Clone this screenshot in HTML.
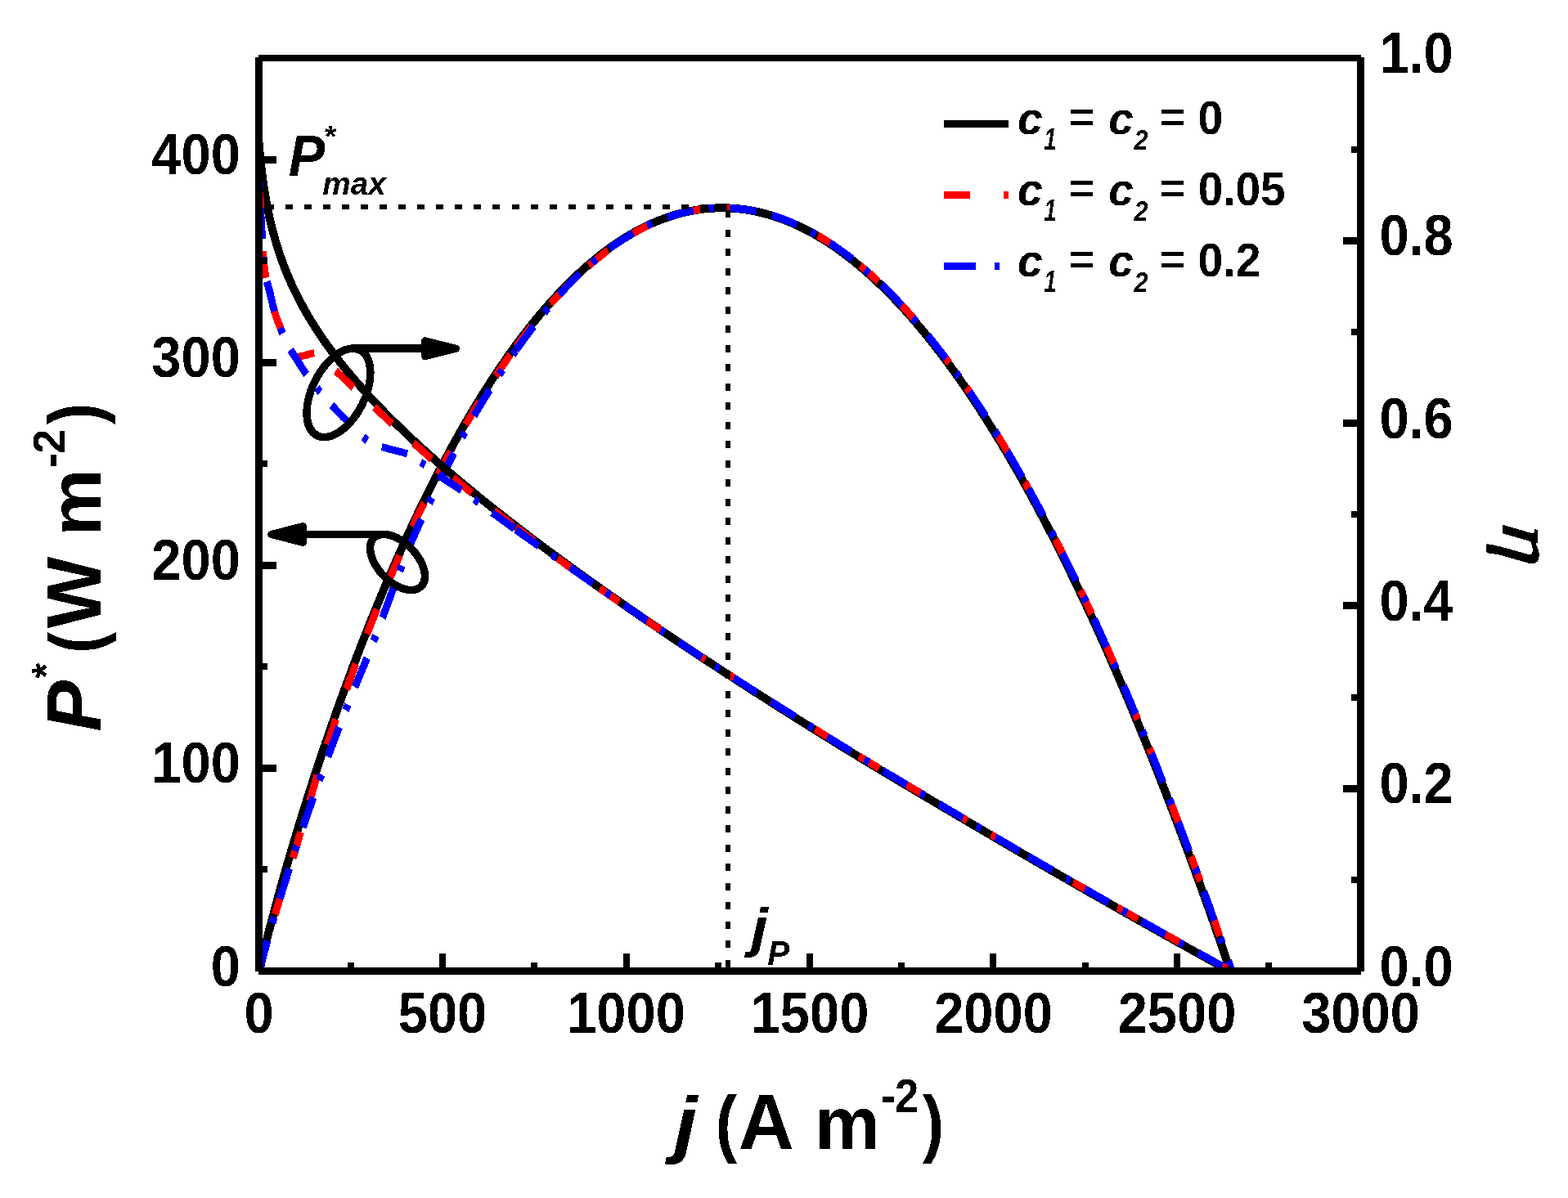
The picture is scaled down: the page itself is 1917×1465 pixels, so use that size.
<!DOCTYPE html>
<html lang="en"><head><meta charset="utf-8"><title>P* and efficiency versus current density j</title>
<style>html,body{margin:0;padding:0;background:#fff}body{width:1917px;height:1465px;overflow:hidden}svg{display:block}text{font-family:"Liberation Sans",Arial,Helvetica,sans-serif;font-weight:bold;fill:#000}.i{font-style:italic}</style></head><body>
<svg xmlns="http://www.w3.org/2000/svg" width="1917" height="1465" viewBox="0 0 1917 1465">
<defs><clipPath id="cp"><rect x="316" y="71" width="1348" height="1117"/></clipPath><filter id="bw" filterUnits="userSpaceOnUse" x="0" y="0" width="1917" height="1465" color-interpolation-filters="sRGB"><feComponentTransfer><feFuncA type="discrete" tableValues="0 1"/></feComponentTransfer></filter></defs>
<rect width="1917" height="1465" fill="#fff"/>
<g clip-path="url(#cp)" shape-rendering="crispEdges">
<path d="M316.5,1187.5 316.6,1187.5 316.7,1187.5 316.8,1187.5 316.9,1187.5 317.0,1187.5 317.1,1187.5 317.2,1187.0 317.3,1186.6 317.4,1186.1 317.5,1185.7 317.6,1185.2 317.7,1184.8 317.8,1184.3 317.9,1183.9 318.0,1183.4 318.1,1183.0 318.2,1182.5 318.3,1182.1 318.4,1181.7 318.5,1181.2 318.6,1180.8 318.7,1180.3 318.8,1179.9 318.9,1179.5 319.0,1179.0 319.1,1178.6 319.2,1178.1 319.3,1177.7 319.4,1177.3 319.5,1176.8 319.6,1176.4 319.7,1176.0 319.8,1175.5 319.9,1175.1 320.0,1174.7 320.1,1174.3 320.2,1173.8 320.3,1173.4 320.4,1173.0 320.5,1172.5 320.6,1172.1 320.7,1171.7 320.8,1171.3 320.9,1170.8 321.0,1170.4 321.1,1170.0 321.2,1169.6 321.3,1169.1 321.4,1168.7 321.5,1168.3 321.6,1167.9 321.7,1167.5 321.8,1167.0 321.9,1166.6 322.0,1166.2 322.1,1165.8 322.2,1165.4 322.3,1164.9 322.4,1164.5 322.5,1164.1 322.6,1163.7 322.7,1163.3 322.8,1162.9 322.9,1162.5 323.0,1162.0 323.1,1161.6 323.2,1161.2 323.3,1160.8 323.4,1160.4 323.5,1160.0 323.6,1159.6 323.7,1159.2 323.8,1158.8 323.9,1158.3 324.0,1157.9 324.1,1157.5 324.2,1157.1 324.3,1156.7 324.4,1156.3 324.5,1155.9 324.6,1155.5 324.7,1155.1 324.8,1154.7 324.9,1154.3 325.0,1153.9 325.1,1153.5 325.2,1153.1 325.3,1152.7 325.4,1152.2 325.5,1151.8 325.6,1151.4 325.7,1151.0 325.8,1150.6 325.9,1150.2 326.0,1149.8 326.1,1149.4 326.2,1149.0 326.3,1148.6 326.4,1148.2 326.5,1147.8 326.6,1147.4 326.7,1147.0 326.8,1146.6 326.9,1146.2 327.0,1145.8 327.1,1145.4 327.2,1145.1 327.3,1144.7 327.4,1144.3 327.5,1143.9 327.6,1143.5 327.7,1143.1 327.8,1142.7 327.9,1142.3 328.0,1141.9 328.1,1141.5 328.2,1141.1 328.3,1140.7 328.4,1140.3 328.5,1139.9 328.6,1139.5 328.7,1139.1 328.8,1138.7 328.9,1138.4 329.0,1138.0 329.1,1137.6 329.2,1137.2 329.3,1136.8 329.4,1136.4 329.5,1136.0 329.6,1135.6 329.7,1135.2 329.8,1134.8 329.9,1134.5 330.0,1134.1 330.1,1133.7 330.2,1133.3 330.3,1132.9 330.4,1132.5 330.5,1132.1 330.6,1131.7 330.7,1131.4 330.8,1131.0 330.9,1130.6 331.0,1130.2 331.1,1129.8 331.2,1129.4 331.3,1129.1 331.4,1128.7 331.6,1128.3 331.7,1127.9 331.8,1127.5 331.9,1127.1 332.0,1126.8 332.1,1126.4 332.2,1126.0 332.3,1125.6 332.4,1125.2 332.5,1124.8 332.6,1124.5 332.7,1124.1 332.8,1123.7 332.9,1123.3 333.0,1122.9 333.1,1122.6 333.2,1122.2 333.3,1121.8 333.4,1121.4 333.5,1121.0 333.6,1120.7 333.7,1120.3 333.8,1119.9 333.9,1119.5 334.0,1119.1 334.1,1118.8 334.2,1118.4 334.3,1118.0 334.4,1117.6 334.5,1117.3 334.6,1116.9 334.7,1116.5 334.8,1116.1 334.9,1115.8 335.0,1115.4 335.1,1115.0 335.2,1114.6 335.3,1114.3 335.4,1113.9 335.5,1113.5 335.6,1113.1 335.7,1112.8 335.8,1112.4 335.9,1112.0 336.0,1111.6 336.1,1111.3 336.2,1110.9 336.3,1110.5 336.4,1110.1 336.5,1109.8 336.6,1109.4 336.7,1109.0 336.8,1108.7 336.9,1108.3 337.0,1107.9 337.1,1107.5 337.2,1107.2 337.3,1106.8 337.4,1106.4 337.5,1106.1 337.6,1105.7 337.7,1105.3 337.8,1105.0 337.9,1104.6 338.0,1104.2 338.1,1103.9 338.2,1103.5 338.3,1103.1 338.4,1102.7 338.5,1102.4 338.6,1102.0 338.7,1101.6 338.8,1101.3 338.9,1100.9 339.0,1100.5 339.1,1100.2 339.2,1099.8 339.3,1099.4 339.4,1099.1 339.5,1098.7 339.6,1098.3 339.7,1098.0 339.8,1097.6 339.9,1097.2 340.0,1096.9 340.1,1096.5 340.2,1096.2 340.3,1095.8 340.4,1095.4 340.5,1095.1 340.6,1094.7 340.7,1094.3 340.8,1094.0 340.9,1093.6 341.0,1093.2 341.1,1092.9 341.2,1092.5 341.3,1092.2 341.4,1091.8 341.5,1091.4 341.6,1091.1 341.7,1090.7 341.8,1090.3 341.9,1090.0 342.0,1089.6 342.1,1089.3 342.2,1088.9 342.3,1088.5 342.4,1088.2 342.5,1087.8 342.6,1087.5 342.7,1087.1 342.8,1086.7 342.9,1086.4 343.0,1086.0 343.1,1085.7 343.2,1085.3 343.3,1084.9 343.4,1084.6 343.5,1084.2 343.6,1083.9 343.7,1083.5 343.8,1083.1 343.9,1082.8 344.0,1082.4 344.1,1082.1 344.2,1081.7 344.3,1081.4 344.4,1081.0 344.5,1080.6 344.6,1080.3 344.7,1079.9 344.8,1079.6 344.9,1079.2 345.0,1078.9 345.1,1078.5 345.2,1078.2 345.3,1077.8 345.4,1077.4 345.5,1077.1 345.6,1076.7 345.7,1076.4 345.8,1076.0 345.9,1075.7 346.0,1075.3 346.1,1075.0 346.2,1074.6 346.3,1074.3 346.4,1073.9 346.5,1073.5 346.9,1072.0 347.4,1070.4 347.8,1068.9 348.3,1067.3 348.7,1065.7 349.2,1064.2 349.6,1062.6 350.1,1061.1 350.5,1059.6 351.0,1058.0 351.4,1056.5 351.8,1054.9 352.3,1053.4 352.7,1051.9 353.2,1050.4 353.6,1048.8 354.1,1047.3 354.5,1045.8 355.0,1044.3 355.4,1042.8 355.9,1041.3 356.3,1039.8 356.7,1038.3 357.2,1036.8 357.6,1035.3 358.1,1033.8 358.5,1032.3 359.0,1030.8 359.4,1029.3 359.9,1027.8 360.3,1026.3 360.7,1024.9 361.2,1023.4 361.6,1021.9 362.1,1020.4 362.5,1019.0 363.0,1017.5 363.4,1016.0 363.9,1014.6 364.3,1013.1 364.8,1011.7 365.2,1010.2 365.6,1008.7 366.1,1007.3 366.5,1005.8 367.0,1004.4 367.4,1003.0 367.9,1001.5 368.3,1000.1 368.8,998.6 369.2,997.2 369.7,995.8 370.1,994.3 370.5,992.9 371.0,991.5 371.4,990.1 371.9,988.6 372.3,987.2 372.8,985.8 373.2,984.4 373.7,983.0 374.1,981.6 374.6,980.2 375.0,978.8 375.4,977.3 375.9,975.9 376.3,974.5 376.8,973.2 377.2,971.8 377.7,970.4 378.1,969.0 378.6,967.6 379.0,966.2 379.4,964.8 379.9,963.4 380.3,962.0 380.8,960.7 381.2,959.3 381.7,957.9 382.1,956.5 382.6,955.2 383.0,953.8 383.5,952.4 383.9,951.1 384.3,949.7 384.8,948.3 385.2,947.0 385.7,945.6 386.1,944.3 386.6,942.9 387.0,941.6 387.5,940.2 387.9,938.9 388.4,937.5 388.8,936.2 389.2,934.8 389.7,933.5 390.1,932.2 390.6,930.8 391.0,929.5 391.5,928.2 391.9,926.8 392.4,925.5 392.8,924.2 393.3,922.8 393.7,921.5 394.1,920.2 394.6,918.9 395.0,917.6 395.5,916.2 395.9,914.9 396.4,913.6 396.8,912.3 397.3,911.0 397.7,909.7 398.1,908.4 398.6,907.1 399.0,905.8 399.5,904.5 399.9,903.2 400.4,901.9 400.8,900.6 401.3,899.3 401.7,898.0 402.2,896.7 402.6,895.4 403.0,894.2 403.5,892.9 403.9,891.6 404.4,890.3 404.8,889.0 405.3,887.8 405.7,886.5 406.2,885.2 406.6,883.9 407.1,882.7 407.5,881.4 407.9,880.1 408.4,878.9 408.8,877.6 409.3,876.3 409.7,875.1 410.2,873.8 410.6,872.6 411.1,871.3 411.5,870.1 412.0,868.8 412.4,867.6 412.8,866.3 413.3,865.1 413.7,863.8 414.2,862.6 414.6,861.3 415.1,860.1 415.5,858.9 416.0,857.6 416.4,856.4 416.8,855.2 417.3,853.9 417.7,852.7 418.2,851.5 418.6,850.2 419.1,849.0 419.5,847.8 420.0,846.6 420.4,845.3 420.9,844.1 421.3,842.9 421.7,841.7 422.2,840.5 422.6,839.3 423.1,838.1 423.5,836.9 424.0,835.6 424.4,834.4 424.9,833.2 425.3,832.0 425.8,830.8 426.2,829.6 426.6,828.4 427.1,827.2 427.5,826.0 428.0,824.9 428.4,823.7 428.9,822.5 429.3,821.3 429.8,820.1 430.2,818.9 430.7,817.7 431.1,816.5 431.5,815.4 432.0,814.2 432.4,813.0 432.9,811.8 433.3,810.7 433.8,809.5 434.2,808.3 434.7,807.1 435.1,806.0 435.5,804.8 436.0,803.6 436.4,802.5 436.9,801.3 437.3,800.2 437.8,799.0 438.2,797.8 438.7,796.7 439.1,795.5 439.6,794.4 440.0,793.2 440.4,792.1 440.9,790.9 441.3,789.8 441.8,788.6 442.2,787.5 442.7,786.3 443.1,785.2 443.6,784.1 444.0,782.9 444.5,781.8 444.9,780.7 445.3,779.5 445.8,778.4 446.2,777.3 446.7,776.1 447.1,775.0 447.6,773.9 448.0,772.8 448.5,771.6 448.9,770.5 449.4,769.4 449.8,768.3 450.2,767.1 450.7,766.0 451.1,764.9 451.6,763.8 452.0,762.7 452.5,761.6 452.9,760.5 453.4,759.4 453.8,758.3 454.2,757.2 454.7,756.1 455.1,755.0 455.6,753.9 456.0,752.8 456.5,751.7 456.9,750.6 457.4,749.5 457.8,748.4 458.3,747.3 458.7,746.2 459.1,745.1 459.6,744.0 460.0,742.9 460.5,741.8 460.9,740.8 461.4,739.7 461.8,738.6 462.3,737.5 462.7,736.4 463.2,735.4 463.6,734.3 464.0,733.2 464.5,732.2 464.9,731.1 465.4,730.0 465.8,728.9 466.3,727.9 466.7,726.8 467.2,725.8 467.6,724.7 468.1,723.6 468.5,722.6 468.9,721.5 469.4,720.5 469.8,719.4 470.3,718.4 470.7,717.3 471.2,716.2 471.6,715.2 472.1,714.2 472.5,713.1 472.9,712.1 473.4,711.0 473.8,710.0 474.3,708.9 474.7,707.9 475.2,706.9 475.6,705.8 476.1,704.8 476.5,703.8 477.0,702.7 477.4,701.7 477.8,700.7 478.3,699.6 478.7,698.6 479.2,697.6 479.6,696.6 480.1,695.5 480.5,694.5 481.0,693.5 481.4,692.5 481.9,691.5 482.3,690.4 482.7,689.4 483.2,688.4 483.6,687.4 484.1,686.4 484.5,685.4 485.0,684.4 485.4,683.4 485.9,682.4 486.3,681.3 486.8,680.3 487.2,679.3 487.6,678.3 488.1,677.3 488.5,676.3 489.0,675.4 489.4,674.4 489.9,673.4 490.3,672.4 490.8,671.4 491.2,670.4 491.6,669.4 492.1,668.4 492.5,667.4 493.0,666.5 493.4,665.5 493.9,664.5 494.3,663.5 494.8,662.5 495.2,661.6 495.7,660.6 496.1,659.6 496.5,658.6 497.0,657.7 497.4,656.7 497.9,655.7 498.3,654.7 498.8,653.8 499.2,652.8 499.7,651.9 500.1,650.9 500.6,649.9 501.0,649.0 501.4,648.0 501.9,647.1 502.3,646.1 502.8,645.1 503.2,644.2 503.7,643.2 504.1,642.3 504.6,641.3 505.0,640.4 505.5,639.4 505.9,638.5 506.3,637.5 506.8,636.6 507.2,635.7 507.7,634.7 508.1,633.8 508.6,632.8 509.0,631.9 509.5,631.0 509.9,630.0 510.3,629.1 510.8,628.2 511.2,627.2 511.7,626.3 512.1,625.4 512.6,624.5 513.0,623.5 513.5,622.6 513.9,621.7 514.4,620.8 514.8,619.9 515.2,618.9 515.7,618.0 516.1,617.1 516.6,616.2 517.0,615.3 517.5,614.4 517.9,613.5 518.4,612.5 518.8,611.6 519.3,610.7 519.7,609.8 520.1,608.9 520.6,608.0 521.0,607.1 521.5,606.2 521.9,605.3 522.4,604.4 522.8,603.5 523.3,602.6 523.7,601.7 524.2,600.8 524.6,599.9 525.0,599.1 525.5,598.2 525.9,597.3 526.4,596.4 526.8,595.5 527.3,594.6 527.7,593.7 528.2,592.9 528.6,592.0 529.0,591.1 529.5,590.2 529.9,589.3 530.4,588.5 530.8,587.6 531.3,586.7 531.7,585.8 532.2,585.0 532.6,584.1 533.1,583.2 533.5,582.4 533.9,581.5 534.4,580.6 534.8,579.8 535.3,578.9 535.7,578.1 536.2,577.2 536.6,576.3 537.1,575.5 537.5,574.6 538.0,573.8 538.4,572.9 538.8,572.1 539.3,571.2 539.7,570.4 540.2,569.5 540.6,568.7 541.1,567.8 541.5,567.0 542.0,566.2 542.4,565.3 542.9,564.5 543.3,563.6 543.7,562.8 544.2,562.0 544.6,561.1 545.1,560.3 545.5,559.5 546.0,558.6 546.4,557.8 546.9,557.0 547.3,556.1 547.7,555.3 548.2,554.5 548.6,553.7 549.1,552.8 549.5,552.0 550.0,551.2 550.4,550.4 550.9,549.6 551.3,548.7 551.8,547.9 552.2,547.1 552.6,546.3 553.1,545.5 553.5,544.7 554.0,543.9 554.4,543.1 554.9,542.2 555.3,541.4 555.8,540.6 556.2,539.8 556.7,539.0 557.1,538.2 557.5,537.4 558.0,536.6 558.4,535.8 558.9,535.0 559.3,534.2 559.8,533.5 560.2,532.7 560.7,531.9 561.1,531.1 561.6,530.3 562.0,529.5 562.4,528.7 562.9,527.9 563.3,527.1 563.8,526.4 564.2,525.6 564.7,524.8 565.1,524.0 565.6,523.2 566.0,522.5 566.4,521.7 566.9,520.9 567.3,520.1 567.8,519.4 568.2,518.6 568.7,517.8 569.1,517.1 569.6,516.3 570.0,515.5 570.5,514.8 570.9,514.0 571.3,513.2 571.8,512.5 572.2,511.7 572.7,511.0 573.1,510.2 573.6,509.5 574.0,508.7 574.5,507.9 574.9,507.2 575.4,506.4 575.8,505.7 576.2,504.9 576.7,504.2 577.1,503.4 577.6,502.7 578.0,502.0 578.5,501.2 578.9,500.5 579.4,499.7 579.8,499.0 580.3,498.3 580.7,497.5 581.1,496.8 581.6,496.0 582.0,495.3 582.5,494.6 582.9,493.9 583.4,493.1 583.8,492.4 584.3,491.7 584.7,490.9 585.1,490.2 585.6,489.5 586.0,488.8 586.5,488.0 586.9,487.3 587.4,486.6 587.8,485.9 588.3,485.2 588.7,484.5 589.2,483.7 589.6,483.0 590.0,482.3 590.5,481.6 590.9,480.9 591.4,480.2 591.8,479.5 592.3,478.8 592.7,478.1 593.2,477.4 593.6,476.7 594.1,476.0 594.5,475.3 594.9,474.6 595.4,473.9 595.8,473.2 596.3,472.5 596.7,471.8 597.2,471.1 597.6,470.4 598.1,469.7 598.5,469.0 599.0,468.3 599.4,467.6 599.8,466.9 600.3,466.3 600.7,465.6 601.2,464.9 601.6,464.2 602.1,463.5 602.5,462.9 603.0,462.2 603.4,461.5 603.8,460.8 604.3,460.2 604.7,459.5 605.2,458.8 605.6,458.1 606.1,457.5 606.5,456.8 607.0,456.1 607.4,455.5 607.9,454.8 608.3,454.1 608.7,453.5 609.2,452.8 609.6,452.1 610.1,451.5 610.5,450.8 611.0,450.2 611.4,449.5 611.9,448.9 612.3,448.2 612.8,447.6 613.2,446.9 613.6,446.3 614.1,445.6 614.5,445.0 615.0,444.3 615.4,443.7 615.9,443.0 616.3,442.4 616.8,441.7 617.2,441.1 617.7,440.5 618.1,439.8 618.5,439.2 619.0,438.5 619.4,437.9 619.9,437.3 620.3,436.6 620.8,436.0 621.2,435.4 621.7,434.8 622.1,434.1 622.5,433.5 623.0,432.9 623.4,432.2 623.9,431.6 624.3,431.0 624.8,430.4 625.2,429.8 625.7,429.1 626.1,428.5 626.6,427.9 627.0,427.3 627.4,426.7 627.9,426.1 628.3,425.5 628.8,424.8 629.2,424.2 629.7,423.6 630.1,423.0 630.6,422.4 631.0,421.8 631.5,421.2 631.9,420.6 632.3,420.0 632.8,419.4 633.2,418.8 633.7,418.2 634.1,417.6 634.6,417.0 635.0,416.4 635.5,415.8 635.9,415.2 636.4,414.6 636.8,414.0 637.2,413.5 637.7,412.9 638.1,412.3 638.6,411.7 639.0,411.1 639.5,410.5 639.9,409.9 640.4,409.4 640.8,408.8 641.2,408.2 641.7,407.6 642.1,407.0 642.6,406.5 643.0,405.9 643.5,405.3 643.9,404.8 644.4,404.2 644.8,403.6 645.3,403.0 645.7,402.5 646.1,401.9 646.6,401.3 647.0,400.8 647.5,400.2 647.9,399.7 648.4,399.1 648.8,398.5 649.3,398.0 649.7,397.4 650.2,396.9 650.6,396.3 651.0,395.8 651.5,395.2 651.9,394.6 652.4,394.1 652.8,393.5 653.3,393.0 653.7,392.5 654.2,391.9 654.6,391.4 655.1,390.8 655.5,390.3 655.9,389.7 656.4,389.2 656.8,388.7 657.3,388.1 657.7,387.6 658.2,387.0 658.6,386.5 659.1,386.0 659.5,385.4 659.9,384.9 660.4,384.4 660.8,383.8 661.3,383.3 661.7,382.8 662.2,382.3 662.6,381.7 663.1,381.2 663.5,380.7 664.0,380.2 664.4,379.7 664.8,379.1 665.3,378.6 665.7,378.1 666.2,377.6 666.6,377.1 667.1,376.6 667.5,376.0 668.0,375.5 668.4,375.0 668.9,374.5 669.3,374.0 669.7,373.5 670.2,373.0 670.6,372.5 671.1,372.0 671.5,371.5 672.0,371.0 672.4,370.5 672.9,370.0 673.3,369.5 673.8,369.0 674.2,368.5 674.6,368.0 675.1,367.5 675.5,367.0 676.0,366.5 676.4,366.0 676.9,365.5 677.3,365.0 677.8,364.6 678.2,364.1 678.6,363.6 679.1,363.1 679.5,362.6 680.0,362.1 680.4,361.7 680.9,361.2 681.3,360.7 681.8,360.2 682.2,359.8 682.7,359.3 683.1,358.8 683.5,358.3 684.0,357.9 684.4,357.4 684.9,356.9 685.3,356.5 685.8,356.0 686.2,355.5 686.7,355.1 687.1,354.6 687.6,354.1 688.0,353.7 688.4,353.2 688.9,352.7 689.3,352.3 689.8,351.8 690.2,351.4 690.7,350.9 691.1,350.5 691.6,350.0 692.0,349.6 692.5,349.1 692.9,348.7 693.3,348.2 693.8,347.8 694.2,347.3 694.7,346.9 695.1,346.4 695.6,346.0 696.0,345.5 696.5,345.1 696.9,344.7 697.3,344.2 697.8,343.8 698.2,343.4 698.7,342.9 699.1,342.5 699.6,342.1 700.0,341.6 700.5,341.2 700.9,340.8 701.4,340.3 701.8,339.9 702.2,339.5 702.7,339.1 703.1,338.6 703.6,338.2 704.0,337.8 704.5,337.4 704.9,336.9 705.4,336.5 705.8,336.1 706.3,335.7 706.7,335.3 707.1,334.9 707.6,334.4 708.0,334.0 708.5,333.6 708.9,333.2 709.4,332.8 709.8,332.4 710.3,332.0 710.7,331.6 711.2,331.2 711.6,330.8 712.0,330.4 712.5,330.0 712.9,329.6 713.4,329.2 713.8,328.8 714.3,328.4 714.7,328.0 715.2,327.6 715.6,327.2 716.0,326.8 716.5,326.4 716.9,326.0 717.4,325.6 717.8,325.2 718.3,324.9 718.7,324.5 719.2,324.1 719.6,323.7 720.1,323.3 720.5,322.9 720.9,322.6 721.4,322.2 721.8,321.8 722.3,321.4 722.7,321.0 723.2,320.7 723.6,320.3 724.1,319.9 724.5,319.6 725.0,319.2 725.4,318.8 725.8,318.4 726.3,318.1 726.7,317.7 727.2,317.3 727.6,317.0 728.1,316.6 728.5,316.3 729.0,315.9 729.4,315.5 729.9,315.2 730.3,314.8 730.7,314.5 731.2,314.1 731.6,313.7 732.1,313.4 732.5,313.0 733.0,312.7 733.4,312.3 733.9,312.0 734.3,311.6 734.7,311.3 735.2,311.0 735.6,310.6 736.1,310.3 736.5,309.9 737.0,309.6 737.4,309.2 737.9,308.9 738.3,308.6 738.8,308.2 739.2,307.9 739.6,307.5 740.1,307.2 740.5,306.9 741.0,306.5 741.4,306.2 741.9,305.9 742.3,305.6 742.8,305.2 743.2,304.9 743.7,304.6 744.1,304.3 744.5,303.9 745.0,303.6 745.4,303.3 745.9,303.0 746.3,302.6 746.8,302.3 747.2,302.0 747.7,301.7 748.1,301.4 748.6,301.1 749.0,300.8 749.4,300.4 749.9,300.1 750.3,299.8 750.8,299.5 751.2,299.2 751.7,298.9 752.1,298.6 752.6,298.3 753.0,298.0 753.4,297.7 753.9,297.4 754.3,297.1 754.8,296.8 755.2,296.5 755.7,296.2 756.1,295.9 756.6,295.6 757.0,295.3 757.5,295.0 757.9,294.7 758.3,294.4 758.8,294.1 759.2,293.9 759.7,293.6 760.1,293.3 760.6,293.0 761.0,292.7 761.5,292.4 761.9,292.1 762.4,291.9 762.8,291.6 763.2,291.3 763.7,291.0 764.1,290.8 764.6,290.5 765.0,290.2 765.5,289.9 765.9,289.7 766.4,289.4 766.8,289.1 767.3,288.8 767.7,288.6 768.1,288.3 768.6,288.0 769.0,287.8 769.5,287.5 769.9,287.3 770.4,287.0 770.8,286.7 771.3,286.5 771.7,286.2 772.1,286.0 772.6,285.7 773.0,285.4 773.5,285.2 773.9,284.9 774.4,284.7 774.8,284.4 775.3,284.2 775.7,283.9 776.2,283.7 776.6,283.4 777.0,283.2 777.5,282.9 777.9,282.7 778.4,282.5 778.8,282.2 779.3,282.0 779.7,281.7 780.2,281.5 780.6,281.3 781.1,281.0 781.5,280.8 781.9,280.6 782.4,280.3 782.8,280.1 783.3,279.9 783.7,279.6 784.2,279.4 784.6,279.2 785.1,278.9 785.5,278.7 786.0,278.5 786.4,278.3 786.8,278.1 787.3,277.8 787.7,277.6 788.2,277.4 788.6,277.2 789.1,277.0 789.5,276.7 790.0,276.5 790.4,276.3 790.8,276.1 791.3,275.9 791.7,275.7 792.2,275.5 792.6,275.3 793.1,275.0 793.5,274.8 794.0,274.6 794.4,274.4 794.9,274.2 795.3,274.0 795.7,273.8 796.2,273.6 796.6,273.4 797.1,273.2 797.5,273.0 798.0,272.8 798.4,272.6 798.9,272.4 799.3,272.2 799.8,272.0 800.2,271.9 800.6,271.7 801.1,271.5 801.5,271.3 802.0,271.1 802.4,270.9 802.9,270.7 803.3,270.5 803.8,270.4 804.2,270.2 804.7,270.0 805.1,269.8 805.5,269.6 806.0,269.5 806.4,269.3 806.9,269.1 807.3,268.9 807.8,268.8 808.2,268.6 808.7,268.4 809.1,268.3 809.5,268.1 810.0,267.9 810.4,267.7 810.9,267.6 811.3,267.4 811.8,267.3 812.2,267.1 812.7,266.9 813.1,266.8 813.6,266.6 814.0,266.4 814.4,266.3 814.9,266.1 815.3,266.0 815.8,265.8 816.2,265.7 816.7,265.5 817.1,265.4 817.6,265.2 818.0,265.1 818.5,264.9 818.9,264.8 819.3,264.6 819.8,264.5 820.2,264.3 820.7,264.2 821.1,264.0 821.6,263.9 822.0,263.8 822.5,263.6 822.9,263.5 823.4,263.3 823.8,263.2 824.2,263.1 824.7,262.9 825.1,262.8 825.6,262.7 826.0,262.5 826.5,262.4 826.9,262.3 827.4,262.2 827.8,262.0 828.2,261.9 828.7,261.8 829.1,261.7 829.6,261.5 830.0,261.4 830.5,261.3 830.9,261.2 831.4,261.1 831.8,260.9 832.3,260.8 832.7,260.7 833.1,260.6 833.6,260.5 834.0,260.4 834.5,260.3 834.9,260.1 835.4,260.0 835.8,259.9 836.3,259.8 836.7,259.7 837.2,259.6 837.6,259.5 838.0,259.4 838.5,259.3 838.9,259.2 839.4,259.1 839.8,259.0 840.3,258.9 840.7,258.8 841.2,258.7 841.6,258.6 842.1,258.5 842.5,258.4 842.9,258.3 843.4,258.2 843.8,258.2 844.3,258.1 844.7,258.0 845.2,257.9 845.6,257.8 846.1,257.7 846.5,257.6 846.9,257.6 847.4,257.5 847.8,257.4 848.3,257.3 848.7,257.2 849.2,257.2 849.6,257.1 850.1,257.0 850.5,256.9 851.0,256.9 851.4,256.8 851.8,256.7 852.3,256.6 852.7,256.6 853.2,256.5 853.6,256.4 854.1,256.4 854.5,256.3 855.0,256.2 855.4,256.2 855.9,256.1 856.3,256.1 856.7,256.0 857.2,255.9 857.6,255.9 858.1,255.8 858.5,255.8 859.0,255.7 859.4,255.7 859.9,255.6 860.3,255.6 860.8,255.5 861.2,255.5 861.6,255.4 862.1,255.4 862.5,255.3 863.0,255.3 863.4,255.2 863.9,255.2 864.3,255.1 864.8,255.1 865.2,255.1 865.6,255.0 866.1,255.0 866.5,254.9 867.0,254.9 867.4,254.9 867.9,254.8 868.3,254.8 868.8,254.8 869.2,254.7 869.7,254.7 870.1,254.7 870.5,254.7 871.0,254.6 871.4,254.6 871.9,254.6 872.3,254.5 872.8,254.5 873.2,254.5 873.7,254.5 874.1,254.5 874.6,254.4 875.0,254.4 875.4,254.4 875.9,254.4 876.3,254.4 876.8,254.4 877.2,254.3 877.7,254.3 878.1,254.3 878.6,254.3 879.0,254.3 879.5,254.3 879.9,254.3 880.3,254.3 880.8,254.3 881.2,254.3 881.7,254.3 882.1,254.3 882.6,254.3 883.0,254.3 883.5,254.3 883.9,254.3 884.3,254.3 884.8,254.3 885.2,254.3 885.7,254.3 886.1,254.3 886.6,254.3 887.0,254.3 887.5,254.3 887.9,254.3 888.4,254.4 888.8,254.4 889.2,254.4 889.7,254.4 890.1,254.4 890.6,254.4 891.0,254.4 891.5,254.5 891.9,254.5 892.4,254.5 892.8,254.5 893.3,254.6 893.7,254.6 894.1,254.6 894.6,254.6 895.0,254.7 895.5,254.7 895.9,254.7 896.4,254.7 896.8,254.8 897.3,254.8 897.7,254.8 898.2,254.9 898.6,254.9 899.0,255.0 899.5,255.0 899.9,255.0 900.4,255.1 900.8,255.1 901.3,255.2 901.7,255.2 902.2,255.2 902.6,255.3 903.0,255.3 903.5,255.4 903.9,255.4 904.4,255.5 904.8,255.5 905.3,255.6 905.7,255.6 906.2,255.7 906.6,255.7 907.1,255.8 907.5,255.8 907.9,255.9 908.4,256.0 908.8,256.0 909.3,256.1 909.7,256.1 910.2,256.2 910.6,256.3 911.1,256.3 911.5,256.4 912.0,256.5 912.4,256.5 912.8,256.6 913.3,256.7 913.7,256.7 914.2,256.8 914.6,256.9 915.1,256.9 915.5,257.0 916.0,257.1 916.4,257.2 916.9,257.2 917.3,257.3 917.7,257.4 918.2,257.5 918.6,257.6 919.1,257.6 919.5,257.7 920.0,257.8 920.4,257.9 920.9,258.0 921.3,258.1 921.7,258.2 922.2,258.2 922.6,258.3 923.1,258.4 923.5,258.5 924.0,258.6 924.4,258.7 924.9,258.8 925.3,258.9 925.8,259.0 926.2,259.1 926.6,259.2 927.1,259.3 927.5,259.4 928.0,259.5 928.4,259.6 928.9,259.7 929.3,259.8 929.8,259.9 930.2,260.0 930.7,260.1 931.1,260.2 931.5,260.3 932.0,260.4 932.4,260.6 932.9,260.7 933.3,260.8 933.8,260.9 934.2,261.0 934.7,261.1 935.1,261.3 935.6,261.4 936.0,261.5 936.4,261.6 936.9,261.7 937.3,261.9 937.8,262.0 938.2,262.1 938.7,262.2 939.1,262.4 939.6,262.5 940.0,262.6 940.4,262.7 940.9,262.9 941.3,263.0 941.8,263.1 942.2,263.3 942.7,263.4 943.1,263.5 943.6,263.7 944.0,263.8 944.5,264.0 944.9,264.1 945.3,264.2 945.8,264.4 946.2,264.5 946.7,264.7 947.1,264.8 947.6,265.0 948.0,265.1 948.5,265.2 948.9,265.4 949.4,265.5 949.8,265.7 950.2,265.8 950.7,266.0 951.1,266.2 951.6,266.3 952.0,266.5 952.5,266.6 952.9,266.8 953.4,266.9 953.8,267.1 954.3,267.3 954.7,267.4 955.1,267.6 955.6,267.7 956.0,267.9 956.5,268.1 956.9,268.2 957.4,268.4 957.8,268.6 958.3,268.7 958.7,268.9 959.1,269.1 959.6,269.3 960.0,269.4 960.5,269.6 960.9,269.8 961.4,270.0 961.8,270.1 962.3,270.3 962.7,270.5 963.2,270.7 963.6,270.9 964.0,271.0 964.5,271.2 964.9,271.4 965.4,271.6 965.8,271.8 966.3,272.0 966.7,272.2 967.2,272.3 967.6,272.5 968.1,272.7 968.5,272.9 968.9,273.1 969.4,273.3 969.8,273.5 970.3,273.7 970.7,273.9 971.2,274.1 971.6,274.3 972.1,274.5 972.5,274.7 973.0,274.9 973.4,275.1 973.8,275.3 974.3,275.5 974.7,275.7 975.2,275.9 975.6,276.1 976.1,276.3 976.5,276.5 977.0,276.8 977.4,277.0 977.8,277.2 978.3,277.4 978.7,277.6 979.2,277.8 979.6,278.0 980.1,278.3 980.5,278.5 981.0,278.7 981.4,278.9 981.9,279.1 982.3,279.4 982.7,279.6 983.2,279.8 983.6,280.0 984.1,280.3 984.5,280.5 985.0,280.7 985.4,281.0 985.9,281.2 986.3,281.4 986.8,281.6 987.2,281.9 987.6,282.1 988.1,282.4 988.5,282.6 989.0,282.8 989.4,283.1 989.9,283.3 990.3,283.5 990.8,283.8 991.2,284.0 991.7,284.3 992.1,284.5 992.5,284.8 993.0,285.0 993.4,285.3 993.9,285.5 994.3,285.8 994.8,286.0 995.2,286.3 995.7,286.5 996.1,286.8 996.5,287.0 997.0,287.3 997.4,287.5 997.9,287.8 998.3,288.0 998.8,288.3 999.2,288.6 999.7,288.8 1000.1,289.1 1000.6,289.3 1001.0,289.6 1001.4,289.9 1001.9,290.1 1002.3,290.4 1002.8,290.7 1003.2,290.9 1003.7,291.2 1004.1,291.5 1004.6,291.8 1005.0,292.0 1005.5,292.3 1005.9,292.6 1006.3,292.8 1006.8,293.1 1007.2,293.4 1007.7,293.7 1008.1,294.0 1008.6,294.2 1009.0,294.5 1009.5,294.8 1009.9,295.1 1010.4,295.4 1010.8,295.7 1011.2,295.9 1011.7,296.2 1012.1,296.5 1012.6,296.8 1013.0,297.1 1013.5,297.4 1013.9,297.7 1014.4,298.0 1014.8,298.3 1015.2,298.6 1015.7,298.9 1016.1,299.2 1016.6,299.5 1017.0,299.8 1017.5,300.1 1017.9,300.4 1018.4,300.7 1018.8,301.0 1019.3,301.3 1019.7,301.6 1020.1,301.9 1020.6,302.2 1021.0,302.5 1021.5,302.8 1021.9,303.1 1022.4,303.4 1022.8,303.7 1023.3,304.0 1023.7,304.4 1024.2,304.7 1024.6,305.0 1025.0,305.3 1025.5,305.6 1025.9,305.9 1026.4,306.3 1026.8,306.6 1027.3,306.9 1027.7,307.2 1028.2,307.5 1028.6,307.9 1029.1,308.2 1029.5,308.5 1029.9,308.9 1030.4,309.2 1030.8,309.5 1031.3,309.8 1031.7,310.2 1032.2,310.5 1032.6,310.8 1033.1,311.2 1033.5,311.5 1033.9,311.8 1034.4,312.2 1034.8,312.5 1035.3,312.9 1035.7,313.2 1036.2,313.5 1036.6,313.9 1037.1,314.2 1037.5,314.6 1038.0,314.9 1038.4,315.3 1038.8,315.6 1039.3,315.9 1039.7,316.3 1040.2,316.6 1040.6,317.0 1041.1,317.3 1041.5,317.7 1042.0,318.1 1042.4,318.4 1042.9,318.8 1043.3,319.1 1043.7,319.5 1044.2,319.8 1044.6,320.2 1045.1,320.6 1045.5,320.9 1046.0,321.3 1046.4,321.6 1046.9,322.0 1047.3,322.4 1047.8,322.7 1048.2,323.1 1048.6,323.5 1049.1,323.8 1049.5,324.2 1050.0,324.6 1050.4,325.0 1050.9,325.3 1051.3,325.7 1051.8,326.1 1052.2,326.4 1052.6,326.8 1053.1,327.2 1053.5,327.6 1054.0,328.0 1054.4,328.3 1054.9,328.7 1055.3,329.1 1055.8,329.5 1056.2,329.9 1056.7,330.3 1057.1,330.6 1057.5,331.0 1058.0,331.4 1058.4,331.8 1058.9,332.2 1059.3,332.6 1059.8,333.0 1060.2,333.4 1060.7,333.8 1061.1,334.2 1061.6,334.6 1062.0,335.0 1062.4,335.4 1062.9,335.7 1063.3,336.1 1063.8,336.5 1064.2,337.0 1064.7,337.4 1065.1,337.8 1065.6,338.2 1066.0,338.6 1066.5,339.0 1066.9,339.4 1067.3,339.8 1067.8,340.2 1068.2,340.6 1068.7,341.0 1069.1,341.4 1069.6,341.8 1070.0,342.3 1070.5,342.7 1070.9,343.1 1071.3,343.5 1071.8,343.9 1072.2,344.3 1072.7,344.8 1073.1,345.2 1073.6,345.6 1074.0,346.0 1074.5,346.5 1074.9,346.9 1075.4,347.3 1075.8,347.7 1076.2,348.2 1076.7,348.6 1077.1,349.0 1077.6,349.4 1078.0,349.9 1078.5,350.3 1078.9,350.7 1079.4,351.2 1079.8,351.6 1080.3,352.0 1080.7,352.5 1081.1,352.9 1081.6,353.4 1082.0,353.8 1082.5,354.2 1082.9,354.7 1083.4,355.1 1083.8,355.6 1084.3,356.0 1084.7,356.5 1085.2,356.9 1085.6,357.4 1086.0,357.8 1086.5,358.3 1086.9,358.7 1087.4,359.2 1087.8,359.6 1088.3,360.1 1088.7,360.5 1089.2,361.0 1089.6,361.4 1090.0,361.9 1090.5,362.3 1090.9,362.8 1091.4,363.3 1091.8,363.7 1092.3,364.2 1092.7,364.6 1093.2,365.1 1093.6,365.6 1094.1,366.0 1094.5,366.5 1094.9,367.0 1095.4,367.4 1095.8,367.9 1096.3,368.4 1096.7,368.9 1097.2,369.3 1097.6,369.8 1098.1,370.3 1098.5,370.7 1099.0,371.2 1099.4,371.7 1099.8,372.2 1100.3,372.7 1100.7,373.1 1101.2,373.6 1101.6,374.1 1102.1,374.6 1102.5,375.1 1103.0,375.6 1103.4,376.0 1103.9,376.5 1104.3,377.0 1104.7,377.5 1105.2,378.0 1105.6,378.5 1106.1,379.0 1106.5,379.5 1107.0,380.0 1107.4,380.5 1107.9,380.9 1108.3,381.4 1108.7,381.9 1109.2,382.4 1109.6,382.9 1110.1,383.4 1110.5,383.9 1111.0,384.4 1111.4,384.9 1111.9,385.4 1112.3,386.0 1112.8,386.5 1113.2,387.0 1113.6,387.5 1114.1,388.0 1114.5,388.5 1115.0,389.0 1115.4,389.5 1115.9,390.0 1116.3,390.5 1116.8,391.1 1117.2,391.6 1117.7,392.1 1118.1,392.6 1118.5,393.1 1119.0,393.6 1119.4,394.2 1119.9,394.7 1120.3,395.2 1120.8,395.7 1121.2,396.2 1121.7,396.8 1122.1,397.3 1122.6,397.8 1123.0,398.4 1123.4,398.9 1123.9,399.4 1124.3,399.9 1124.8,400.5 1125.2,401.0 1125.7,401.5 1126.1,402.1 1126.6,402.6 1127.0,403.1 1127.4,403.7 1127.9,404.2 1128.3,404.8 1128.8,405.3 1129.2,405.8 1129.7,406.4 1130.1,406.9 1130.6,407.5 1131.0,408.0 1131.5,408.6 1131.9,409.1 1132.3,409.6 1132.8,410.2 1133.2,410.7 1133.7,411.3 1134.1,411.8 1134.6,412.4 1135.0,412.9 1135.5,413.5 1135.9,414.1 1136.4,414.6 1136.8,415.2 1137.2,415.7 1137.7,416.3 1138.1,416.8 1138.6,417.4 1139.0,418.0 1139.5,418.5 1139.9,419.1 1140.4,419.7 1140.8,420.2 1141.3,420.8 1141.7,421.4 1142.1,421.9 1142.6,422.5 1143.0,423.1 1143.5,423.6 1143.9,424.2 1144.4,424.8 1144.8,425.4 1145.3,425.9 1145.7,426.5 1146.1,427.1 1146.6,427.7 1147.0,428.2 1147.5,428.8 1147.9,429.4 1148.4,430.0 1148.8,430.6 1149.3,431.1 1149.7,431.7 1150.2,432.3 1150.6,432.9 1151.0,433.5 1151.5,434.1 1151.9,434.7 1152.4,435.3 1152.8,435.8 1153.3,436.4 1153.7,437.0 1154.2,437.6 1154.6,438.2 1155.1,438.8 1155.5,439.4 1155.9,440.0 1156.4,440.6 1156.8,441.2 1157.3,441.8 1157.7,442.4 1158.2,443.0 1158.6,443.6 1159.1,444.2 1159.5,444.8 1160.0,445.4 1160.4,446.0 1160.8,446.6 1161.3,447.2 1161.7,447.9 1162.2,448.5 1162.6,449.1 1163.1,449.7 1163.5,450.3 1164.0,450.9 1164.4,451.5 1164.8,452.1 1165.3,452.8 1165.7,453.4 1166.2,454.0 1166.6,454.6 1167.1,455.2 1167.5,455.9 1168.0,456.5 1168.4,457.1 1168.9,457.7 1169.3,458.4 1169.7,459.0 1170.2,459.6 1170.6,460.2 1171.1,460.9 1171.5,461.5 1172.0,462.1 1172.4,462.8 1172.9,463.4 1173.3,464.0 1173.8,464.7 1174.2,465.3 1174.6,465.9 1175.1,466.6 1175.5,467.2 1176.0,467.8 1176.4,468.5 1176.9,469.1 1177.3,469.8 1177.8,470.4 1178.2,471.1 1178.7,471.7 1179.1,472.4 1179.5,473.0 1180.0,473.6 1180.4,474.3 1180.9,474.9 1181.3,475.6 1181.8,476.2 1182.2,476.9 1182.7,477.6 1183.1,478.2 1183.5,478.9 1184.0,479.5 1184.4,480.2 1184.9,480.8 1185.3,481.5 1185.8,482.2 1186.2,482.8 1186.7,483.5 1187.1,484.1 1187.6,484.8 1188.0,485.5 1188.4,486.1 1188.9,486.8 1189.3,487.5 1189.8,488.1 1190.2,488.8 1190.7,489.5 1191.1,490.1 1191.6,490.8 1192.0,491.5 1192.5,492.2 1192.9,492.8 1193.3,493.5 1193.8,494.2 1194.2,494.9 1194.7,495.5 1195.1,496.2 1195.6,496.9 1196.0,497.6 1196.5,498.3 1196.9,499.0 1197.4,499.6 1197.8,500.3 1198.2,501.0 1198.7,501.7 1199.1,502.4 1199.6,503.1 1200.0,503.8 1200.5,504.5 1200.9,505.1 1201.4,505.8 1201.8,506.5 1202.2,507.2 1202.7,507.9 1203.1,508.6 1203.6,509.3 1204.0,510.0 1204.5,510.7 1204.9,511.4 1205.4,512.1 1205.8,512.8 1206.3,513.5 1206.7,514.2 1207.1,514.9 1207.6,515.6 1208.0,516.3 1208.5,517.0 1208.9,517.8 1209.4,518.5 1209.8,519.2 1210.3,519.9 1210.7,520.6 1211.2,521.3 1211.6,522.0 1212.0,522.7 1212.5,523.5 1212.9,524.2 1213.4,524.9 1213.8,525.6 1214.3,526.3 1214.7,527.0 1215.2,527.8 1215.6,528.5 1216.1,529.2 1216.5,529.9 1216.9,530.7 1217.4,531.4 1217.8,532.1 1218.3,532.8 1218.7,533.6 1219.2,534.3 1219.6,535.0 1220.1,535.8 1220.5,536.5 1220.9,537.2 1221.4,538.0 1221.8,538.7 1222.3,539.4 1222.7,540.2 1223.2,540.9 1223.6,541.6 1224.1,542.4 1224.5,543.1 1225.0,543.9 1225.4,544.6 1225.8,545.4 1226.3,546.1 1226.7,546.8 1227.2,547.6 1227.6,548.3 1228.1,549.1 1228.5,549.8 1229.0,550.6 1229.4,551.3 1229.9,552.1 1230.3,552.8 1230.7,553.6 1231.2,554.3 1231.6,555.1 1232.1,555.9 1232.5,556.6 1233.0,557.4 1233.4,558.1 1233.9,558.9 1234.3,559.7 1234.8,560.4 1235.2,561.2 1235.6,561.9 1236.1,562.7 1236.5,563.5 1237.0,564.2 1237.4,565.0 1237.9,565.8 1238.3,566.5 1238.8,567.3 1239.2,568.1 1239.6,568.9 1240.1,569.6 1240.5,570.4 1241.0,571.2 1241.4,572.0 1241.9,572.7 1242.3,573.5 1242.8,574.3 1243.2,575.1 1243.7,575.8 1244.1,576.6 1244.5,577.4 1245.0,578.2 1245.4,579.0 1245.9,579.8 1246.3,580.5 1246.8,581.3 1247.2,582.1 1247.7,582.9 1248.1,583.7 1248.6,584.5 1249.0,585.3 1249.4,586.1 1249.9,586.9 1250.3,587.7 1250.8,588.5 1251.2,589.3 1251.7,590.1 1252.1,590.8 1252.6,591.6 1253.0,592.4 1253.5,593.2 1253.9,594.0 1254.3,594.9 1254.8,595.7 1255.2,596.5 1255.7,597.3 1256.1,598.1 1256.6,598.9 1257.0,599.7 1257.5,600.5 1257.9,601.3 1258.3,602.1 1258.8,602.9 1259.2,603.7 1259.7,604.6 1260.1,605.4 1260.6,606.2 1261.0,607.0 1261.5,607.8 1261.9,608.6 1262.4,609.5 1262.8,610.3 1263.2,611.1 1263.7,611.9 1264.1,612.7 1264.6,613.6 1265.0,614.4 1265.5,615.2 1265.9,616.0 1266.4,616.9 1266.8,617.7 1267.3,618.5 1267.7,619.3 1268.1,620.2 1268.6,621.0 1269.0,621.8 1269.5,622.7 1269.9,623.5 1270.4,624.3 1270.8,625.2 1271.3,626.0 1271.7,626.9 1272.2,627.7 1272.6,628.5 1273.0,629.4 1273.5,630.2 1273.9,631.1 1274.4,631.9 1274.8,632.8 1275.3,633.6 1275.7,634.4 1276.2,635.3 1276.6,636.1 1277.0,637.0 1277.5,637.8 1277.9,638.7 1278.4,639.5 1278.8,640.4 1279.3,641.2 1279.7,642.1 1280.2,643.0 1280.6,643.8 1281.1,644.7 1281.5,645.5 1281.9,646.4 1282.4,647.2 1282.8,648.1 1283.3,649.0 1283.7,649.8 1284.2,650.7 1284.6,651.6 1285.1,652.4 1285.5,653.3 1286.0,654.2 1286.4,655.0 1286.8,655.9 1287.3,656.8 1287.7,657.6 1288.2,658.5 1288.6,659.4 1289.1,660.3 1289.5,661.1 1290.0,662.0 1290.4,662.9 1290.9,663.8 1291.3,664.6 1291.7,665.5 1292.2,666.4 1292.6,667.3 1293.1,668.2 1293.5,669.0 1294.0,669.9 1294.4,670.8 1294.9,671.7 1295.3,672.6 1295.7,673.5 1296.2,674.4 1296.6,675.3 1297.1,676.1 1297.5,677.0 1298.0,677.9 1298.4,678.8 1298.9,679.7 1299.3,680.6 1299.8,681.5 1300.2,682.4 1300.6,683.3 1301.1,684.2 1301.5,685.1 1302.0,686.0 1302.4,686.9 1302.9,687.8 1303.3,688.7 1303.8,689.6 1304.2,690.5 1304.7,691.4 1305.1,692.3 1305.5,693.2 1306.0,694.1 1306.4,695.0 1306.9,696.0 1307.3,696.9 1307.8,697.8 1308.2,698.7 1308.7,699.6 1309.1,700.5 1309.6,701.4 1310.0,702.3 1310.4,703.3 1310.9,704.2 1311.3,705.1 1311.8,706.0 1312.2,706.9 1312.7,707.9 1313.1,708.8 1313.6,709.7 1314.0,710.6 1314.4,711.6 1314.9,712.5 1315.3,713.4 1315.8,714.3 1316.2,715.3 1316.7,716.2 1317.1,717.1 1317.6,718.1 1318.0,719.0 1318.5,719.9 1318.9,720.9 1319.3,721.8 1319.8,722.7 1320.2,723.7 1320.7,724.6 1321.1,725.6 1321.6,726.5 1322.0,727.4 1322.5,728.4 1322.9,729.3 1323.4,730.3 1323.8,731.2 1324.2,732.2 1324.7,733.1 1325.1,734.0 1325.6,735.0 1326.0,735.9 1326.5,736.9 1326.9,737.8 1327.4,738.8 1327.8,739.7 1328.3,740.7 1328.7,741.7 1329.1,742.6 1329.6,743.6 1330.0,744.5 1330.5,745.5 1330.9,746.4 1331.4,747.4 1331.8,748.4 1332.3,749.3 1332.7,750.3 1333.1,751.2 1333.6,752.2 1334.0,753.2 1334.5,754.1 1334.9,755.1 1335.4,756.1 1335.8,757.0 1336.3,758.0 1336.7,759.0 1337.2,760.0 1337.6,760.9 1338.0,761.9 1338.5,762.9 1338.9,763.9 1339.4,764.8 1339.8,765.8 1340.3,766.8 1340.7,767.8 1341.2,768.7 1341.6,769.7 1342.1,770.7 1342.5,771.7 1342.9,772.7 1343.4,773.7 1343.8,774.6 1344.3,775.6 1344.7,776.6 1345.2,777.6 1345.6,778.6 1346.1,779.6 1346.5,780.6 1347.0,781.6 1347.4,782.6 1347.8,783.5 1348.3,784.5 1348.7,785.5 1349.2,786.5 1349.6,787.5 1350.1,788.5 1350.5,789.5 1351.0,790.5 1351.4,791.5 1351.8,792.5 1352.3,793.5 1352.7,794.5 1353.2,795.5 1353.6,796.5 1354.1,797.5 1354.5,798.5 1355.0,799.6 1355.4,800.6 1355.9,801.6 1356.3,802.6 1356.7,803.6 1357.2,804.6 1357.6,805.6 1358.1,806.6 1358.5,807.6 1359.0,808.7 1359.4,809.7 1359.9,810.7 1360.3,811.7 1360.8,812.7 1361.2,813.8 1361.6,814.8 1362.1,815.8 1362.5,816.8 1363.0,817.8 1363.4,818.9 1363.9,819.9 1364.3,820.9 1364.8,821.9 1365.2,823.0 1365.7,824.0 1366.1,825.0 1366.5,826.1 1367.0,827.1 1367.4,828.1 1367.9,829.2 1368.3,830.2 1368.8,831.2 1369.2,832.3 1369.7,833.3 1370.1,834.3 1370.5,835.4 1371.0,836.4 1371.4,837.5 1371.9,838.5 1372.3,839.5 1372.8,840.6 1373.2,841.6 1373.7,842.7 1374.1,843.7 1374.6,844.8 1375.0,845.8 1375.4,846.9 1375.9,847.9 1376.3,849.0 1376.8,850.0 1377.2,851.1 1377.7,852.1 1378.1,853.2 1378.6,854.2 1379.0,855.3 1379.5,856.3 1379.9,857.4 1380.3,858.5 1380.8,859.5 1381.2,860.6 1381.7,861.6 1382.1,862.7 1382.6,863.8 1383.0,864.8 1383.5,865.9 1383.9,867.0 1384.4,868.0 1384.8,869.1 1385.2,870.2 1385.7,871.2 1386.1,872.3 1386.6,873.4 1387.0,874.4 1387.5,875.5 1387.9,876.6 1388.4,877.7 1388.8,878.7 1389.2,879.8 1389.7,880.9 1390.1,882.0 1390.6,883.1 1391.0,884.1 1391.5,885.2 1391.9,886.3 1392.4,887.4 1392.8,888.5 1393.3,889.5 1393.7,890.6 1394.1,891.7 1394.6,892.8 1395.0,893.9 1395.5,895.0 1395.9,896.1 1396.4,897.2 1396.8,898.3 1397.3,899.3 1397.7,900.4 1398.2,901.5 1398.6,902.6 1399.0,903.7 1399.5,904.8 1399.9,905.9 1400.4,907.0 1400.8,908.1 1401.3,909.2 1401.7,910.3 1402.2,911.4 1402.6,912.5 1403.1,913.6 1403.5,914.7 1403.9,915.8 1404.4,916.9 1404.8,918.1 1405.3,919.2 1405.7,920.3 1406.2,921.4 1406.6,922.5 1407.1,923.6 1407.5,924.7 1407.9,925.8 1408.4,926.9 1408.8,928.1 1409.3,929.2 1409.7,930.3 1410.2,931.4 1410.6,932.5 1411.1,933.7 1411.5,934.8 1412.0,935.9 1412.4,937.0 1412.8,938.1 1413.3,939.3 1413.7,940.4 1414.2,941.5 1414.6,942.6 1415.1,943.8 1415.5,944.9 1416.0,946.0 1416.4,947.2 1416.9,948.3 1417.3,949.4 1417.7,950.6 1418.2,951.7 1418.6,952.8 1419.1,954.0 1419.5,955.1 1420.0,956.2 1420.4,957.4 1420.9,958.5 1421.3,959.7 1421.8,960.8 1422.2,961.9 1422.6,963.1 1423.1,964.2 1423.5,965.4 1424.0,966.5 1424.4,967.7 1424.9,968.8 1425.3,970.0 1425.8,971.1 1426.2,972.3 1426.6,973.4 1427.1,974.6 1427.5,975.7 1428.0,976.9 1428.4,978.0 1428.9,979.2 1429.3,980.3 1429.8,981.5 1430.2,982.6 1430.7,983.8 1431.1,985.0 1431.5,986.1 1432.0,987.3 1432.4,988.4 1432.9,989.6 1433.3,990.8 1433.8,991.9 1434.2,993.1 1434.7,994.3 1435.1,995.4 1435.6,996.6 1436.0,997.8 1436.4,999.0 1436.9,1000.1 1437.3,1001.3 1437.8,1002.5 1438.2,1003.6 1438.7,1004.8 1439.1,1006.0 1439.6,1007.2 1440.0,1008.3 1440.5,1009.5 1440.9,1010.7 1441.3,1011.9 1441.8,1013.1 1442.2,1014.2 1442.7,1015.4 1443.1,1016.6 1443.6,1017.8 1444.0,1019.0 1444.5,1020.2 1444.9,1021.4 1445.3,1022.5 1445.8,1023.7 1446.2,1024.9 1446.7,1026.1 1447.1,1027.3 1447.6,1028.5 1448.0,1029.7 1448.5,1030.9 1448.9,1032.1 1449.4,1033.3 1449.8,1034.5 1450.2,1035.7 1450.7,1036.9 1451.1,1038.1 1451.6,1039.3 1452.0,1040.5 1452.5,1041.7 1452.9,1042.9 1453.4,1044.1 1453.8,1045.3 1454.3,1046.5 1454.7,1047.7 1455.1,1048.9 1455.6,1050.1 1456.0,1051.3 1456.5,1052.5 1456.9,1053.7 1457.4,1054.9 1457.8,1056.2 1458.3,1057.4 1458.7,1058.6 1459.2,1059.8 1459.6,1061.0 1460.0,1062.2 1460.5,1063.5 1460.9,1064.7 1461.4,1065.9 1461.8,1067.1 1462.3,1068.3 1462.7,1069.6 1463.2,1070.8 1463.6,1072.0 1464.0,1073.2 1464.5,1074.5 1464.9,1075.7 1465.4,1076.9 1465.8,1078.1 1466.3,1079.4 1466.7,1080.6 1467.2,1081.8 1467.6,1083.1 1468.1,1084.3 1468.5,1085.5 1468.9,1086.8 1469.4,1088.0 1469.8,1089.2 1470.3,1090.5 1470.7,1091.7 1471.2,1092.9 1471.6,1094.2 1472.1,1095.4 1472.5,1096.7 1473.0,1097.9 1473.4,1099.2 1473.8,1100.4 1474.3,1101.6 1474.7,1102.9 1475.2,1104.1 1475.6,1105.4 1476.1,1106.6 1476.5,1107.9 1477.0,1109.1 1477.4,1110.4 1477.9,1111.6 1478.3,1112.9 1478.7,1114.1 1479.2,1115.4 1479.6,1116.7 1480.1,1117.9 1480.5,1119.2 1481.0,1120.4 1481.4,1121.7 1481.9,1122.9 1482.3,1124.2 1482.7,1125.5 1483.2,1126.7 1483.6,1128.0 1484.1,1129.3 1484.5,1130.5 1485.0,1131.8 1485.4,1133.1 1485.9,1134.3 1486.3,1135.6 1486.8,1136.9 1487.2,1138.1 1487.6,1139.4 1488.1,1140.7 1488.5,1141.9 1489.0,1143.2 1489.4,1144.5 1489.9,1145.8 1490.3,1147.0 1490.8,1148.3 1491.2,1149.6 1491.7,1150.9 1492.1,1152.2 1492.5,1153.4 1493.0,1154.7 1493.4,1156.0 1493.9,1157.3 1494.3,1158.6 1494.8,1159.9 1495.2,1161.1 1495.7,1162.4 1496.1,1163.7 1496.6,1165.0 1497.0,1166.3 1497.4,1167.6 1497.9,1168.9 1498.3,1170.2 1498.8,1171.5 1499.2,1172.8 1499.7,1174.1 1500.1,1175.3 1500.6,1176.6 1501.0,1177.9 1501.4,1179.2 1501.9,1180.5 1502.3,1181.8 1502.8,1183.1 1503.2,1184.4 1503.7,1185.7" fill="none" stroke="#000" stroke-width="10" stroke-linejoin="round"/>
<path d="M316.5,1192.0 322.8,1182.8 323.0,1182.3 323.1,1181.9 323.2,1181.4 323.3,1180.9 323.4,1180.4 323.6,1179.9 323.7,1179.5 323.8,1179.0 323.9,1178.5 324.0,1178.0 324.2,1177.5 324.3,1177.1 324.4,1176.6 324.5,1176.1 324.7,1175.6 324.8,1175.2 324.9,1174.7 325.0,1174.2 325.2,1173.7 325.3,1173.3 325.4,1172.8 325.6,1172.3 325.7,1171.8 325.8,1171.3 326.0,1170.8 326.1,1170.4 326.2,1169.9 326.4,1169.4 326.5,1168.9 326.6,1168.4 326.8,1168.0 326.9,1167.5 327.0,1167.0 327.2,1166.5 327.3,1166.0 327.4,1165.6 327.5,1165.1 327.7,1164.6 327.8,1164.1 327.9,1163.6 329.6,1157.6 321.2,1154.3 319.3,1161.2 319.1,1161.7 319.0,1162.2 318.9,1162.7 318.7,1163.2 318.6,1163.6 318.5,1164.1 318.3,1164.6 318.2,1165.1 318.1,1165.6 317.9,1166.1 317.8,1166.5 317.7,1167.0 317.5,1167.5 317.4,1168.0 317.3,1168.5 317.1,1169.0 317.0,1169.4 316.9,1169.9 316.8,1170.4 316.6,1170.9 316.5,1171.4 316.4,1171.9 316.2,1172.4 316.1,1172.8 316.0,1173.3 315.8,1173.8 315.7,1174.3 315.6,1174.8 315.5,1175.3 315.3,1175.8 315.2,1176.3 315.1,1176.8 315.0,1177.3 314.8,1177.7 314.7,1178.2 314.6,1178.7 314.5,1179.2 314.3,1179.7 314.2,1180.2 314.1,1180.7 316.5,1183.0ZM340.5,1120.0 342.5,1113.3 342.6,1112.8 342.8,1112.3 342.9,1111.9 343.1,1111.4 343.2,1110.9 343.3,1110.4 343.5,1109.9 343.6,1109.5 343.8,1109.0 343.9,1108.5 344.1,1108.0 344.2,1107.6 344.4,1107.1 344.5,1106.6 344.6,1106.1 344.8,1105.6 344.9,1105.2 345.1,1104.7 345.2,1104.2 345.4,1103.7 345.5,1103.3 345.7,1102.8 345.8,1102.3 346.0,1101.8 346.1,1101.4 346.3,1100.9 346.4,1100.4 346.5,1099.9 346.7,1099.4 346.8,1099.0 347.0,1098.5 347.1,1098.0 347.3,1097.5 347.4,1097.1 347.6,1096.6 347.7,1096.1 347.9,1095.6 348.0,1095.2 348.2,1094.7 348.3,1094.2 350.1,1088.4 341.9,1084.7 339.7,1091.5 339.6,1092.0 339.4,1092.5 339.3,1093.0 339.1,1093.4 339.0,1093.9 338.8,1094.4 338.7,1094.9 338.5,1095.4 338.4,1095.8 338.2,1096.3 338.1,1096.8 337.9,1097.3 337.8,1097.8 337.7,1098.2 337.5,1098.7 337.4,1099.2 337.2,1099.7 337.1,1100.1 336.9,1100.6 336.8,1101.1 336.6,1101.6 336.5,1102.1 336.3,1102.5 336.2,1103.0 336.0,1103.5 335.9,1104.0 335.7,1104.5 335.6,1104.9 335.5,1105.4 335.3,1105.9 335.2,1106.4 335.0,1106.9 334.9,1107.3 334.7,1107.8 334.6,1108.3 334.4,1108.8 334.3,1109.3 334.2,1109.7 334.0,1110.2 333.9,1110.7 332.1,1116.4ZM362.0,1051.1 364.3,1044.2 364.4,1043.8 364.6,1043.3 364.7,1042.8 364.9,1042.3 365.0,1041.9 365.2,1041.4 365.3,1040.9 365.5,1040.4 365.7,1039.9 365.8,1039.4 366.0,1038.9 366.1,1038.4 366.3,1037.9 366.4,1037.4 366.5,1037.0 366.7,1036.5 366.8,1036.0 367.0,1035.5 367.1,1035.0 367.2,1034.6 367.4,1034.1 367.5,1033.6 367.7,1033.1 367.8,1032.6 367.9,1032.2 368.1,1031.7 368.2,1031.2 368.4,1030.7 368.5,1030.2 368.6,1029.8 368.8,1029.3 368.9,1028.8 369.1,1028.3 369.2,1027.8 369.3,1027.4 369.5,1026.9 369.6,1026.4 369.8,1025.9 369.9,1025.4 370.0,1025.0 371.7,1019.3 363.4,1015.8 361.4,1022.4 361.3,1022.9 361.1,1023.4 361.0,1023.9 360.8,1024.4 360.7,1024.8 360.6,1025.3 360.4,1025.8 360.3,1026.3 360.1,1026.7 360.0,1027.2 359.9,1027.7 359.7,1028.2 359.6,1028.7 359.4,1029.1 359.3,1029.6 359.2,1030.1 359.0,1030.6 358.9,1031.1 358.7,1031.5 358.6,1032.0 358.5,1032.5 358.3,1033.0 358.2,1033.5 358.0,1033.9 357.9,1034.4 357.8,1034.9 357.6,1035.4 357.5,1035.9 357.3,1036.3 357.2,1036.8 357.1,1037.2 356.9,1037.7 356.8,1038.1 356.6,1038.6 356.5,1039.1 356.3,1039.6 356.2,1040.0 356.0,1040.5 355.9,1041.0 355.7,1041.5 353.8,1047.3ZM382.7,981.5 384.7,974.5 384.9,974.1 385.0,973.6 385.1,973.1 385.3,972.6 385.4,972.1 385.5,971.7 385.7,971.2 385.8,970.7 386.0,970.2 386.1,969.7 386.2,969.2 386.4,968.8 386.5,968.3 386.7,967.8 386.8,967.3 386.9,966.8 387.1,966.4 387.2,965.9 387.4,965.4 387.5,964.9 387.6,964.4 387.8,964.0 387.9,963.5 388.0,963.0 388.2,962.5 388.3,962.0 388.5,961.6 388.6,961.1 388.7,960.6 388.9,960.1 389.0,959.6 389.2,959.2 389.3,958.7 389.4,958.2 389.6,957.7 389.7,957.2 389.8,956.8 390.0,956.3 390.1,955.8 390.3,955.4 392.0,949.9 383.8,946.1 381.6,952.8 381.5,953.3 381.3,953.8 381.2,954.3 381.1,954.7 380.9,955.2 380.8,955.7 380.6,956.2 380.5,956.7 380.4,957.1 380.2,957.6 380.1,958.1 380.0,958.6 379.8,959.1 379.7,959.5 379.5,960.0 379.4,960.5 379.3,961.0 379.1,961.5 379.0,961.9 378.8,962.4 378.7,962.9 378.6,963.4 378.4,963.9 378.3,964.3 378.1,964.8 378.0,965.3 377.9,965.8 377.7,966.3 377.6,966.7 377.5,967.2 377.3,967.7 377.2,968.2 377.0,968.7 376.9,969.2 376.8,969.6 376.6,970.1 376.5,970.6 376.3,971.1 376.2,971.6 376.1,972.0 374.3,978.0ZM404.2,912.7 406.4,906.1 406.6,905.6 406.7,905.1 406.9,904.7 407.1,904.2 407.2,903.7 407.4,903.3 407.5,902.8 407.7,902.3 407.9,901.8 408.0,901.4 408.2,900.9 408.3,900.4 408.5,899.9 408.6,899.5 408.8,899.0 409.0,898.5 409.1,898.0 409.3,897.6 409.4,897.1 409.6,896.6 409.8,896.2 409.9,895.7 410.1,895.2 410.2,894.7 410.4,894.3 410.6,893.8 410.7,893.3 410.9,892.8 411.1,892.4 411.2,891.9 411.4,891.4 411.5,891.0 411.7,890.5 411.9,890.0 412.0,889.5 412.2,889.1 412.3,888.6 412.5,888.1 412.7,887.6 412.8,887.2 414.8,881.5 406.6,877.5 404.3,884.3 404.1,884.7 404.0,885.2 403.8,885.7 403.7,886.2 403.5,886.6 403.3,887.1 403.2,887.6 403.0,888.1 402.9,888.5 402.7,889.0 402.5,889.5 402.4,889.9 402.2,890.4 402.0,890.9 401.9,891.4 401.7,891.8 401.6,892.3 401.4,892.8 401.2,893.3 401.1,893.7 400.9,894.2 400.8,894.7 400.6,895.2 400.4,895.6 400.3,896.1 400.1,896.6 400.0,897.1 399.8,897.5 399.6,898.0 399.5,898.5 399.3,899.0 399.2,899.4 399.0,899.9 398.8,900.4 398.7,900.9 398.5,901.3 398.4,901.8 398.2,902.3 398.0,902.8 397.9,903.2 396.0,908.8ZM427.7,844.8 430.1,838.2 430.3,837.7 430.4,837.3 430.6,836.8 430.8,836.3 431.0,835.9 431.1,835.4 431.3,834.9 431.5,834.5 431.6,834.0 431.8,833.5 432.0,833.1 432.1,832.6 432.3,832.1 432.5,831.6 432.7,831.2 432.8,830.7 433.0,830.2 433.2,829.8 433.3,829.3 433.5,828.8 433.7,828.4 433.9,827.9 434.0,827.4 434.2,827.0 434.4,826.5 434.5,826.0 434.7,825.6 434.9,825.1 435.1,824.6 435.2,824.1 435.4,823.7 435.6,823.2 435.8,822.7 435.9,822.3 436.1,821.8 436.3,821.3 436.4,820.9 436.6,820.4 436.8,819.9 437.0,819.5 439.0,814.0 431.0,809.7 428.5,816.3 428.4,816.8 428.2,817.3 428.0,817.7 427.8,818.2 427.7,818.7 427.5,819.2 427.3,819.6 427.1,820.1 427.0,820.6 426.8,821.0 426.6,821.5 426.4,822.0 426.3,822.4 426.1,822.9 425.9,823.4 425.8,823.9 425.6,824.3 425.4,824.8 425.2,825.3 425.1,825.7 424.9,826.2 424.7,826.7 424.6,827.2 424.4,827.6 424.2,828.1 424.0,828.6 423.9,829.0 423.7,829.5 423.5,830.0 423.4,830.4 423.2,830.9 423.0,831.4 422.8,831.9 422.7,832.3 422.5,832.8 422.3,833.3 422.2,833.7 422.0,834.2 421.8,834.7 421.6,835.2 419.7,840.6ZM452.7,777.6 455.3,770.9 455.5,770.4 455.7,770.0 455.9,769.5 456.0,769.0 456.2,768.6 456.4,768.1 456.6,767.6 456.8,767.2 457.0,766.7 457.1,766.2 457.3,765.8 457.5,765.3 457.7,764.9 457.9,764.4 458.0,763.9 458.2,763.5 458.4,763.0 458.6,762.5 458.8,762.1 459.0,761.6 459.1,761.1 459.3,760.7 459.5,760.2 459.7,759.8 459.9,759.3 460.1,758.8 460.3,758.4 460.4,757.9 460.6,757.4 460.8,757.0 461.0,756.5 461.2,756.0 461.4,755.6 461.5,755.1 461.7,754.7 461.9,754.2 462.1,753.7 462.3,753.3 462.5,752.8 464.7,747.3 456.9,742.7 454.1,749.4 453.9,749.9 453.8,750.4 453.6,750.8 453.4,751.3 453.2,751.8 453.0,752.2 452.8,752.7 452.6,753.2 452.4,753.6 452.3,754.1 452.1,754.6 451.9,755.0 451.7,755.5 451.5,756.0 451.3,756.4 451.2,756.9 451.0,757.4 450.8,757.8 450.6,758.3 450.4,758.8 450.2,759.2 450.0,759.7 449.9,760.2 449.7,760.6 449.5,761.1 449.3,761.6 449.1,762.0 448.9,762.5 448.8,763.0 448.6,763.4 448.4,763.9 448.2,764.4 448.0,764.8 447.8,765.3 447.7,765.8 447.5,766.2 447.3,766.7 447.1,767.2 446.9,767.6 444.8,773.2ZM479.6,711.6 482.5,704.9 482.7,704.5 482.9,704.0 483.1,703.6 483.3,703.1 483.5,702.6 483.7,702.2 483.9,701.7 484.1,701.3 484.3,700.8 484.5,700.3 484.7,699.9 484.9,699.4 485.1,699.0 485.3,698.5 485.5,698.0 485.7,697.6 485.9,697.1 486.1,696.7 486.3,696.2 486.5,695.8 486.6,695.3 486.8,694.8 487.0,694.4 487.2,693.9 487.4,693.5 487.6,693.0 487.8,692.5 488.0,692.1 488.2,691.6 488.4,691.2 488.6,690.7 488.8,690.3 489.0,689.8 489.2,689.3 489.4,688.9 489.6,688.4 489.8,688.0 490.0,687.5 490.2,687.0 492.5,681.7 484.8,676.9 482.0,683.5 481.8,683.9 481.6,684.4 481.4,684.8 481.2,685.3 481.0,685.8 480.8,686.2 480.6,686.7 480.4,687.1 480.2,687.6 480.0,688.1 479.8,688.5 479.6,689.0 479.4,689.4 479.2,689.9 479.0,690.3 478.8,690.8 478.6,691.3 478.4,691.7 478.2,692.2 478.0,692.6 477.8,693.1 477.6,693.6 477.4,694.0 477.2,694.5 477.0,694.9 476.8,695.4 476.6,695.9 476.4,696.3 476.2,696.8 476.0,697.2 475.8,697.7 475.6,698.2 475.4,698.6 475.2,699.1 475.0,699.5 474.8,700.0 474.6,700.5 474.4,700.9 474.2,701.4 471.9,706.8ZM508.3,646.6 511.2,640.2 511.5,639.7 511.7,639.3 511.9,638.8 512.1,638.4 512.3,637.9 512.5,637.5 512.7,637.0 513.0,636.6 513.2,636.1 513.4,635.7 513.6,635.2 513.8,634.8 514.0,634.3 514.2,633.9 514.5,633.4 514.7,633.0 514.9,632.5 515.1,632.1 515.3,631.6 515.5,631.2 515.7,630.7 516.0,630.3 516.2,629.8 516.4,629.4 516.6,628.9 516.8,628.5 517.0,628.0 517.3,627.6 517.5,627.1 517.7,626.7 517.9,626.2 518.1,625.8 518.3,625.3 518.6,624.9 518.8,624.4 519.0,624.0 519.2,623.5 519.4,623.1 519.6,622.6 522.2,617.5 514.7,612.2 511.5,618.7 511.3,619.2 511.1,619.6 510.9,620.1 510.7,620.5 510.5,621.0 510.2,621.4 510.0,621.9 509.8,622.3 509.6,622.8 509.4,623.2 509.1,623.7 508.9,624.1 508.7,624.6 508.5,625.0 508.3,625.5 508.1,625.9 507.8,626.4 507.6,626.8 507.4,627.3 507.2,627.7 507.0,628.2 506.8,628.6 506.5,629.1 506.3,629.6 506.1,630.0 505.9,630.5 505.7,630.9 505.5,631.4 505.3,631.8 505.0,632.3 504.8,632.7 504.6,633.2 504.4,633.6 504.2,634.1 504.0,634.5 503.7,635.0 503.5,635.4 503.3,635.9 503.1,636.4 500.7,641.6ZM539.3,583.3 542.8,576.8 543.0,576.3 543.2,575.9 543.5,575.5 543.7,575.0 543.9,574.6 544.2,574.1 544.4,573.7 544.6,573.3 544.9,572.8 545.1,572.4 545.3,571.9 545.6,571.5 545.8,571.1 546.0,570.6 546.3,570.2 546.5,569.7 546.7,569.3 547.0,568.8 547.2,568.4 547.4,568.0 547.7,567.5 547.9,567.1 548.1,566.6 548.4,566.2 548.6,565.8 548.8,565.3 549.1,564.9 549.3,564.5 549.5,564.0 549.8,563.6 550.0,563.1 550.3,562.7 550.5,562.3 550.7,561.8 551.0,561.4 551.2,560.9 551.4,560.5 551.7,560.1 554.4,555.0 547.2,549.4 543.8,555.8 543.5,556.2 543.3,556.7 543.0,557.1 542.8,557.5 542.6,558.0 542.3,558.4 542.1,558.9 541.8,559.3 541.6,559.8 541.4,560.2 541.1,560.6 540.9,561.1 540.7,561.5 540.4,562.0 540.2,562.4 540.0,562.9 539.7,563.3 539.5,563.7 539.2,564.2 539.0,564.6 538.8,565.1 538.5,565.5 538.3,566.0 538.1,566.4 537.8,566.8 537.6,567.3 537.4,567.7 537.1,568.2 536.9,568.6 536.7,569.1 536.4,569.5 536.2,569.9 536.0,570.4 535.7,570.8 535.5,571.3 535.3,571.7 535.0,572.2 534.8,572.6 532.0,577.9ZM573.0,522.0 576.6,515.8 576.9,515.3 577.1,514.9 577.4,514.5 577.6,514.0 577.9,513.6 578.1,513.2 578.4,512.8 578.6,512.3 578.9,511.9 579.1,511.5 579.4,511.0 579.7,510.6 579.9,510.2 580.2,509.8 580.4,509.3 580.7,508.9 580.9,508.5 581.2,508.0 581.4,507.6 581.7,507.2 581.9,506.8 582.2,506.3 582.5,505.9 582.7,505.5 583.0,505.0 583.2,504.6 583.5,504.2 583.7,503.8 584.0,503.3 584.3,502.9 584.5,502.5 584.8,502.1 585.0,501.6 585.3,501.2 585.5,500.8 585.8,500.4 586.1,499.9 586.3,499.5 589.3,494.7 582.4,488.6 578.6,494.8 578.4,495.3 578.1,495.7 577.8,496.1 577.6,496.6 577.3,497.0 577.1,497.4 576.8,497.8 576.5,498.3 576.3,498.7 576.0,499.1 575.8,499.6 575.5,500.0 575.2,500.4 575.0,500.9 574.7,501.3 574.5,501.7 574.2,502.1 574.0,502.6 573.7,503.0 573.4,503.4 573.2,503.9 572.9,504.3 572.7,504.7 572.4,505.2 572.2,505.6 571.9,506.0 571.7,506.5 571.4,506.9 571.1,507.3 570.9,507.7 570.6,508.2 570.4,508.6 570.1,509.0 569.9,509.5 569.6,509.9 569.4,510.3 569.1,510.8 568.9,511.2 566.0,516.1ZM609.4,463.0 613.3,457.1 613.6,456.6 613.9,456.2 614.1,455.8 614.4,455.4 614.7,455.0 615.0,454.6 615.2,454.2 615.5,453.8 615.8,453.3 616.1,452.9 616.4,452.5 616.6,452.1 616.9,451.7 617.2,451.3 617.5,450.9 617.8,450.5 618.0,450.1 618.3,449.6 618.6,449.2 618.9,448.8 619.2,448.4 619.4,448.0 619.7,447.6 620.0,447.2 620.3,446.8 620.6,446.4 620.9,446.0 621.1,445.5 621.4,445.1 621.7,444.7 622.0,444.3 622.3,443.9 622.6,443.5 622.8,443.1 623.1,442.7 623.4,442.3 623.7,441.9 624.0,441.5 627.1,437.1 620.7,430.5 616.6,436.3 616.3,436.7 616.0,437.1 615.7,437.5 615.5,437.9 615.2,438.4 614.9,438.8 614.6,439.2 614.3,439.6 614.0,440.0 613.7,440.4 613.4,440.8 613.2,441.3 612.9,441.7 612.6,442.1 612.3,442.5 612.0,442.9 611.7,443.3 611.5,443.7 611.2,444.2 610.9,444.6 610.6,445.0 610.3,445.4 610.0,445.8 609.8,446.2 609.5,446.6 609.2,447.1 608.9,447.5 608.6,447.9 608.3,448.3 608.1,448.7 607.8,449.1 607.5,449.6 607.2,450.0 606.9,450.4 606.7,450.8 606.4,451.2 606.1,451.6 605.8,452.1 602.7,456.7ZM634.2,427.2 638.5,421.4 638.8,421.0 639.1,420.6 639.4,420.2 639.7,419.8 640.0,419.4 640.3,419.0 640.6,418.6 640.9,418.2 641.2,417.8 641.5,417.4 641.8,417.0 642.1,416.6 642.4,416.2 642.7,415.8 643.0,415.4 643.3,415.0 643.6,414.6 643.9,414.2 644.2,413.8 644.5,413.4 644.8,413.0 645.1,412.6 645.4,412.2 645.7,411.9 646.0,411.5 646.3,411.1 646.6,410.7 646.9,410.3 647.2,409.9 647.5,409.5 647.8,409.1 648.1,408.7 648.4,408.3 648.7,407.9 649.0,407.5 649.3,407.1 652.8,402.7 646.8,395.8 642.3,401.6 641.9,402.0 641.6,402.4 641.3,402.8 641.0,403.2 640.7,403.6 640.4,404.0 640.1,404.4 639.8,404.8 639.5,405.2 639.2,405.6 638.9,406.0 638.6,406.4 638.2,406.8 637.9,407.2 637.6,407.6 637.3,408.0 637.0,408.4 636.7,408.8 636.4,409.2 636.1,409.6 635.8,410.0 635.5,410.4 635.2,410.8 634.9,411.2 634.6,411.6 634.3,412.0 634.0,412.4 633.7,412.8 633.4,413.2 633.1,413.6 632.8,414.0 632.5,414.4 632.2,414.8 631.9,415.2 631.6,415.6 631.3,416.0 627.9,420.6ZM676.1,375.0 680.7,369.9 681.0,369.6 681.3,369.2 681.7,368.8 682.0,368.5 682.3,368.1 682.7,367.7 683.0,367.4 683.4,367.0 683.7,366.6 684.0,366.3 684.4,365.9 684.7,365.5 685.0,365.2 685.4,364.8 685.7,364.4 686.1,364.1 686.4,363.7 686.7,363.4 687.1,363.0 687.4,362.6 687.8,362.3 688.1,361.9 688.4,361.6 688.8,361.2 689.1,360.8 689.5,360.5 689.8,360.1 690.1,359.8 690.5,359.4 690.8,359.0 691.2,358.7 691.5,358.3 691.9,358.0 692.2,357.6 692.5,357.2 692.9,356.9 696.7,353.0 691.4,345.5 686.4,350.6 686.1,351.0 685.7,351.4 685.4,351.7 685.0,352.1 684.7,352.4 684.3,352.8 684.0,353.2 683.6,353.5 683.3,353.9 682.9,354.3 682.6,354.6 682.2,355.0 681.9,355.4 681.5,355.7 681.2,356.1 680.9,356.5 680.5,356.8 680.2,357.2 679.8,357.6 679.5,357.9 679.1,358.3 678.8,358.7 678.4,359.0 678.1,359.4 677.8,359.8 677.4,360.2 677.1,360.5 676.7,360.9 676.4,361.3 676.1,361.6 675.7,362.0 675.4,362.4 675.0,362.7 674.7,363.1 674.4,363.5 674.0,363.9 670.4,367.8ZM722.4,328.8 727.5,324.3 727.9,324.0 728.3,323.7 728.7,323.4 729.0,323.1 729.4,322.7 729.8,322.4 730.2,322.1 730.6,321.8 730.9,321.5 731.3,321.2 731.7,320.8 732.1,320.5 732.5,320.2 732.8,319.9 733.2,319.6 733.6,319.3 734.0,319.0 734.4,318.7 734.8,318.3 735.1,318.0 735.5,317.7 735.9,317.4 736.3,317.1 736.7,316.8 737.1,316.5 737.5,316.2 737.9,315.9 738.2,315.6 738.6,315.3 739.0,315.0 739.4,314.7 739.8,314.3 740.2,314.0 740.6,313.7 741.0,313.4 745.2,310.2 741.0,302.1 735.5,306.3 735.1,306.6 734.7,306.9 734.3,307.3 733.9,307.6 733.5,307.9 733.1,308.2 732.7,308.5 732.3,308.8 731.9,309.1 731.5,309.4 731.1,309.8 730.7,310.1 730.3,310.4 729.9,310.7 729.5,311.0 729.1,311.3 728.7,311.7 728.3,312.0 727.9,312.3 727.5,312.6 727.1,312.9 726.8,313.3 726.4,313.6 726.0,313.9 725.6,314.2 725.2,314.5 724.8,314.9 724.4,315.2 724.0,315.5 723.6,315.8 723.3,316.2 722.9,316.5 722.5,316.8 722.1,317.1 721.7,317.5 717.7,320.9ZM773.6,291.0 779.0,287.8 779.4,287.6 779.8,287.3 780.3,287.1 780.7,286.8 781.1,286.6 781.5,286.4 782.0,286.1 782.4,285.9 782.8,285.6 783.3,285.4 783.7,285.2 784.1,284.9 784.6,284.7 785.0,284.5 785.4,284.2 785.9,284.0 786.3,283.8 786.7,283.5 787.2,283.3 787.6,283.1 788.0,282.8 788.5,282.6 788.9,282.4 789.3,282.1 789.8,281.9 790.2,281.7 790.6,281.5 791.1,281.2 791.5,281.0 792.0,280.8 792.4,280.6 792.8,280.4 793.3,280.1 793.7,279.9 794.2,279.7 798.7,277.5 795.8,268.9 790.2,271.6 789.7,271.9 789.3,272.1 788.8,272.3 788.4,272.5 787.9,272.8 787.4,273.0 787.0,273.2 786.5,273.5 786.1,273.7 785.6,273.9 785.2,274.2 784.7,274.4 784.3,274.6 783.8,274.9 783.4,275.1 782.9,275.3 782.5,275.6 782.0,275.8 781.6,276.1 781.1,276.3 780.7,276.5 780.3,276.8 779.8,277.0 779.4,277.3 778.9,277.5 778.5,277.8 778.0,278.0 777.6,278.3 777.1,278.5 776.7,278.8 776.3,279.0 775.8,279.3 775.4,279.5 774.9,279.8 774.5,280.0 770.1,282.6ZM829.7,266.2 835.5,264.7 835.9,264.6 836.4,264.4 836.9,264.3 837.4,264.2 837.8,264.1 838.3,264.0 838.8,263.9 839.3,263.8 839.7,263.7 840.2,263.6 840.7,263.5 841.2,263.3 841.7,263.2 842.1,263.1 842.6,263.0 843.1,262.9 843.6,262.8 844.0,262.7 844.5,262.6 845.0,262.6 845.5,262.5 846.0,262.4 846.4,262.3 846.9,262.2 847.4,262.1 847.9,262.0 848.4,261.9 848.9,261.8 849.3,261.7 849.8,261.7 850.3,261.6 850.8,261.5 851.3,261.4 856.6,260.6 855.8,251.6 849.8,252.5 849.3,252.6 848.8,252.7 848.3,252.8 847.8,252.9 847.3,253.0 846.8,253.1 846.3,253.2 845.8,253.2 845.3,253.3 844.8,253.4 844.3,253.5 843.8,253.6 843.3,253.7 842.8,253.8 842.3,253.9 841.8,254.0 841.3,254.1 840.8,254.2 840.3,254.3 839.8,254.4 839.3,254.6 838.8,254.7 838.3,254.8 837.8,254.9 837.3,255.0 836.8,255.1 836.3,255.2 835.8,255.3 835.3,255.5 834.8,255.6 834.3,255.7 833.8,255.8 833.3,255.9 828.0,257.3ZM889.1,258.9 894.6,259.1 895.1,259.1 895.6,259.2 896.1,259.2 896.6,259.2 897.1,259.3 897.5,259.3 898.0,259.3 898.5,259.4 899.0,259.4 899.5,259.4 900.0,259.5 900.5,259.5 901.0,259.6 901.4,259.6 901.9,259.7 902.4,259.7 902.9,259.7 903.4,259.8 903.9,259.8 904.4,259.9 904.8,259.9 905.3,260.0 905.8,260.1 906.3,260.1 906.8,260.2 907.3,260.2 907.8,260.3 908.2,260.3 908.7,260.4 909.2,260.5 909.7,260.5 910.2,260.6 910.7,260.7 916.4,261.5 917.4,252.6 911.9,251.8 911.4,251.7 910.9,251.6 910.4,251.6 909.9,251.5 909.4,251.4 908.9,251.4 908.4,251.3 907.9,251.2 907.3,251.2 906.8,251.1 906.3,251.1 905.8,251.0 905.3,250.9 904.8,250.9 904.3,250.8 903.8,250.8 903.3,250.7 902.8,250.7 902.3,250.6 901.8,250.6 901.2,250.6 900.7,250.5 900.2,250.5 899.7,250.4 899.2,250.4 898.7,250.3 898.2,250.3 897.7,250.3 897.2,250.2 896.7,250.2 896.2,250.2 895.6,250.1 895.1,250.1 889.2,249.9ZM942.7,267.7 947.4,269.2 947.9,269.3 948.4,269.5 948.8,269.6 949.3,269.8 949.8,270.0 950.2,270.1 950.7,270.3 951.2,270.4 951.6,270.6 952.1,270.7 952.6,270.9 953.0,271.1 953.5,271.2 953.9,271.4 954.4,271.6 954.9,271.7 955.3,271.9 955.8,272.1 956.3,272.2 956.7,272.4 957.2,272.6 957.6,272.8 958.1,272.9 958.6,273.1 959.0,273.3 959.5,273.5 959.9,273.6 960.4,273.8 960.8,274.0 961.3,274.2 961.8,274.3 962.2,274.5 962.7,274.7 968.6,277.2 971.2,268.5 966.0,266.4 965.5,266.2 965.1,266.0 964.6,265.8 964.1,265.6 963.7,265.4 963.2,265.2 962.7,265.1 962.2,264.9 961.8,264.7 961.3,264.5 960.8,264.3 960.3,264.1 959.8,264.0 959.4,263.8 958.9,263.6 958.4,263.4 957.9,263.3 957.5,263.1 957.0,262.9 956.5,262.8 956.0,262.6 955.5,262.4 955.1,262.2 954.6,262.1 954.1,261.9 953.6,261.8 953.1,261.6 952.6,261.4 952.2,261.3 951.7,261.1 951.2,260.9 950.7,260.8 950.2,260.6 944.5,258.8ZM998.2,292.2 1002.6,294.8 1003.0,295.1 1003.5,295.3 1003.9,295.6 1004.3,295.8 1004.7,296.1 1005.1,296.3 1005.6,296.6 1006.0,296.9 1006.4,297.1 1006.8,297.4 1007.2,297.7 1007.7,297.9 1008.1,298.2 1008.5,298.4 1008.9,298.7 1009.3,299.0 1009.7,299.2 1010.2,299.5 1010.6,299.8 1011.0,300.0 1011.4,300.3 1011.8,300.6 1012.2,300.8 1012.6,301.1 1013.0,301.4 1013.5,301.7 1013.9,301.9 1014.3,302.2 1014.7,302.5 1015.1,302.7 1015.5,303.0 1015.9,303.3 1016.3,303.6 1016.7,303.8 1022.2,307.6 1026.2,299.4 1021.8,296.4 1021.4,296.1 1020.9,295.8 1020.5,295.5 1020.1,295.3 1019.7,295.0 1019.3,294.7 1018.8,294.4 1018.4,294.1 1018.0,293.9 1017.6,293.6 1017.1,293.3 1016.7,293.0 1016.3,292.8 1015.9,292.5 1015.4,292.2 1015.0,291.9 1014.6,291.7 1014.2,291.4 1013.7,291.1 1013.3,290.8 1012.9,290.6 1012.5,290.3 1012.0,290.0 1011.6,289.8 1011.2,289.5 1010.7,289.2 1010.3,289.0 1009.9,288.7 1009.4,288.4 1009.0,288.2 1008.6,287.9 1008.1,287.6 1007.7,287.4 1007.3,287.1 1001.6,283.8ZM1049.4,328.5 1053.2,331.8 1053.6,332.1 1054.0,332.4 1054.4,332.8 1054.7,333.1 1055.1,333.4 1055.5,333.7 1055.9,334.1 1056.2,334.4 1056.6,334.7 1057.0,335.0 1057.4,335.4 1057.7,335.7 1058.1,336.0 1058.5,336.3 1058.8,336.7 1059.2,337.0 1059.6,337.3 1060.0,337.7 1060.3,338.0 1060.7,338.3 1061.1,338.6 1061.4,339.0 1061.8,339.3 1062.2,339.6 1062.5,340.0 1062.9,340.3 1063.3,340.6 1063.6,341.0 1064.0,341.3 1064.4,341.6 1064.7,342.0 1065.1,342.3 1065.5,342.6 1065.8,343.0 1066.2,343.3 1071.3,348.0 1076.3,340.4 1072.3,336.7 1071.9,336.3 1071.6,336.0 1071.2,335.7 1070.8,335.3 1070.4,335.0 1070.1,334.6 1069.7,334.3 1069.3,334.0 1068.9,333.6 1068.6,333.3 1068.2,332.9 1067.8,332.6 1067.4,332.3 1067.1,331.9 1066.7,331.6 1066.3,331.3 1065.9,330.9 1065.6,330.6 1065.2,330.3 1064.8,329.9 1064.4,329.6 1064.0,329.3 1063.7,328.9 1063.3,328.6 1062.9,328.3 1062.5,327.9 1062.1,327.6 1061.8,327.3 1061.4,326.9 1061.0,326.6 1060.6,326.3 1060.2,325.9 1059.9,325.6 1059.5,325.3 1059.1,325.0 1053.9,320.6ZM1096.1,372.9 1099.5,376.6 1099.9,377.0 1100.2,377.4 1100.5,377.7 1100.9,378.1 1101.2,378.4 1101.5,378.8 1101.9,379.2 1102.2,379.5 1102.6,379.9 1102.9,380.3 1103.2,380.6 1103.6,381.0 1103.9,381.4 1104.2,381.8 1104.6,382.1 1104.9,382.5 1105.2,382.9 1105.6,383.2 1105.9,383.6 1106.2,384.0 1106.6,384.3 1106.9,384.7 1107.2,385.1 1107.5,385.4 1107.9,385.8 1108.2,386.2 1108.5,386.6 1108.9,386.9 1109.2,387.3 1109.5,387.7 1109.9,388.0 1110.2,388.4 1110.5,388.8 1110.8,389.2 1111.2,389.5 1111.5,389.9 1116.1,395.2 1121.8,388.1 1118.3,384.0 1117.9,383.6 1117.6,383.2 1117.3,382.8 1116.9,382.5 1116.6,382.1 1116.3,381.7 1115.9,381.3 1115.6,381.0 1115.3,380.6 1114.9,380.2 1114.6,379.8 1114.3,379.5 1113.9,379.1 1113.6,378.7 1113.3,378.3 1112.9,378.0 1112.6,377.6 1112.2,377.2 1111.9,376.8 1111.6,376.5 1111.2,376.1 1110.9,375.7 1110.6,375.3 1110.2,375.0 1109.9,374.6 1109.5,374.2 1109.2,373.8 1108.9,373.5 1108.5,373.1 1108.2,372.7 1107.8,372.4 1107.5,372.0 1107.2,371.6 1106.8,371.3 1106.5,370.9 1106.1,370.5 1101.5,365.6ZM1138.9,422.9 1142.2,427.1 1142.5,427.5 1142.8,427.9 1143.1,428.3 1143.4,428.7 1143.7,429.1 1144.0,429.5 1144.3,429.9 1144.6,430.3 1144.9,430.7 1145.2,431.0 1145.5,431.4 1145.8,431.8 1146.1,432.2 1146.4,432.6 1146.7,433.0 1147.0,433.4 1147.3,433.8 1147.6,434.2 1147.9,434.6 1148.2,435.0 1148.5,435.4 1148.8,435.8 1149.2,436.2 1149.5,436.6 1149.8,437.0 1150.1,437.4 1150.4,437.8 1150.7,438.2 1151.0,438.6 1151.2,439.0 1151.5,439.4 1151.8,439.8 1152.1,440.2 1152.4,440.6 1152.7,441.0 1153.0,441.4 1157.3,447.1 1163.6,440.5 1160.2,436.0 1159.9,435.6 1159.6,435.2 1159.3,434.8 1159.0,434.4 1158.7,434.0 1158.4,433.6 1158.1,433.2 1157.8,432.8 1157.5,432.4 1157.2,432.0 1156.9,431.6 1156.6,431.2 1156.3,430.8 1156.0,430.4 1155.7,430.0 1155.4,429.6 1155.1,429.2 1154.8,428.8 1154.5,428.4 1154.2,428.0 1153.9,427.6 1153.6,427.2 1153.3,426.8 1153.0,426.4 1152.7,426.0 1152.4,425.6 1152.1,425.2 1151.7,424.8 1151.4,424.4 1151.1,424.0 1150.8,423.6 1150.5,423.2 1150.2,422.8 1149.9,422.4 1149.6,422.0 1149.3,421.6 1144.9,416.0ZM1178.4,476.8 1181.3,481.1 1181.6,481.5 1181.9,481.9 1182.2,482.3 1182.5,482.8 1182.7,483.2 1183.0,483.6 1183.3,484.0 1183.6,484.4 1183.8,484.8 1184.1,485.2 1184.4,485.6 1184.7,486.1 1185.0,486.5 1185.2,486.9 1185.5,487.3 1185.8,487.7 1186.1,488.1 1186.3,488.5 1186.6,489.0 1186.9,489.4 1187.2,489.8 1187.5,490.2 1187.7,490.6 1188.0,491.0 1188.3,491.4 1188.6,491.9 1188.8,492.3 1189.1,492.7 1189.4,493.1 1189.7,493.5 1189.9,493.9 1190.2,494.4 1190.5,494.8 1190.8,495.2 1191.0,495.6 1191.3,496.0 1191.6,496.4 1195.5,502.4 1202.2,496.2 1199.1,491.5 1198.8,491.1 1198.5,490.7 1198.3,490.2 1198.0,489.8 1197.7,489.4 1197.4,489.0 1197.2,488.6 1196.9,488.1 1196.6,487.7 1196.3,487.3 1196.1,486.9 1195.8,486.5 1195.5,486.0 1195.2,485.6 1194.9,485.2 1194.7,484.8 1194.4,484.4 1194.1,484.0 1193.8,483.5 1193.5,483.1 1193.3,482.7 1193.0,482.3 1192.7,481.9 1192.4,481.5 1192.2,481.0 1191.9,480.6 1191.6,480.2 1191.3,479.8 1191.0,479.4 1190.8,479.0 1190.5,478.5 1190.2,478.1 1189.9,477.7 1189.6,477.3 1189.3,476.9 1189.1,476.5 1188.8,476.1 1184.9,470.3ZM1215.1,533.5 1217.9,538.1 1218.2,538.6 1218.5,539.0 1218.7,539.4 1219.0,539.8 1219.2,540.3 1219.5,540.7 1219.7,541.1 1220.0,541.6 1220.3,542.0 1220.5,542.4 1220.8,542.8 1221.0,543.3 1221.3,543.7 1221.6,544.1 1221.8,544.5 1222.1,545.0 1222.3,545.4 1222.6,545.8 1222.8,546.2 1223.1,546.7 1223.3,547.1 1223.6,547.5 1223.9,548.0 1224.1,548.4 1224.4,548.8 1224.6,549.2 1224.9,549.7 1225.1,550.1 1225.4,550.5 1225.7,551.0 1225.9,551.4 1226.2,551.8 1226.4,552.2 1226.7,552.7 1226.9,553.1 1227.2,553.5 1227.4,554.0 1231.1,560.2 1238.1,554.3 1235.2,549.4 1234.9,548.9 1234.7,548.5 1234.4,548.1 1234.2,547.6 1233.9,547.2 1233.6,546.8 1233.4,546.4 1233.1,545.9 1232.9,545.5 1232.6,545.1 1232.4,544.6 1232.1,544.2 1231.8,543.8 1231.6,543.3 1231.3,542.9 1231.1,542.5 1230.8,542.0 1230.6,541.6 1230.3,541.2 1230.0,540.8 1229.8,540.3 1229.5,539.9 1229.3,539.5 1229.0,539.0 1228.7,538.6 1228.5,538.2 1228.2,537.8 1228.0,537.3 1227.7,536.9 1227.4,536.5 1227.2,536.0 1226.9,535.6 1226.7,535.2 1226.4,534.7 1226.1,534.3 1225.9,533.9 1225.6,533.5 1222.0,527.4ZM1249.5,592.4 1253.8,600.1 1260.9,594.4 1256.6,586.6ZM1254.2,600.9 1257.0,605.9 1257.2,606.4 1257.5,606.8 1257.7,607.2 1258.0,607.7 1258.2,608.1 1258.4,608.6 1258.7,609.0 1258.9,609.4 1259.2,609.9 1259.4,610.3 1259.6,610.7 1259.9,611.2 1260.1,611.6 1260.4,612.1 1260.6,612.5 1260.8,612.9 1261.1,613.4 1261.3,613.8 1261.5,614.3 1261.8,614.7 1262.0,615.1 1262.3,615.6 1262.5,616.0 1262.7,616.4 1263.0,616.9 1263.2,617.3 1263.4,617.8 1263.7,618.2 1263.9,618.6 1264.1,619.1 1264.4,619.5 1264.6,620.0 1264.9,620.4 1265.1,620.8 1265.3,621.3 1265.6,621.7 1265.8,622.2 1266.0,622.6 1269.3,628.7 1276.6,623.2 1274.0,618.4 1273.7,617.9 1273.5,617.5 1273.3,617.0 1273.0,616.6 1272.8,616.1 1272.5,615.7 1272.3,615.3 1272.1,614.8 1271.8,614.4 1271.6,613.9 1271.4,613.5 1271.1,613.1 1270.9,612.6 1270.6,612.2 1270.4,611.7 1270.2,611.3 1269.9,610.8 1269.7,610.4 1269.5,610.0 1269.2,609.5 1269.0,609.1 1268.7,608.6 1268.5,608.2 1268.3,607.8 1268.0,607.3 1267.8,606.9 1267.5,606.4 1267.3,606.0 1267.1,605.6 1266.8,605.1 1266.6,604.7 1266.3,604.2 1266.1,603.8 1265.9,603.4 1265.6,602.9 1265.4,602.5 1265.1,602.0 1264.9,601.6 1261.4,595.2ZM1286.7,662.1 1289.3,667.3 1289.5,667.7 1289.8,668.2 1290.0,668.6 1290.2,669.1 1290.4,669.5 1290.7,670.0 1290.9,670.4 1291.1,670.9 1291.3,671.3 1291.5,671.8 1291.8,672.2 1292.0,672.6 1292.2,673.1 1292.4,673.5 1292.7,674.0 1292.9,674.4 1293.1,674.9 1293.3,675.3 1293.6,675.8 1293.8,676.2 1294.0,676.7 1294.2,677.1 1294.5,677.6 1294.7,678.0 1294.9,678.4 1295.1,678.9 1295.4,679.3 1295.6,679.8 1295.8,680.2 1296.0,680.7 1296.2,681.1 1296.5,681.6 1296.7,682.0 1296.9,682.5 1297.1,682.9 1297.4,683.4 1297.6,683.8 1297.8,684.3 1300.9,690.5 1308.3,685.3 1305.9,680.3 1305.6,679.8 1305.4,679.4 1305.2,678.9 1305.0,678.5 1304.7,678.0 1304.5,677.6 1304.3,677.1 1304.1,676.7 1303.9,676.2 1303.6,675.8 1303.4,675.3 1303.2,674.9 1303.0,674.4 1302.7,674.0 1302.5,673.5 1302.3,673.1 1302.1,672.6 1301.8,672.2 1301.6,671.7 1301.4,671.3 1301.2,670.8 1300.9,670.4 1300.7,669.9 1300.5,669.5 1300.3,669.1 1300.0,668.6 1299.8,668.2 1299.6,667.7 1299.4,667.3 1299.1,666.8 1298.9,666.4 1298.7,665.9 1298.5,665.5 1298.2,665.0 1298.0,664.6 1297.8,664.1 1297.6,663.7 1297.3,663.2 1294.0,656.7ZM1317.4,724.6 1319.8,729.6 1320.0,730.1 1320.2,730.5 1320.4,731.0 1320.6,731.4 1320.8,731.9 1321.1,732.3 1321.3,732.8 1321.5,733.2 1321.7,733.7 1321.9,734.1 1322.1,734.6 1322.3,735.0 1322.5,735.5 1322.8,735.9 1323.0,736.4 1323.2,736.9 1323.4,737.3 1323.6,737.8 1323.8,738.2 1324.0,738.7 1324.2,739.1 1324.5,739.6 1324.7,740.0 1324.9,740.5 1325.1,740.9 1325.3,741.4 1325.5,741.8 1325.7,742.3 1325.9,742.7 1326.1,743.2 1326.4,743.6 1326.6,744.1 1326.8,744.5 1327.0,745.0 1327.2,745.4 1327.4,745.9 1327.6,746.3 1327.8,746.8 1330.9,753.5 1338.5,748.5 1336.0,743.0 1335.8,742.6 1335.6,742.1 1335.4,741.6 1335.1,741.2 1334.9,740.7 1334.7,740.3 1334.5,739.8 1334.3,739.4 1334.1,738.9 1333.9,738.5 1333.7,738.0 1333.5,737.6 1333.2,737.1 1333.0,736.7 1332.8,736.2 1332.6,735.7 1332.4,735.3 1332.2,734.8 1332.0,734.4 1331.8,733.9 1331.5,733.5 1331.3,733.0 1331.1,732.6 1330.9,732.1 1330.7,731.7 1330.5,731.2 1330.3,730.8 1330.1,730.3 1329.8,729.9 1329.6,729.4 1329.4,728.9 1329.2,728.5 1329.0,728.0 1328.8,727.6 1328.6,727.1 1328.3,726.7 1328.1,726.2 1327.9,725.8 1324.9,719.4ZM1346.6,788.1 1348.9,793.2 1349.1,793.6 1349.3,794.1 1349.5,794.5 1349.7,795.0 1349.9,795.4 1350.1,795.9 1350.3,796.4 1350.5,796.8 1350.7,797.3 1350.9,797.7 1351.1,798.2 1351.3,798.6 1351.5,799.1 1351.7,799.6 1351.9,800.0 1352.1,800.5 1352.3,800.9 1352.6,801.4 1352.8,801.8 1353.0,802.3 1353.2,802.7 1353.4,803.2 1353.6,803.7 1353.8,804.1 1354.0,804.6 1354.2,805.0 1354.4,805.5 1354.6,805.9 1354.8,806.4 1355.0,806.9 1355.2,807.3 1355.4,807.8 1355.6,808.2 1355.8,808.7 1356.0,809.1 1356.2,809.6 1356.4,810.1 1356.6,810.5 1356.8,811.0 1359.6,817.4 1367.3,812.6 1365.0,807.4 1364.8,806.9 1364.6,806.4 1364.4,806.0 1364.2,805.5 1364.0,805.1 1363.8,804.6 1363.6,804.2 1363.4,803.7 1363.2,803.2 1363.0,802.8 1362.8,802.3 1362.6,801.9 1362.4,801.4 1362.2,800.9 1362.0,800.5 1361.8,800.0 1361.6,799.6 1361.4,799.1 1361.2,798.7 1361.0,798.2 1360.8,797.7 1360.6,797.3 1360.4,796.8 1360.2,796.4 1360.0,795.9 1359.8,795.5 1359.6,795.0 1359.4,794.5 1359.2,794.1 1359.0,793.6 1358.8,793.2 1358.6,792.7 1358.4,792.2 1358.1,791.8 1357.9,791.3 1357.7,790.9 1357.5,790.4 1357.3,790.0 1357.1,789.5 1354.3,783.1ZM1374.6,852.4 1376.9,857.8 1377.1,858.2 1377.3,858.7 1377.5,859.2 1377.6,859.6 1377.8,860.1 1378.0,860.5 1378.2,861.0 1378.4,861.5 1378.6,861.9 1378.8,862.4 1379.0,862.8 1379.2,863.3 1379.4,863.8 1379.6,864.2 1379.8,864.7 1380.0,865.1 1380.2,865.6 1380.4,866.1 1380.5,866.5 1380.7,867.0 1380.9,867.4 1381.1,867.9 1381.3,868.4 1381.5,868.8 1381.7,869.3 1381.9,869.8 1382.1,870.2 1382.3,870.7 1382.5,871.1 1382.7,871.6 1382.9,872.1 1383.0,872.5 1383.2,873.0 1383.4,873.4 1383.6,873.9 1383.8,874.4 1384.0,874.8 1384.2,875.3 1387.0,882.1 1394.8,877.5 1392.5,871.8 1392.3,871.4 1392.1,870.9 1391.9,870.4 1391.7,870.0 1391.5,869.5 1391.4,869.1 1391.2,868.6 1391.0,868.1 1390.8,867.7 1390.6,867.2 1390.4,866.7 1390.2,866.3 1390.0,865.8 1389.8,865.4 1389.6,864.9 1389.4,864.4 1389.2,864.0 1389.0,863.5 1388.8,863.1 1388.7,862.6 1388.5,862.1 1388.3,861.7 1388.1,861.2 1387.9,860.7 1387.7,860.3 1387.5,859.8 1387.3,859.4 1387.1,858.9 1386.9,858.4 1386.7,858.0 1386.5,857.5 1386.3,857.1 1386.1,856.6 1385.9,856.1 1385.7,855.7 1385.6,855.2 1385.4,854.7 1385.2,854.3 1382.4,847.7ZM1401.5,917.5 1403.6,922.9 1403.8,923.4 1404.0,923.8 1404.2,924.3 1404.4,924.8 1404.6,925.2 1404.7,925.7 1404.9,926.2 1405.1,926.6 1405.3,927.1 1405.5,927.6 1405.7,928.0 1405.9,928.5 1406.0,928.9 1406.2,929.4 1406.4,929.9 1406.6,930.3 1406.8,930.8 1407.0,931.3 1407.2,931.7 1407.3,932.2 1407.5,932.7 1407.7,933.1 1407.9,933.6 1408.1,934.0 1408.3,934.5 1408.4,935.0 1408.6,935.4 1408.8,935.9 1409.0,936.4 1409.2,936.8 1409.4,937.3 1409.6,937.8 1409.7,938.2 1409.9,938.7 1410.1,939.2 1410.3,939.6 1410.5,940.1 1410.7,940.5 1413.4,947.5 1421.3,943.0 1419.0,937.2 1418.8,936.8 1418.7,936.3 1418.5,935.8 1418.3,935.4 1418.1,934.9 1417.9,934.4 1417.7,934.0 1417.6,933.5 1417.4,933.0 1417.2,932.6 1417.0,932.1 1416.8,931.7 1416.6,931.2 1416.4,930.7 1416.3,930.3 1416.1,929.8 1415.9,929.3 1415.7,928.9 1415.5,928.4 1415.3,927.9 1415.1,927.5 1415.0,927.0 1414.8,926.5 1414.6,926.1 1414.4,925.6 1414.2,925.1 1414.0,924.7 1413.8,924.2 1413.7,923.7 1413.5,923.3 1413.3,922.8 1413.1,922.4 1412.9,921.9 1412.7,921.4 1412.5,921.0 1412.4,920.5 1412.2,920.0 1412.0,919.6 1409.3,912.9ZM1427.3,983.1 1429.3,988.5 1429.5,989.0 1429.7,989.4 1429.9,989.9 1430.0,990.4 1430.2,990.8 1430.4,991.3 1430.6,991.8 1430.8,992.2 1430.9,992.7 1431.1,993.2 1431.3,993.6 1431.5,994.1 1431.7,994.6 1431.8,995.0 1432.0,995.5 1432.2,996.0 1432.4,996.4 1432.5,996.9 1432.7,997.4 1432.9,997.8 1433.1,998.3 1433.3,998.8 1433.4,999.2 1433.6,999.7 1433.8,1000.2 1434.0,1000.6 1434.1,1001.1 1434.3,1001.6 1434.5,1002.0 1434.7,1002.5 1434.9,1003.0 1435.0,1003.4 1435.2,1003.9 1435.4,1004.4 1435.6,1004.8 1435.7,1005.3 1435.9,1005.8 1436.1,1006.2 1436.3,1006.7 1438.8,1013.4 1446.8,1009.0 1444.7,1003.5 1444.5,1003.0 1444.3,1002.6 1444.2,1002.1 1444.0,1001.6 1443.8,1001.2 1443.6,1000.7 1443.4,1000.2 1443.3,999.8 1443.1,999.3 1442.9,998.8 1442.7,998.4 1442.6,997.9 1442.4,997.4 1442.2,997.0 1442.0,996.5 1441.8,996.0 1441.7,995.6 1441.5,995.1 1441.3,994.6 1441.1,994.2 1441.0,993.7 1440.8,993.2 1440.6,992.7 1440.4,992.3 1440.2,991.8 1440.1,991.3 1439.9,990.9 1439.7,990.4 1439.5,989.9 1439.3,989.5 1439.2,989.0 1439.0,988.5 1438.8,988.1 1438.6,987.6 1438.5,987.1 1438.3,986.7 1438.1,986.2 1437.9,985.7 1437.7,985.3 1435.2,978.7ZM1452.2,1049.3 1454.3,1054.9 1454.4,1055.4 1454.6,1055.8 1454.8,1056.3 1454.9,1056.8 1455.1,1057.2 1455.3,1057.7 1455.5,1058.2 1455.6,1058.7 1455.8,1059.1 1456.0,1059.6 1456.2,1060.1 1456.3,1060.5 1456.5,1061.0 1456.7,1061.5 1456.8,1061.9 1457.0,1062.4 1457.2,1062.9 1457.4,1063.3 1457.5,1063.8 1457.7,1064.3 1457.9,1064.8 1458.0,1065.2 1458.2,1065.7 1458.4,1066.2 1458.6,1066.6 1458.7,1067.1 1458.9,1067.6 1459.1,1068.0 1459.2,1068.5 1459.4,1069.0 1459.6,1069.4 1459.8,1069.9 1459.9,1070.4 1460.1,1070.9 1460.3,1071.3 1460.4,1071.8 1460.6,1072.3 1460.8,1072.7 1461.0,1073.2 1463.3,1079.7 1471.4,1075.5 1469.4,1070.1 1469.2,1069.7 1469.1,1069.2 1468.9,1068.7 1468.7,1068.2 1468.6,1067.8 1468.4,1067.3 1468.2,1066.8 1468.0,1066.4 1467.9,1065.9 1467.7,1065.4 1467.5,1065.0 1467.4,1064.5 1467.2,1064.0 1467.0,1063.5 1466.8,1063.1 1466.7,1062.6 1466.5,1062.1 1466.3,1061.7 1466.2,1061.2 1466.0,1060.7 1465.8,1060.3 1465.6,1059.8 1465.5,1059.3 1465.3,1058.8 1465.1,1058.4 1464.9,1057.9 1464.8,1057.4 1464.6,1057.0 1464.4,1056.5 1464.3,1056.0 1464.1,1055.6 1463.9,1055.1 1463.7,1054.6 1463.6,1054.1 1463.4,1053.7 1463.2,1053.2 1463.1,1052.7 1462.9,1052.3 1462.7,1051.8 1460.2,1045.0ZM1476.3,1115.9 1478.3,1121.6 1478.5,1122.1 1478.7,1122.6 1478.8,1123.1 1479.0,1123.5 1479.2,1124.0 1479.3,1124.5 1479.5,1124.9 1479.7,1125.4 1479.8,1125.9 1480.0,1126.4 1480.2,1126.8 1480.3,1127.3 1480.5,1127.8 1480.7,1128.2 1480.8,1128.7 1481.0,1129.2 1481.2,1129.7 1481.3,1130.1 1481.5,1130.6 1481.7,1131.1 1481.8,1131.5 1482.0,1132.0 1482.1,1132.5 1482.3,1133.0 1482.5,1133.4 1482.6,1133.9 1482.8,1134.4 1483.0,1134.8 1483.1,1135.3 1483.3,1135.8 1483.5,1136.2 1483.6,1136.7 1483.8,1137.2 1484.0,1137.7 1484.1,1138.1 1484.3,1138.6 1484.5,1139.1 1484.6,1139.6 1487.1,1146.5 1495.2,1142.5 1493.1,1136.6 1493.0,1136.1 1492.8,1135.6 1492.6,1135.2 1492.5,1134.7 1492.3,1134.2 1492.1,1133.7 1492.0,1133.3 1491.8,1132.8 1491.6,1132.3 1491.5,1131.9 1491.3,1131.4 1491.1,1130.9 1491.0,1130.4 1490.8,1130.0 1490.6,1129.5 1490.5,1129.0 1490.3,1128.5 1490.1,1128.1 1490.0,1127.6 1489.8,1127.1 1489.6,1126.7 1489.5,1126.2 1489.3,1125.7 1489.1,1125.2 1489.0,1124.8 1488.8,1124.3 1488.6,1123.8 1488.5,1123.4 1488.3,1122.9 1488.1,1122.4 1488.0,1121.9 1487.8,1121.5 1487.6,1121.0 1487.5,1120.5 1487.3,1120.1 1487.1,1119.6 1487.0,1119.1 1486.8,1118.6 1484.4,1111.8ZM1499.7,1182.9 1501.3,1187.7 1509.4,1183.7 1507.8,1178.9Z" fill="#f00"/>
<path d="M316.5,1192.0 322.8,1182.8 323.0,1182.3 323.1,1181.9 323.2,1181.4 323.3,1180.9 323.4,1180.4 323.6,1179.9 323.7,1179.5 323.8,1179.0 323.9,1178.5 324.0,1178.0 324.2,1177.5 324.3,1177.1 324.4,1176.6 324.5,1176.1 324.7,1175.6 324.8,1175.2 324.9,1174.7 325.0,1174.2 325.2,1173.7 325.3,1173.3 325.4,1172.8 325.6,1172.3 325.7,1171.8 325.8,1171.3 326.0,1170.8 326.1,1170.4 326.2,1169.9 326.4,1169.4 326.5,1168.9 326.6,1168.4 326.8,1168.0 326.9,1167.5 327.0,1167.0 327.2,1166.5 327.3,1166.0 327.4,1165.6 327.5,1165.1 327.7,1164.6 327.8,1164.1 327.9,1163.6 328.1,1163.1 328.2,1162.7 328.3,1162.2 328.5,1161.7 328.6,1161.2 328.7,1160.7 328.9,1160.3 329.0,1159.8 329.1,1159.3 329.3,1158.8 329.4,1158.3 329.5,1157.8 331.1,1152.0 322.7,1148.7 320.9,1155.4 320.7,1155.9 320.6,1156.4 320.5,1156.9 320.3,1157.4 320.2,1157.9 320.1,1158.3 319.9,1158.8 319.8,1159.3 319.7,1159.8 319.5,1160.3 319.4,1160.7 319.3,1161.2 319.1,1161.7 319.0,1162.2 318.9,1162.7 318.7,1163.2 318.6,1163.6 318.5,1164.1 318.3,1164.6 318.2,1165.1 318.1,1165.6 317.9,1166.1 317.8,1166.5 317.7,1167.0 317.5,1167.5 317.4,1168.0 317.3,1168.5 317.1,1169.0 317.0,1169.4 316.9,1169.9 316.8,1170.4 316.6,1170.9 316.5,1171.4 316.4,1171.9 316.2,1172.4 316.1,1172.8 316.0,1173.3 315.8,1173.8 315.7,1174.3 315.6,1174.8 315.5,1175.3 315.3,1175.8 315.2,1176.3 315.1,1176.8 315.0,1177.3 314.8,1177.7 314.7,1178.2 314.6,1178.7 314.5,1179.2 314.3,1179.7 314.2,1180.2 314.1,1180.7 316.5,1183.0ZM337.3,1130.6 339.4,1123.4 331.1,1119.8 329.0,1127.0ZM346.2,1101.1 348.3,1094.2 348.5,1093.7 348.6,1093.3 348.8,1092.8 348.9,1092.3 349.1,1091.8 349.2,1091.3 349.4,1090.9 349.5,1090.4 349.7,1089.9 349.8,1089.4 350.0,1089.0 350.1,1088.5 350.3,1088.0 350.4,1087.5 350.6,1087.1 350.7,1086.6 350.9,1086.1 351.0,1085.6 351.2,1085.2 351.3,1084.7 351.5,1084.2 351.6,1083.7 351.8,1083.2 351.9,1082.8 352.1,1082.3 352.2,1081.8 352.4,1081.3 352.5,1080.9 352.7,1080.4 352.8,1079.9 353.0,1079.4 353.1,1079.0 353.3,1078.5 353.4,1078.0 353.6,1077.5 353.7,1077.1 353.9,1076.6 354.0,1076.1 354.2,1075.6 354.3,1075.2 354.5,1074.7 354.6,1074.2 354.8,1073.7 354.9,1073.2 355.1,1072.8 355.2,1072.3 355.4,1071.8 355.5,1071.3 355.7,1070.9 355.8,1070.4 356.0,1069.9 357.9,1064.1 349.6,1060.3 347.4,1067.2 347.3,1067.7 347.1,1068.1 347.0,1068.6 346.8,1069.1 346.7,1069.6 346.5,1070.0 346.4,1070.5 346.2,1071.0 346.0,1071.5 345.9,1071.9 345.7,1072.4 345.6,1072.9 345.4,1073.4 345.3,1073.9 345.1,1074.3 345.0,1074.8 344.8,1075.3 344.7,1075.8 344.5,1076.2 344.4,1076.7 344.2,1077.2 344.1,1077.7 343.9,1078.2 343.8,1078.6 343.6,1079.1 343.5,1079.6 343.3,1080.1 343.2,1080.5 343.0,1081.0 342.9,1081.5 342.7,1082.0 342.6,1082.5 342.4,1082.9 342.3,1083.4 342.1,1083.9 342.0,1084.4 341.8,1084.8 341.7,1085.3 341.5,1085.8 341.4,1086.3 341.2,1086.7 341.1,1087.2 340.9,1087.7 340.8,1088.2 340.6,1088.7 340.5,1089.1 340.3,1089.6 340.2,1090.1 340.0,1090.6 339.9,1091.0 339.7,1091.5 337.9,1097.4ZM364.7,1042.8 367.0,1035.8 358.8,1031.9 356.5,1039.0ZM374.4,1013.7 376.8,1006.9 376.9,1006.4 377.1,1005.9 377.3,1005.4 377.4,1005.0 377.6,1004.5 377.8,1004.0 377.9,1003.5 378.1,1003.1 378.2,1002.6 378.4,1002.1 378.6,1001.7 378.7,1001.2 378.9,1000.7 379.1,1000.2 379.2,999.8 379.4,999.3 379.5,998.8 379.7,998.4 379.9,997.9 380.0,997.4 380.2,996.9 380.4,996.5 380.5,996.0 380.7,995.5 380.9,995.0 381.0,994.6 381.2,994.1 381.3,993.6 381.5,993.2 381.7,992.7 381.8,992.2 382.0,991.7 382.2,991.3 382.3,990.8 382.5,990.3 382.7,989.9 382.8,989.4 383.0,988.9 383.1,988.4 383.3,988.0 383.5,987.5 383.6,987.0 383.8,986.6 384.0,986.1 384.1,985.6 384.3,985.1 384.5,984.7 384.6,984.2 384.8,983.7 384.9,983.2 385.1,982.8 387.1,977.2 379.0,973.1 376.6,979.8 376.4,980.3 376.3,980.8 376.1,981.2 376.0,981.7 375.8,982.2 375.6,982.6 375.5,983.1 375.3,983.6 375.1,984.1 375.0,984.5 374.8,985.0 374.6,985.5 374.5,986.0 374.3,986.4 374.1,986.9 374.0,987.4 373.8,987.9 373.7,988.3 373.5,988.8 373.3,989.3 373.2,989.7 373.0,990.2 372.8,990.7 372.7,991.2 372.5,991.6 372.3,992.1 372.2,992.6 372.0,993.1 371.9,993.5 371.7,994.0 371.5,994.5 371.4,994.9 371.2,995.4 371.0,995.9 370.9,996.4 370.7,996.8 370.6,997.3 370.4,997.8 370.2,998.3 370.1,998.7 369.9,999.2 369.7,999.7 369.6,1000.2 369.4,1000.6 369.2,1001.1 369.1,1001.6 368.9,1002.0 368.8,1002.5 368.6,1003.0 368.4,1003.5 368.3,1003.9 366.3,1009.7ZM394.5,956.2 397.0,949.3 389.0,945.1 386.4,952.1ZM405.0,927.5 407.5,920.8 407.7,920.3 407.8,919.9 408.0,919.4 408.2,918.9 408.4,918.5 408.5,918.0 408.7,917.5 408.9,917.1 409.1,916.6 409.2,916.1 409.4,915.6 409.6,915.2 409.8,914.7 409.9,914.2 410.1,913.8 410.3,913.3 410.5,912.8 410.6,912.4 410.8,911.9 411.0,911.4 411.2,911.0 411.4,910.5 411.5,910.0 411.7,909.6 411.9,909.1 412.1,908.6 412.2,908.2 412.4,907.7 412.6,907.2 412.8,906.8 412.9,906.3 413.1,905.8 413.3,905.4 413.5,904.9 413.6,904.4 413.8,904.0 414.0,903.5 414.2,903.0 414.3,902.6 414.5,902.1 414.7,901.6 414.9,901.2 415.1,900.7 415.2,900.2 415.4,899.8 415.6,899.3 415.8,898.8 415.9,898.4 416.1,897.9 416.3,897.4 416.5,897.0 418.6,891.4 410.6,887.0 408.1,893.8 407.9,894.2 407.7,894.7 407.5,895.2 407.3,895.6 407.2,896.1 407.0,896.6 406.8,897.0 406.6,897.5 406.5,898.0 406.3,898.4 406.1,898.9 405.9,899.4 405.7,899.8 405.6,900.3 405.4,900.8 405.2,901.2 405.0,901.7 404.9,902.2 404.7,902.7 404.5,903.1 404.3,903.6 404.2,904.1 404.0,904.5 403.8,905.0 403.6,905.5 403.5,905.9 403.3,906.4 403.1,906.9 402.9,907.3 402.7,907.8 402.6,908.3 402.4,908.7 402.2,909.2 402.0,909.7 401.9,910.1 401.7,910.6 401.5,911.1 401.3,911.6 401.2,912.0 401.0,912.5 400.8,913.0 400.6,913.4 400.5,913.9 400.3,914.4 400.1,914.8 399.9,915.3 399.8,915.8 399.6,916.2 399.4,916.7 399.2,917.2 399.1,917.7 397.0,923.2ZM426.6,870.8 429.3,863.9 421.4,859.4 418.6,866.3ZM437.9,842.5 440.7,835.7 440.8,835.2 441.0,834.7 441.2,834.3 441.4,833.8 441.6,833.4 441.8,832.9 442.0,832.4 442.2,832.0 442.4,831.5 442.6,831.1 442.7,830.6 442.9,830.1 443.1,829.7 443.3,829.2 443.5,828.8 443.7,828.3 443.9,827.8 444.1,827.4 444.3,826.9 444.5,826.4 444.7,826.0 444.8,825.5 445.0,825.1 445.2,824.6 445.4,824.1 445.6,823.7 445.8,823.2 446.0,822.8 446.2,822.3 446.4,821.8 446.6,821.4 446.8,820.9 447.0,820.5 447.1,820.0 447.3,819.5 447.5,819.1 447.7,818.6 447.9,818.1 448.1,817.7 448.3,817.2 448.5,816.8 448.7,816.3 448.9,815.8 449.1,815.4 449.3,814.9 449.5,814.5 449.7,814.0 449.8,813.5 450.0,813.1 450.2,812.6 452.6,807.1 444.8,802.4 441.9,809.1 441.7,809.6 441.5,810.1 441.4,810.5 441.2,811.0 441.0,811.4 440.8,811.9 440.6,812.4 440.4,812.8 440.2,813.3 440.0,813.8 439.8,814.2 439.6,814.7 439.4,815.1 439.2,815.6 439.0,816.1 438.8,816.5 438.6,817.0 438.5,817.4 438.3,817.9 438.1,818.4 437.9,818.8 437.7,819.3 437.5,819.8 437.3,820.2 437.1,820.7 436.9,821.1 436.7,821.6 436.5,822.1 436.3,822.5 436.1,823.0 436.0,823.5 435.8,823.9 435.6,824.4 435.4,824.8 435.2,825.3 435.0,825.8 434.8,826.2 434.6,826.7 434.4,827.2 434.2,827.6 434.0,828.1 433.9,828.6 433.7,829.0 433.5,829.5 433.3,829.9 433.1,830.4 432.9,830.9 432.7,831.3 432.5,831.8 432.3,832.3 430.0,837.9ZM460.8,786.3 463.4,779.3 455.4,775.1 452.8,782.0ZM471.5,757.6 474.0,750.9 474.2,750.4 474.4,749.9 474.5,749.5 474.7,749.0 474.9,748.5 475.1,748.1 475.2,747.6 475.4,747.1 475.6,746.7 475.8,746.2 475.9,745.7 476.1,745.2 476.3,744.8 476.4,744.3 476.6,743.8 476.8,743.4 477.0,742.9 477.1,742.4 477.3,742.0 477.5,741.5 477.7,741.0 477.8,740.6 478.0,740.1 478.2,739.6 478.4,739.2 478.5,738.7 478.7,738.2 478.9,737.8 479.1,737.3 479.2,736.8 479.4,736.4 479.6,735.9 479.8,735.4 479.9,734.9 480.1,734.5 480.3,734.0 480.5,733.5 480.6,733.1 480.8,732.6 481.0,732.1 481.2,731.7 481.3,731.2 481.5,730.7 481.7,730.3 481.9,729.8 482.1,729.3 482.2,728.9 482.4,728.4 482.6,727.9 482.8,727.5 482.9,727.0 485.0,721.4 477.0,717.1 474.5,723.8 474.3,724.3 474.1,724.8 474.0,725.2 473.8,725.7 473.6,726.2 473.4,726.6 473.3,727.1 473.1,727.6 472.9,728.0 472.7,728.5 472.6,729.0 472.4,729.5 472.2,729.9 472.0,730.4 471.9,730.9 471.7,731.3 471.5,731.8 471.3,732.3 471.2,732.7 471.0,733.2 470.8,733.7 470.6,734.1 470.5,734.6 470.3,735.1 470.1,735.5 469.9,736.0 469.8,736.5 469.6,736.9 469.4,737.4 469.2,737.9 469.1,738.4 468.9,738.8 468.7,739.3 468.5,739.8 468.4,740.2 468.2,740.7 468.0,741.2 467.8,741.6 467.7,742.1 467.5,742.6 467.3,743.0 467.1,743.5 467.0,744.0 466.8,744.4 466.6,744.9 466.4,745.4 466.3,745.9 466.1,746.3 465.9,746.8 465.7,747.3 465.6,747.7 463.5,753.3ZM492.8,700.6 495.4,693.7 487.4,689.4 484.8,696.3ZM503.8,672.3 506.6,665.6 506.8,665.1 507.0,664.7 507.1,664.2 507.3,663.7 507.5,663.3 507.7,662.8 507.9,662.4 508.1,661.9 508.3,661.5 508.5,661.0 508.7,660.6 508.9,660.1 509.1,659.6 509.3,659.2 509.5,658.7 509.7,658.3 509.9,657.8 510.1,657.4 510.3,656.9 510.5,656.5 510.7,656.0 510.9,655.6 511.1,655.1 511.3,654.6 511.5,654.2 511.7,653.7 511.9,653.3 512.1,652.8 512.3,652.4 512.5,651.9 512.7,651.5 512.9,651.0 513.1,650.6 513.3,650.1 513.6,649.7 513.8,649.2 514.0,648.7 514.2,648.3 514.4,647.8 514.6,647.4 514.8,646.9 515.0,646.5 515.2,646.0 515.4,645.6 515.6,645.1 515.8,644.7 516.0,644.2 516.2,643.8 516.5,643.3 516.7,642.9 519.1,637.5 511.6,632.4 508.5,639.1 508.3,639.5 508.1,640.0 507.9,640.5 507.6,640.9 507.4,641.4 507.2,641.8 507.0,642.3 506.8,642.7 506.6,643.2 506.4,643.7 506.2,644.1 506.0,644.6 505.8,645.0 505.6,645.5 505.4,645.9 505.1,646.4 504.9,646.9 504.7,647.3 504.5,647.8 504.3,648.2 504.1,648.7 503.9,649.1 503.7,649.6 503.5,650.1 503.3,650.5 503.1,651.0 502.9,651.4 502.7,651.9 502.5,652.4 502.3,652.8 502.1,653.3 501.9,653.7 501.7,654.2 501.5,654.7 501.3,655.1 501.1,655.6 500.9,656.0 500.7,656.5 500.5,657.0 500.3,657.4 500.1,657.9 499.9,658.4 499.7,658.8 499.5,659.3 499.3,659.7 499.1,660.2 498.9,660.7 498.7,661.1 498.5,661.6 498.3,662.1 496.0,667.6ZM528.5,617.8 531.7,611.2 524.3,605.9 521.0,612.5ZM541.9,590.7 544.9,584.4 545.1,584.0 545.4,583.6 545.6,583.1 545.8,582.7 546.0,582.2 546.2,581.8 546.5,581.3 546.7,580.9 546.9,580.4 547.1,580.0 547.3,579.5 547.6,579.1 547.8,578.6 548.0,578.2 548.2,577.7 548.4,577.3 548.7,576.8 548.9,576.4 549.1,575.9 549.3,575.5 549.5,575.0 549.8,574.6 550.0,574.1 550.2,573.7 550.4,573.2 550.6,572.8 550.9,572.3 551.1,571.9 551.3,571.4 551.5,571.0 551.8,570.5 552.0,570.1 552.2,569.6 552.4,569.2 552.6,568.8 552.9,568.3 553.1,567.9 553.3,567.4 553.5,567.0 553.7,566.5 554.0,566.1 554.2,565.6 554.4,565.2 554.6,564.7 554.8,564.3 555.1,563.8 555.3,563.4 555.5,562.9 555.7,562.5 556.0,562.0 556.2,561.6 558.6,556.7 551.3,551.3 548.1,557.6 547.9,558.0 547.7,558.5 547.5,558.9 547.2,559.4 547.0,559.8 546.8,560.3 546.6,560.7 546.3,561.2 546.1,561.6 545.9,562.1 545.7,562.5 545.4,563.0 545.2,563.4 545.0,563.9 544.8,564.3 544.6,564.8 544.3,565.2 544.1,565.7 543.9,566.1 543.7,566.6 543.5,567.0 543.2,567.5 543.0,567.9 542.8,568.4 542.6,568.8 542.4,569.3 542.1,569.7 541.9,570.2 541.7,570.6 541.5,571.1 541.2,571.5 541.0,572.0 540.8,572.4 540.6,572.9 540.4,573.3 540.1,573.8 539.9,574.2 539.7,574.7 539.5,575.1 539.3,575.6 539.0,576.0 538.8,576.4 538.6,576.9 538.4,577.3 538.2,577.8 537.9,578.2 537.7,578.7 537.5,579.1 537.3,579.6 537.1,580.0 536.8,580.5 534.4,585.5ZM568.6,537.4 572.0,531.0 564.8,525.4 561.3,531.8ZM583.0,511.4 586.7,505.1 586.9,504.7 587.2,504.3 587.4,503.8 587.7,503.4 587.9,503.0 588.2,502.5 588.4,502.1 588.7,501.7 588.9,501.3 589.2,500.8 589.4,500.4 589.7,500.0 589.9,499.5 590.2,499.1 590.4,498.7 590.7,498.3 591.0,497.8 591.2,497.4 591.5,497.0 591.7,496.6 592.0,496.1 592.2,495.7 592.5,495.3 592.8,494.8 593.0,494.4 593.3,494.0 593.5,493.6 593.8,493.1 594.0,492.7 594.3,492.3 594.6,491.9 594.8,491.4 595.1,491.0 595.3,490.6 595.6,490.2 595.9,489.7 596.1,489.3 596.4,488.9 596.6,488.5 596.9,488.1 597.2,487.6 597.4,487.2 597.7,486.8 597.9,486.4 598.2,485.9 598.5,485.5 598.7,485.1 599.0,484.7 599.3,484.2 602.3,479.4 595.5,473.3 591.6,479.5 591.3,479.9 591.1,480.3 590.8,480.8 590.5,481.2 590.3,481.6 590.0,482.0 589.8,482.5 589.5,482.9 589.2,483.3 589.0,483.8 588.7,484.2 588.4,484.6 588.2,485.0 587.9,485.5 587.7,485.9 587.4,486.3 587.1,486.8 586.9,487.2 586.6,487.6 586.3,488.0 586.1,488.5 585.8,488.9 585.6,489.3 585.3,489.8 585.0,490.2 584.8,490.6 584.5,491.1 584.3,491.5 584.0,491.9 583.7,492.4 583.5,492.8 583.2,493.2 583.0,493.6 582.7,494.1 582.5,494.5 582.2,494.9 581.9,495.4 581.7,495.8 581.4,496.2 581.2,496.7 580.9,497.1 580.7,497.5 580.4,498.0 580.2,498.4 579.9,498.8 579.7,499.3 579.4,499.7 579.1,500.1 578.9,500.6 576.0,505.5ZM613.8,461.4 617.7,455.5 611.1,449.2 607.1,455.1ZM630.2,437.0 633.8,431.9 627.4,425.4 623.7,430.6ZM634.2,431.3 638.4,425.3 638.7,424.9 639.0,424.5 639.3,424.1 639.6,423.7 639.9,423.3 640.2,422.9 640.5,422.5 640.8,422.1 641.1,421.7 641.3,421.3 641.6,420.9 641.9,420.5 642.2,420.1 642.5,419.7 642.8,419.3 643.1,418.9 643.4,418.5 643.7,418.1 644.0,417.7 644.3,417.3 644.6,416.9 644.9,416.5 645.2,416.1 645.5,415.7 645.8,415.3 646.0,414.9 646.3,414.5 646.6,414.1 646.9,413.7 647.2,413.3 647.5,412.9 647.8,412.5 648.1,412.1 648.4,411.7 648.7,411.3 649.0,410.9 649.3,410.5 649.6,410.1 649.9,409.7 650.2,409.3 650.5,408.9 650.8,408.5 651.1,408.1 651.4,407.7 651.7,407.3 652.0,406.9 652.3,406.5 655.7,402.0 649.6,395.2 645.1,401.1 644.8,401.5 644.5,401.9 644.2,402.3 643.9,402.7 643.6,403.1 643.3,403.5 643.0,403.9 642.7,404.3 642.4,404.7 642.1,405.1 641.8,405.5 641.5,405.9 641.2,406.3 640.9,406.7 640.6,407.1 640.3,407.5 640.0,407.9 639.7,408.3 639.4,408.7 639.1,409.1 638.8,409.5 638.5,409.9 638.2,410.3 637.9,410.7 637.6,411.1 637.3,411.5 637.0,411.9 636.7,412.4 636.4,412.8 636.1,413.2 635.8,413.6 635.5,414.0 635.2,414.4 634.9,414.8 634.6,415.2 634.4,415.6 634.1,416.0 633.8,416.4 633.5,416.8 633.2,417.2 632.9,417.6 632.6,418.0 632.3,418.4 632.0,418.9 631.7,419.3 631.4,419.7 631.1,420.1 627.8,424.7ZM668.6,385.7 672.9,380.3 667.0,373.3 662.6,378.8ZM686.9,363.9 691.4,358.9 691.7,358.5 692.0,358.2 692.4,357.8 692.7,357.5 693.0,357.1 693.4,356.7 693.7,356.4 694.0,356.0 694.4,355.6 694.7,355.3 695.1,354.9 695.4,354.6 695.7,354.2 696.1,353.8 696.4,353.5 696.8,353.1 697.1,352.8 697.4,352.4 697.8,352.1 698.1,351.7 698.5,351.3 698.8,351.0 699.1,350.6 699.5,350.3 699.8,349.9 700.2,349.6 700.5,349.2 700.9,348.9 701.2,348.5 701.6,348.2 701.9,347.8 702.3,347.5 702.6,347.1 703.0,346.8 703.3,346.4 703.7,346.1 704.0,345.7 704.4,345.4 704.7,345.0 705.1,344.7 705.4,344.3 705.8,344.0 706.1,343.6 706.5,343.3 706.8,342.9 707.2,342.6 707.5,342.3 711.4,338.6 706.3,331.0 701.3,335.8 700.9,336.1 700.6,336.5 700.2,336.9 699.8,337.2 699.5,337.6 699.1,337.9 698.8,338.3 698.4,338.6 698.0,339.0 697.7,339.3 697.3,339.7 697.0,340.0 696.6,340.4 696.2,340.8 695.9,341.1 695.5,341.5 695.2,341.8 694.8,342.2 694.5,342.6 694.1,342.9 693.7,343.3 693.4,343.6 693.0,344.0 692.7,344.4 692.3,344.7 692.0,345.1 691.6,345.5 691.3,345.8 690.9,346.2 690.6,346.6 690.2,346.9 689.9,347.3 689.5,347.7 689.2,348.0 688.8,348.4 688.5,348.8 688.1,349.1 687.8,349.5 687.5,349.9 687.1,350.2 686.8,350.6 686.4,351.0 686.1,351.4 685.7,351.7 685.4,352.1 685.1,352.5 684.7,352.8 681.2,356.7ZM726.2,325.1 731.3,320.8 726.7,312.9 721.5,317.3ZM747.5,307.9 752.9,304.1 753.3,303.8 753.7,303.5 754.1,303.2 754.5,302.9 754.9,302.6 755.3,302.4 755.7,302.1 756.1,301.8 756.5,301.5 756.9,301.2 757.3,301.0 757.7,300.7 758.1,300.4 758.5,300.1 758.9,299.8 759.3,299.6 759.8,299.3 760.2,299.0 760.6,298.7 761.0,298.5 761.4,298.2 761.8,297.9 762.2,297.6 762.6,297.4 763.0,297.1 763.4,296.8 763.9,296.6 764.3,296.3 764.7,296.0 765.1,295.8 765.5,295.5 765.9,295.2 766.3,295.0 766.8,294.7 767.2,294.4 767.6,294.2 768.0,293.9 768.4,293.7 768.8,293.4 769.3,293.1 769.7,292.9 770.1,292.6 770.5,292.4 770.9,292.1 771.4,291.9 775.8,289.2 772.4,280.8 766.7,284.2 766.3,284.4 765.8,284.7 765.4,285.0 765.0,285.2 764.5,285.5 764.1,285.8 763.7,286.0 763.2,286.3 762.8,286.6 762.4,286.8 761.9,287.1 761.5,287.4 761.1,287.6 760.7,287.9 760.2,288.2 759.8,288.5 759.4,288.7 759.0,289.0 758.5,289.3 758.1,289.6 757.7,289.9 757.3,290.1 756.8,290.4 756.4,290.7 756.0,291.0 755.6,291.3 755.1,291.5 754.7,291.8 754.3,292.1 753.9,292.4 753.5,292.7 753.0,293.0 752.6,293.3 752.2,293.5 751.8,293.8 751.4,294.1 751.0,294.4 750.5,294.7 750.1,295.0 749.7,295.3 749.3,295.6 748.9,295.9 748.5,296.2 748.1,296.4 747.6,296.7 743.4,299.8ZM792.7,280.2 798.5,277.5 795.8,268.9 789.9,271.6ZM816.9,270.2 822.5,268.3 823.0,268.2 823.4,268.0 823.9,267.9 824.4,267.8 824.8,267.6 825.3,267.5 825.8,267.3 826.3,267.2 826.7,267.1 827.2,266.9 827.7,266.8 828.1,266.6 828.6,266.5 829.1,266.4 829.5,266.2 830.0,266.1 830.5,266.0 831.0,265.9 831.4,265.7 831.9,265.6 832.4,265.5 832.9,265.3 833.3,265.2 833.8,265.1 834.3,265.0 834.7,264.9 835.2,264.7 835.7,264.6 836.2,264.5 836.6,264.4 837.1,264.3 837.6,264.2 838.1,264.1 838.6,263.9 839.0,263.8 839.5,263.7 840.0,263.6 840.5,263.5 840.9,263.4 841.4,263.3 841.9,263.2 842.4,263.1 842.9,263.0 843.3,262.9 848.3,261.9 847.2,253.0 841.5,254.1 841.0,254.2 840.5,254.3 840.0,254.4 839.5,254.5 839.0,254.6 838.5,254.7 838.0,254.8 837.5,254.9 837.0,255.1 836.5,255.2 836.0,255.3 835.5,255.4 835.0,255.5 834.5,255.6 834.0,255.8 833.5,255.9 833.0,256.0 832.5,256.1 832.1,256.3 831.6,256.4 831.1,256.5 830.6,256.6 830.1,256.8 829.6,256.9 829.1,257.0 828.6,257.2 828.1,257.3 827.6,257.4 827.1,257.6 826.6,257.7 826.1,257.9 825.6,258.0 825.2,258.1 824.7,258.3 824.2,258.4 823.7,258.6 823.2,258.7 822.7,258.9 822.2,259.0 821.7,259.2 821.2,259.3 820.8,259.5 820.3,259.6 819.8,259.8 814.8,261.4ZM866.7,259.5 872.9,259.1 872.6,250.1 866.2,250.5ZM892.3,259.0 897.8,259.3 898.3,259.3 898.8,259.4 899.3,259.4 899.7,259.5 900.2,259.5 900.7,259.5 901.2,259.6 901.7,259.6 902.2,259.7 902.7,259.7 903.1,259.8 903.6,259.8 904.1,259.9 904.6,259.9 905.1,260.0 905.6,260.0 906.1,260.1 906.6,260.1 907.0,260.2 907.5,260.3 908.0,260.3 908.5,260.4 909.0,260.4 909.5,260.5 909.9,260.6 910.4,260.6 910.9,260.7 911.4,260.8 911.9,260.8 912.4,260.9 912.9,261.0 913.3,261.1 913.8,261.1 914.3,261.2 914.8,261.3 915.3,261.4 915.8,261.4 916.2,261.5 916.7,261.6 917.2,261.7 917.7,261.8 918.2,261.9 918.6,261.9 924.3,263.0 925.5,254.1 920.2,253.1 919.7,253.0 919.2,252.9 918.7,252.8 918.2,252.7 917.7,252.6 917.2,252.6 916.7,252.5 916.2,252.4 915.7,252.3 915.2,252.2 914.7,252.2 914.2,252.1 913.7,252.0 913.2,251.9 912.7,251.9 912.2,251.8 911.7,251.7 911.2,251.7 910.6,251.6 910.1,251.5 909.6,251.5 909.1,251.4 908.6,251.3 908.1,251.3 907.6,251.2 907.1,251.1 906.6,251.1 906.1,251.0 905.6,251.0 905.1,250.9 904.6,250.9 904.0,250.8 903.5,250.8 903.0,250.7 902.5,250.7 902.0,250.6 901.5,250.6 901.0,250.5 900.5,250.5 900.0,250.4 899.5,250.4 899.0,250.4 898.4,250.3 892.6,250.0ZM942.7,267.7 947.4,269.2 947.9,269.3 948.4,269.5 948.8,269.6 949.3,269.8 949.8,270.0 950.2,270.1 950.7,270.3 951.2,270.4 951.6,270.6 952.1,270.7 952.6,270.9 953.0,271.1 953.5,271.2 953.9,271.4 954.4,271.6 954.9,271.7 955.3,271.9 955.8,272.1 956.3,272.2 956.7,272.4 957.2,272.6 957.6,272.8 958.1,272.9 958.6,273.1 959.0,273.3 959.5,273.5 959.9,273.6 960.4,273.8 960.8,274.0 961.3,274.2 961.8,274.3 962.2,274.5 962.7,274.7 963.1,274.9 963.6,275.1 964.0,275.3 964.5,275.4 964.9,275.6 965.4,275.8 965.9,276.0 966.3,276.2 966.8,276.4 967.2,276.6 973.0,279.1 975.8,270.5 970.7,268.3 970.3,268.1 969.8,267.9 969.3,267.7 968.8,267.5 968.4,267.3 967.9,267.1 967.4,266.9 967.0,266.7 966.5,266.5 966.0,266.4 965.5,266.2 965.1,266.0 964.6,265.8 964.1,265.6 963.7,265.4 963.2,265.2 962.7,265.1 962.2,264.9 961.8,264.7 961.3,264.5 960.8,264.3 960.3,264.1 959.8,264.0 959.4,263.8 958.9,263.6 958.4,263.4 957.9,263.3 957.5,263.1 957.0,262.9 956.5,262.8 956.0,262.6 955.5,262.4 955.1,262.2 954.6,262.1 954.1,261.9 953.6,261.8 953.1,261.6 952.6,261.4 952.2,261.3 951.7,261.1 951.2,260.9 950.7,260.8 950.2,260.6 944.5,258.8ZM990.0,287.6 995.6,290.7 998.9,282.2 993.2,279.1ZM1012.7,301.1 1017.2,304.1 1017.6,304.4 1018.0,304.7 1018.4,305.0 1018.8,305.2 1019.2,305.5 1019.6,305.8 1020.0,306.1 1020.4,306.4 1020.8,306.6 1021.2,306.9 1021.6,307.2 1022.0,307.5 1022.4,307.8 1022.8,308.1 1023.2,308.3 1023.6,308.6 1024.1,308.9 1024.5,309.2 1024.9,309.5 1025.3,309.8 1025.7,310.1 1026.1,310.4 1026.5,310.6 1026.9,310.9 1027.3,311.2 1027.7,311.5 1028.1,311.8 1028.5,312.1 1028.9,312.4 1029.3,312.7 1029.7,313.0 1030.0,313.3 1030.4,313.6 1030.8,313.9 1031.2,314.2 1031.6,314.5 1032.0,314.7 1032.4,315.0 1032.8,315.3 1033.2,315.6 1033.6,315.9 1034.0,316.2 1034.4,316.5 1034.8,316.8 1040.1,320.9 1044.4,312.9 1040.3,309.7 1039.9,309.4 1039.5,309.1 1039.0,308.8 1038.6,308.5 1038.2,308.2 1037.8,307.9 1037.4,307.6 1037.0,307.2 1036.6,306.9 1036.2,306.6 1035.8,306.3 1035.4,306.0 1035.0,305.7 1034.6,305.4 1034.2,305.1 1033.8,304.8 1033.4,304.5 1033.0,304.2 1032.6,303.9 1032.1,303.6 1031.7,303.4 1031.3,303.1 1030.9,302.8 1030.5,302.5 1030.1,302.2 1029.7,301.9 1029.3,301.6 1028.9,301.3 1028.4,301.0 1028.0,300.7 1027.6,300.4 1027.2,300.1 1026.8,299.8 1026.4,299.5 1026.0,299.3 1025.5,299.0 1025.1,298.7 1024.7,298.4 1024.3,298.1 1023.9,297.8 1023.5,297.5 1023.0,297.2 1022.6,297.0 1022.2,296.7 1016.4,292.9ZM1055.2,333.5 1060.2,337.9 1065.0,330.1 1059.9,325.7ZM1075.5,352.0 1079.1,355.6 1079.5,355.9 1079.9,356.3 1080.2,356.6 1080.6,357.0 1080.9,357.3 1081.3,357.7 1081.6,358.0 1082.0,358.4 1082.3,358.7 1082.7,359.1 1083.0,359.4 1083.4,359.8 1083.7,360.1 1084.1,360.5 1084.4,360.8 1084.8,361.2 1085.1,361.6 1085.5,361.9 1085.8,362.3 1086.2,362.6 1086.5,363.0 1086.9,363.3 1087.2,363.7 1087.6,364.0 1087.9,364.4 1088.2,364.7 1088.6,365.1 1088.9,365.5 1089.3,365.8 1089.6,366.2 1090.0,366.5 1090.3,366.9 1090.7,367.2 1091.0,367.6 1091.4,368.0 1091.7,368.3 1092.0,368.7 1092.4,369.0 1092.7,369.4 1093.1,369.7 1093.4,370.1 1093.8,370.5 1094.1,370.8 1094.4,371.2 1094.8,371.5 1095.1,371.9 1099.9,377.0 1105.3,369.7 1101.7,365.7 1101.3,365.4 1101.0,365.0 1100.6,364.6 1100.3,364.3 1099.9,363.9 1099.6,363.5 1099.2,363.2 1098.9,362.8 1098.5,362.4 1098.2,362.1 1097.8,361.7 1097.5,361.4 1097.1,361.0 1096.8,360.6 1096.4,360.3 1096.1,359.9 1095.7,359.5 1095.4,359.2 1095.0,358.8 1094.7,358.5 1094.3,358.1 1094.0,357.7 1093.6,357.4 1093.3,357.0 1092.9,356.7 1092.6,356.3 1092.2,355.9 1091.9,355.6 1091.5,355.2 1091.2,354.9 1090.8,354.5 1090.5,354.2 1090.1,353.8 1089.7,353.4 1089.4,353.1 1089.0,352.7 1088.7,352.4 1088.3,352.0 1088.0,351.7 1087.6,351.3 1087.2,350.9 1086.9,350.6 1086.5,350.2 1086.2,349.9 1085.8,349.5 1085.5,349.2 1080.5,344.4ZM1113.4,392.1 1117.8,397.2 1123.6,390.1 1119.1,384.9ZM1131.5,413.6 1134.8,417.7 1135.1,418.1 1135.4,418.5 1135.7,418.9 1136.0,419.3 1136.3,419.7 1136.6,420.1 1137.0,420.5 1137.3,420.9 1137.6,421.2 1137.9,421.6 1138.2,422.0 1138.5,422.4 1138.8,422.8 1139.1,423.2 1139.4,423.6 1139.7,424.0 1140.0,424.4 1140.3,424.8 1140.7,425.2 1141.0,425.5 1141.3,425.9 1141.6,426.3 1141.9,426.7 1142.2,427.1 1142.5,427.5 1142.8,427.9 1143.1,428.3 1143.4,428.7 1143.7,429.1 1144.0,429.5 1144.3,429.9 1144.6,430.3 1144.9,430.7 1145.2,431.0 1145.5,431.4 1145.8,431.8 1146.1,432.2 1146.4,432.6 1146.7,433.0 1147.0,433.4 1147.3,433.8 1147.6,434.2 1147.9,434.6 1148.2,435.0 1148.5,435.4 1148.8,435.8 1149.2,436.2 1153.4,441.8 1159.6,435.1 1156.3,430.8 1156.0,430.4 1155.7,430.0 1155.4,429.6 1155.1,429.2 1154.8,428.8 1154.5,428.4 1154.2,428.0 1153.9,427.6 1153.6,427.2 1153.3,426.8 1153.0,426.4 1152.7,426.0 1152.4,425.6 1152.1,425.2 1151.7,424.8 1151.4,424.4 1151.1,424.0 1150.8,423.6 1150.5,423.2 1150.2,422.8 1149.9,422.4 1149.6,422.0 1149.3,421.6 1149.0,421.2 1148.7,420.8 1148.4,420.4 1148.0,420.0 1147.7,419.6 1147.4,419.2 1147.1,418.8 1146.8,418.4 1146.5,418.0 1146.2,417.6 1145.9,417.2 1145.6,416.8 1145.3,416.4 1144.9,416.1 1144.6,415.7 1144.3,415.3 1144.0,414.9 1143.7,414.5 1143.4,414.1 1143.1,413.7 1142.8,413.3 1142.4,412.9 1142.1,412.5 1141.8,412.1 1137.4,406.7ZM1165.6,458.5 1169.6,464.2 1176.0,457.6 1172.0,452.0ZM1182.0,482.0 1185.0,486.5 1185.2,486.9 1185.5,487.3 1185.8,487.7 1186.1,488.1 1186.3,488.5 1186.6,489.0 1186.9,489.4 1187.2,489.8 1187.5,490.2 1187.7,490.6 1188.0,491.0 1188.3,491.4 1188.6,491.9 1188.8,492.3 1189.1,492.7 1189.4,493.1 1189.7,493.5 1189.9,493.9 1190.2,494.4 1190.5,494.8 1190.8,495.2 1191.0,495.6 1191.3,496.0 1191.6,496.4 1191.9,496.9 1192.1,497.3 1192.4,497.7 1192.7,498.1 1192.9,498.5 1193.2,498.9 1193.5,499.4 1193.8,499.8 1194.0,500.2 1194.3,500.6 1194.6,501.0 1194.9,501.4 1195.1,501.9 1195.4,502.3 1195.7,502.7 1195.9,503.1 1196.2,503.5 1196.5,503.9 1196.8,504.4 1197.0,504.8 1197.3,505.2 1197.6,505.6 1197.8,506.0 1198.1,506.5 1201.9,512.4 1208.6,506.2 1205.7,501.6 1205.4,501.2 1205.1,500.7 1204.9,500.3 1204.6,499.9 1204.3,499.5 1204.0,499.1 1203.8,498.6 1203.5,498.2 1203.2,497.8 1202.9,497.4 1202.7,496.9 1202.4,496.5 1202.1,496.1 1201.8,495.7 1201.6,495.3 1201.3,494.8 1201.0,494.4 1200.7,494.0 1200.5,493.6 1200.2,493.2 1199.9,492.7 1199.6,492.3 1199.4,491.9 1199.1,491.5 1198.8,491.1 1198.5,490.7 1198.3,490.2 1198.0,489.8 1197.7,489.4 1197.4,489.0 1197.2,488.6 1196.9,488.1 1196.6,487.7 1196.3,487.3 1196.1,486.9 1195.8,486.5 1195.5,486.0 1195.2,485.6 1194.9,485.2 1194.7,484.8 1194.4,484.4 1194.1,484.0 1193.8,483.5 1193.5,483.1 1193.3,482.7 1193.0,482.3 1192.7,481.9 1192.4,481.5 1188.5,475.7ZM1213.0,530.1 1216.7,536.1 1223.6,530.1 1219.9,524.1ZM1228.0,555.0 1231.0,560.0 1231.2,560.4 1231.5,560.8 1231.7,561.3 1232.0,561.7 1232.2,562.1 1232.5,562.6 1232.7,563.0 1233.0,563.4 1233.2,563.8 1233.5,564.3 1233.7,564.7 1234.0,565.1 1234.2,565.6 1234.5,566.0 1234.7,566.4 1235.0,566.9 1235.2,567.3 1235.5,567.7 1235.7,568.2 1236.0,568.6 1236.2,569.0 1236.5,569.5 1236.7,569.9 1237.0,570.3 1237.2,570.7 1237.5,571.2 1237.7,571.6 1238.0,572.0 1238.2,572.5 1238.5,572.9 1238.7,573.3 1239.0,573.8 1239.2,574.2 1239.5,574.6 1239.7,575.1 1240.0,575.5 1240.2,575.9 1240.5,576.4 1240.7,576.8 1241.0,577.2 1241.2,577.7 1241.5,578.1 1241.7,578.5 1242.0,579.0 1242.2,579.4 1242.4,579.8 1242.7,580.3 1242.9,580.7 1246.4,586.7 1253.4,581.0 1250.8,576.3 1250.5,575.8 1250.3,575.4 1250.0,575.0 1249.8,574.5 1249.5,574.1 1249.3,573.6 1249.0,573.2 1248.8,572.8 1248.5,572.3 1248.3,571.9 1248.0,571.5 1247.8,571.0 1247.5,570.6 1247.3,570.2 1247.0,569.7 1246.8,569.3 1246.5,568.9 1246.3,568.4 1246.0,568.0 1245.8,567.6 1245.5,567.1 1245.3,566.7 1245.0,566.3 1244.8,565.8 1244.5,565.4 1244.3,564.9 1244.0,564.5 1243.8,564.1 1243.5,563.6 1243.3,563.2 1243.0,562.8 1242.8,562.3 1242.5,561.9 1242.3,561.5 1242.0,561.0 1241.8,560.6 1241.5,560.2 1241.3,559.7 1241.0,559.3 1240.8,558.9 1240.5,558.4 1240.3,558.0 1240.0,557.6 1239.8,557.1 1239.5,556.7 1239.2,556.3 1239.0,555.9 1238.7,555.4 1235.0,549.0ZM1254.2,600.9 1257.0,605.9 1257.2,606.4 1257.5,606.8 1257.7,607.2 1258.0,607.7 1258.2,608.1 1258.4,608.6 1258.7,609.0 1258.9,609.4 1259.2,609.9 1259.4,610.3 1259.6,610.7 1259.9,611.2 1260.1,611.6 1260.4,612.1 1260.6,612.5 1260.8,612.9 1261.1,613.4 1261.3,613.8 1261.5,614.3 1261.8,614.7 1262.0,615.1 1262.3,615.6 1262.5,616.0 1262.7,616.4 1263.0,616.9 1263.2,617.3 1263.4,617.8 1263.7,618.2 1263.9,618.6 1264.1,619.1 1264.4,619.5 1264.6,620.0 1264.9,620.4 1265.1,620.8 1265.3,621.3 1265.6,621.7 1265.8,622.2 1266.0,622.6 1266.3,623.0 1266.5,623.5 1266.7,623.9 1267.0,624.4 1267.2,624.8 1267.4,625.2 1267.7,625.7 1267.9,626.1 1268.1,626.6 1268.4,627.0 1268.6,627.4 1271.9,633.6 1279.2,628.1 1276.6,623.2 1276.3,622.8 1276.1,622.3 1275.9,621.9 1275.6,621.4 1275.4,621.0 1275.1,620.6 1274.9,620.1 1274.7,619.7 1274.4,619.2 1274.2,618.8 1274.0,618.3 1273.7,617.9 1273.5,617.5 1273.3,617.0 1273.0,616.6 1272.8,616.1 1272.5,615.7 1272.3,615.3 1272.1,614.8 1271.8,614.4 1271.6,613.9 1271.4,613.5 1271.1,613.1 1270.9,612.6 1270.6,612.2 1270.4,611.7 1270.2,611.3 1269.9,610.8 1269.7,610.4 1269.5,610.0 1269.2,609.5 1269.0,609.1 1268.7,608.6 1268.5,608.2 1268.3,607.8 1268.0,607.3 1267.8,606.9 1267.5,606.4 1267.3,606.0 1267.1,605.6 1266.8,605.1 1266.6,604.7 1266.3,604.2 1266.1,603.8 1265.9,603.4 1265.6,602.9 1265.4,602.5 1265.1,602.0 1264.9,601.6 1261.4,595.2ZM1281.8,652.6 1285.1,659.0 1292.4,653.6 1289.1,647.2ZM1295.2,679.1 1297.8,684.3 1298.0,684.7 1298.2,685.1 1298.5,685.6 1298.7,686.0 1298.9,686.5 1299.1,686.9 1299.4,687.4 1299.6,687.8 1299.8,688.3 1300.0,688.7 1300.2,689.2 1300.5,689.6 1300.7,690.1 1300.9,690.5 1301.1,691.0 1301.3,691.4 1301.6,691.9 1301.8,692.3 1302.0,692.8 1302.2,693.2 1302.4,693.7 1302.7,694.1 1302.9,694.5 1303.1,695.0 1303.3,695.4 1303.5,695.9 1303.8,696.3 1304.0,696.8 1304.2,697.2 1304.4,697.7 1304.6,698.1 1304.9,698.6 1305.1,699.0 1305.3,699.5 1305.5,699.9 1305.7,700.4 1306.0,700.8 1306.2,701.3 1306.4,701.7 1306.6,702.2 1306.8,702.6 1307.0,703.1 1307.3,703.5 1307.5,704.0 1307.7,704.4 1307.9,704.9 1308.1,705.3 1308.4,705.8 1308.6,706.2 1311.7,712.7 1319.2,707.5 1316.7,702.3 1316.5,701.8 1316.2,701.4 1316.0,700.9 1315.8,700.5 1315.6,700.0 1315.4,699.6 1315.1,699.1 1314.9,698.7 1314.7,698.2 1314.5,697.8 1314.3,697.3 1314.0,696.9 1313.8,696.4 1313.6,696.0 1313.4,695.5 1313.2,695.1 1312.9,694.6 1312.7,694.2 1312.5,693.7 1312.3,693.3 1312.1,692.8 1311.8,692.4 1311.6,691.9 1311.4,691.5 1311.2,691.0 1311.0,690.6 1310.7,690.1 1310.5,689.7 1310.3,689.2 1310.1,688.8 1309.9,688.3 1309.6,687.9 1309.4,687.4 1309.2,687.0 1309.0,686.5 1308.7,686.1 1308.5,685.6 1308.3,685.2 1308.1,684.7 1307.9,684.3 1307.6,683.8 1307.4,683.4 1307.2,682.9 1307.0,682.5 1306.8,682.0 1306.5,681.6 1306.3,681.2 1306.1,680.7 1305.9,680.3 1302.6,673.8ZM1321.0,732.2 1324.1,738.7 1331.6,733.6 1328.5,727.1ZM1333.6,759.2 1336.0,764.5 1336.2,764.9 1336.4,765.4 1336.6,765.8 1336.8,766.3 1337.0,766.8 1337.2,767.2 1337.4,767.7 1337.6,768.1 1337.8,768.6 1338.1,769.0 1338.3,769.5 1338.5,769.9 1338.7,770.4 1338.9,770.8 1339.1,771.3 1339.3,771.8 1339.5,772.2 1339.7,772.7 1339.9,773.1 1340.1,773.6 1340.3,774.0 1340.5,774.5 1340.7,774.9 1340.9,775.4 1341.1,775.8 1341.3,776.3 1341.6,776.8 1341.8,777.2 1342.0,777.7 1342.2,778.1 1342.4,778.6 1342.6,779.0 1342.8,779.5 1343.0,779.9 1343.2,780.4 1343.4,780.9 1343.6,781.3 1343.8,781.8 1344.0,782.2 1344.2,782.7 1344.4,783.1 1344.6,783.6 1344.8,784.0 1345.0,784.5 1345.2,785.0 1345.4,785.4 1345.7,785.9 1345.9,786.3 1346.1,786.8 1349.1,793.5 1356.7,788.6 1354.3,783.1 1354.1,782.6 1353.9,782.2 1353.7,781.7 1353.5,781.3 1353.3,780.8 1353.0,780.4 1352.8,779.9 1352.6,779.4 1352.4,779.0 1352.2,778.5 1352.0,778.1 1351.8,777.6 1351.6,777.2 1351.4,776.7 1351.2,776.2 1351.0,775.8 1350.8,775.3 1350.6,774.9 1350.4,774.4 1350.2,774.0 1350.0,773.5 1349.8,773.1 1349.6,772.6 1349.3,772.1 1349.1,771.7 1348.9,771.2 1348.7,770.8 1348.5,770.3 1348.3,769.9 1348.1,769.4 1347.9,768.9 1347.7,768.5 1347.5,768.0 1347.3,767.6 1347.1,767.1 1346.9,766.7 1346.7,766.2 1346.4,765.8 1346.2,765.3 1346.0,764.8 1345.8,764.4 1345.6,763.9 1345.4,763.5 1345.2,763.0 1345.0,762.6 1344.8,762.1 1344.6,761.7 1344.4,761.2 1344.2,760.7 1341.2,754.2ZM1357.8,813.4 1360.7,820.0 1368.4,815.2 1365.5,808.5ZM1369.7,840.9 1372.0,846.3 1372.2,846.7 1372.4,847.2 1372.6,847.7 1372.8,848.1 1373.0,848.6 1373.2,849.0 1373.4,849.5 1373.6,850.0 1373.8,850.4 1374.0,850.9 1374.2,851.3 1374.3,851.8 1374.5,852.3 1374.7,852.7 1374.9,853.2 1375.1,853.6 1375.3,854.1 1375.5,854.6 1375.7,855.0 1375.9,855.5 1376.1,855.9 1376.3,856.4 1376.5,856.9 1376.7,857.3 1376.9,857.8 1377.1,858.2 1377.3,858.7 1377.5,859.2 1377.6,859.6 1377.8,860.1 1378.0,860.5 1378.2,861.0 1378.4,861.5 1378.6,861.9 1378.8,862.4 1379.0,862.8 1379.2,863.3 1379.4,863.8 1379.6,864.2 1379.8,864.7 1380.0,865.1 1380.2,865.6 1380.4,866.1 1380.5,866.5 1380.7,867.0 1380.9,867.4 1381.1,867.9 1381.3,868.4 1381.5,868.8 1384.4,875.7 1392.2,871.0 1389.8,865.4 1389.6,864.9 1389.4,864.4 1389.2,864.0 1389.0,863.5 1388.8,863.1 1388.7,862.6 1388.5,862.1 1388.3,861.7 1388.1,861.2 1387.9,860.7 1387.7,860.3 1387.5,859.8 1387.3,859.4 1387.1,858.9 1386.9,858.4 1386.7,858.0 1386.5,857.5 1386.3,857.1 1386.1,856.6 1385.9,856.1 1385.7,855.7 1385.6,855.2 1385.4,854.7 1385.2,854.3 1385.0,853.8 1384.8,853.4 1384.6,852.9 1384.4,852.4 1384.2,852.0 1384.0,851.5 1383.8,851.1 1383.6,850.6 1383.4,850.1 1383.2,849.7 1383.0,849.2 1382.8,848.7 1382.6,848.3 1382.4,847.8 1382.2,847.4 1382.0,846.9 1381.9,846.4 1381.7,846.0 1381.5,845.5 1381.3,845.1 1381.1,844.6 1380.9,844.1 1380.7,843.7 1380.5,843.2 1380.3,842.8 1377.4,836.1ZM1392.7,895.8 1395.4,902.5 1403.2,897.9 1400.5,891.2ZM1403.9,923.7 1406.0,928.9 1406.2,929.4 1406.4,929.9 1406.6,930.3 1406.8,930.8 1407.0,931.3 1407.2,931.7 1407.3,932.2 1407.5,932.7 1407.7,933.1 1407.9,933.6 1408.1,934.0 1408.3,934.5 1408.4,935.0 1408.6,935.4 1408.8,935.9 1409.0,936.4 1409.2,936.8 1409.4,937.3 1409.6,937.8 1409.7,938.2 1409.9,938.7 1410.1,939.2 1410.3,939.6 1410.5,940.1 1410.7,940.5 1410.8,941.0 1411.0,941.5 1411.2,941.9 1411.4,942.4 1411.6,942.9 1411.8,943.3 1411.9,943.8 1412.1,944.3 1412.3,944.7 1412.5,945.2 1412.7,945.7 1412.9,946.1 1413.0,946.6 1413.2,947.1 1413.4,947.5 1413.6,948.0 1413.8,948.4 1414.0,948.9 1414.1,949.4 1414.3,949.8 1414.5,950.3 1414.7,950.8 1414.9,951.2 1415.1,951.7 1415.2,952.2 1417.9,958.9 1425.8,954.5 1423.6,948.9 1423.4,948.4 1423.3,947.9 1423.1,947.5 1422.9,947.0 1422.7,946.5 1422.5,946.1 1422.3,945.6 1422.2,945.1 1422.0,944.7 1421.8,944.2 1421.6,943.8 1421.4,943.3 1421.2,942.8 1421.1,942.4 1420.9,941.9 1420.7,941.4 1420.5,941.0 1420.3,940.5 1420.1,940.0 1419.9,939.6 1419.8,939.1 1419.6,938.6 1419.4,938.2 1419.2,937.7 1419.0,937.2 1418.8,936.8 1418.7,936.3 1418.5,935.8 1418.3,935.4 1418.1,934.9 1417.9,934.4 1417.7,934.0 1417.6,933.5 1417.4,933.0 1417.2,932.6 1417.0,932.1 1416.8,931.7 1416.6,931.2 1416.4,930.7 1416.3,930.3 1416.1,929.8 1415.9,929.3 1415.7,928.9 1415.5,928.4 1415.3,927.9 1415.1,927.5 1415.0,927.0 1414.8,926.5 1414.6,926.1 1414.4,925.6 1411.8,919.1ZM1425.8,979.3 1428.4,986.1 1436.4,981.7 1433.7,974.9ZM1436.6,1007.5 1438.7,1013.2 1438.9,1013.7 1439.1,1014.2 1439.3,1014.6 1439.4,1015.1 1439.6,1015.6 1439.8,1016.0 1440.0,1016.5 1440.2,1017.0 1440.3,1017.4 1440.5,1017.9 1440.7,1018.4 1440.9,1018.8 1441.0,1019.3 1441.2,1019.8 1441.4,1020.3 1441.6,1020.7 1441.7,1021.2 1441.9,1021.7 1442.1,1022.1 1442.3,1022.6 1442.4,1023.1 1442.6,1023.5 1442.8,1024.0 1443.0,1024.5 1443.1,1024.9 1443.3,1025.4 1443.5,1025.9 1443.7,1026.3 1443.8,1026.8 1444.0,1027.3 1444.2,1027.7 1444.4,1028.2 1444.5,1028.7 1444.7,1029.1 1444.9,1029.6 1445.1,1030.1 1445.2,1030.5 1445.4,1031.0 1445.6,1031.5 1445.8,1031.9 1445.9,1032.4 1446.1,1032.9 1446.3,1033.4 1446.5,1033.8 1446.6,1034.3 1446.8,1034.8 1447.0,1035.2 1447.2,1035.7 1447.3,1036.2 1449.9,1043.1 1457.9,1038.8 1455.8,1033.0 1455.6,1032.6 1455.4,1032.1 1455.2,1031.6 1455.1,1031.1 1454.9,1030.7 1454.7,1030.2 1454.5,1029.7 1454.4,1029.3 1454.2,1028.8 1454.0,1028.3 1453.8,1027.9 1453.7,1027.4 1453.5,1026.9 1453.3,1026.5 1453.1,1026.0 1453.0,1025.5 1452.8,1025.1 1452.6,1024.6 1452.4,1024.1 1452.3,1023.6 1452.1,1023.2 1451.9,1022.7 1451.7,1022.2 1451.6,1021.8 1451.4,1021.3 1451.2,1020.8 1451.0,1020.4 1450.9,1019.9 1450.7,1019.4 1450.5,1019.0 1450.3,1018.5 1450.2,1018.0 1450.0,1017.6 1449.8,1017.1 1449.6,1016.6 1449.5,1016.1 1449.3,1015.7 1449.1,1015.2 1448.9,1014.7 1448.8,1014.3 1448.6,1013.8 1448.4,1013.3 1448.2,1012.9 1448.0,1012.4 1447.9,1011.9 1447.7,1011.5 1447.5,1011.0 1447.3,1010.5 1447.2,1010.1 1444.5,1003.1ZM1457.5,1063.6 1460.0,1070.5 1468.0,1066.3 1465.5,1059.4ZM1467.8,1092.0 1469.8,1097.6 1469.9,1098.1 1470.1,1098.6 1470.3,1099.0 1470.5,1099.5 1470.6,1100.0 1470.8,1100.5 1471.0,1100.9 1471.1,1101.4 1471.3,1101.9 1471.5,1102.3 1471.6,1102.8 1471.8,1103.3 1472.0,1103.8 1472.1,1104.2 1472.3,1104.7 1472.5,1105.2 1472.6,1105.6 1472.8,1106.1 1473.0,1106.6 1473.1,1107.0 1473.3,1107.5 1473.5,1108.0 1473.6,1108.5 1473.8,1108.9 1474.0,1109.4 1474.1,1109.9 1474.3,1110.3 1474.5,1110.8 1474.7,1111.3 1474.8,1111.8 1475.0,1112.2 1475.2,1112.7 1475.3,1113.2 1475.5,1113.6 1475.7,1114.1 1475.8,1114.6 1476.0,1115.0 1476.2,1115.5 1476.3,1116.0 1476.5,1116.5 1476.7,1116.9 1476.8,1117.4 1477.0,1117.9 1477.2,1118.3 1477.3,1118.8 1477.5,1119.3 1477.7,1119.8 1477.8,1120.2 1478.0,1120.7 1478.2,1121.2 1480.5,1127.9 1488.6,1123.8 1486.6,1118.2 1486.5,1117.7 1486.3,1117.2 1486.1,1116.8 1486.0,1116.3 1485.8,1115.8 1485.6,1115.3 1485.5,1114.9 1485.3,1114.4 1485.1,1113.9 1485.0,1113.5 1484.8,1113.0 1484.6,1112.5 1484.5,1112.0 1484.3,1111.6 1484.1,1111.1 1484.0,1110.6 1483.8,1110.2 1483.6,1109.7 1483.5,1109.2 1483.3,1108.7 1483.1,1108.3 1483.0,1107.8 1482.8,1107.3 1482.6,1106.9 1482.5,1106.4 1482.3,1105.9 1482.1,1105.4 1482.0,1105.0 1481.8,1104.5 1481.6,1104.0 1481.5,1103.6 1481.3,1103.1 1481.1,1102.6 1480.9,1102.1 1480.8,1101.7 1480.6,1101.2 1480.4,1100.7 1480.3,1100.3 1480.1,1099.8 1479.9,1099.3 1479.8,1098.8 1479.6,1098.4 1479.4,1097.9 1479.3,1097.4 1479.1,1097.0 1478.9,1096.5 1478.8,1096.0 1478.6,1095.5 1478.4,1095.1 1478.2,1094.6 1475.8,1087.9ZM1487.8,1148.7 1490.2,1155.6 1498.3,1151.5 1495.9,1144.6ZM1497.7,1177.3 1501.3,1187.7 1509.4,1183.7 1505.9,1173.3Z" fill="#00f"/>
<path d="M316.5,174.1 316.6,175.3 316.7,176.5 316.8,177.7 316.9,178.9 317.0,180.1 317.1,181.3 317.2,182.4 317.3,183.5 317.4,184.6 317.5,185.7 317.6,186.8 317.7,187.9 317.8,188.9 317.9,190.0 318.0,191.0 318.1,192.0 318.2,193.0 318.3,194.0 318.4,195.0 318.5,196.0 318.6,196.9 318.7,197.9 318.8,198.8 318.9,199.7 319.0,200.7 319.1,201.6 319.2,202.5 319.3,203.4 319.4,204.2 319.5,205.1 319.6,206.0 319.7,206.8 319.8,207.7 319.9,208.5 320.0,209.4 320.1,210.2 320.2,211.0 320.3,211.8 320.4,212.6 320.5,213.4 320.6,214.2 320.7,215.0 320.8,215.7 320.9,216.5 321.0,217.3 321.1,218.0 321.2,218.8 321.3,219.5 321.4,220.3 321.5,221.0 321.6,221.7 321.7,222.4 321.8,223.1 321.9,223.8 322.0,224.5 322.1,225.2 322.2,225.9 322.3,226.6 322.4,227.3 322.5,228.0 322.6,228.6 322.7,229.3 322.8,230.0 322.9,230.6 323.0,231.3 323.1,231.9 323.2,232.6 323.3,233.2 323.4,233.8 323.5,234.5 323.6,235.1 323.7,235.7 323.8,236.3 323.9,236.9 324.0,237.5 324.1,238.2 324.2,238.8 324.3,239.3 324.4,239.9 324.5,240.5 324.6,241.1 324.7,241.7 324.8,242.3 324.9,242.9 325.0,243.4 325.1,244.0 325.2,244.6 325.3,245.1 325.4,245.7 325.5,246.2 325.6,246.8 325.7,247.3 325.8,247.9 325.9,248.4 326.0,249.0 326.1,249.5 326.2,250.0 326.3,250.5 326.4,251.1 326.5,251.6 326.6,252.1 326.7,252.6 326.8,253.2 326.9,253.7 327.0,254.2 327.1,254.7 327.2,255.2 327.3,255.7 327.4,256.2 327.5,256.7 327.6,257.2 327.7,257.7 327.8,258.2 327.9,258.7 328.0,259.1 328.1,259.6 328.2,260.1 328.3,260.6 328.4,261.1 328.5,261.5 328.6,262.0 328.7,262.5 328.8,262.9 328.9,263.4 329.0,263.9 329.1,264.3 329.2,264.8 329.3,265.2 329.4,265.7 329.5,266.1 329.6,266.6 329.7,267.0 329.8,267.5 329.9,267.9 330.0,268.4 330.1,268.8 330.2,269.2 330.3,269.7 330.4,270.1 330.5,270.5 330.6,271.0 330.7,271.4 330.8,271.8 330.9,272.2 331.0,272.7 331.1,273.1 331.2,273.5 331.3,273.9 331.4,274.3 331.6,274.8 331.7,275.2 331.8,275.6 331.9,276.0 332.0,276.4 332.1,276.8 332.2,277.2 332.3,277.6 332.4,278.0 332.5,278.4 332.6,278.8 332.7,279.2 332.8,279.6 332.9,280.0 333.0,280.4 333.1,280.8 333.2,281.2 333.3,281.6 333.4,281.9 333.5,282.3 333.6,282.7 333.7,283.1 333.8,283.5 333.9,283.9 334.0,284.2 334.1,284.6 334.2,285.0 334.3,285.4 334.4,285.7 334.5,286.1 334.6,286.5 334.7,286.8 334.8,287.2 334.9,287.6 335.0,287.9 335.1,288.3 335.2,288.7 335.3,289.0 335.4,289.4 335.5,289.7 335.6,290.1 335.7,290.5 335.8,290.8 335.9,291.2 336.0,291.5 336.1,291.9 336.2,292.2 336.3,292.6 336.4,292.9 336.5,293.3 336.6,293.6 336.7,294.0 336.8,294.3 336.9,294.6 337.0,295.0 337.1,295.3 337.2,295.7 337.3,296.0 337.4,296.3 337.5,296.7 337.6,297.0 337.7,297.3 337.8,297.7 337.9,298.0 338.0,298.3 338.1,298.7 338.2,299.0 338.3,299.3 338.4,299.7 338.5,300.0 338.6,300.3 338.7,300.6 338.8,301.0 338.9,301.3 339.0,301.6 339.1,301.9 339.2,302.2 339.3,302.6 339.4,302.9 339.5,303.2 339.6,303.5 339.7,303.8 339.8,304.1 339.9,304.5 340.0,304.8 340.1,305.1 340.2,305.4 340.3,305.7 340.4,306.0 340.5,306.3 340.6,306.6 340.7,306.9 340.8,307.2 340.9,307.6 341.0,307.9 341.1,308.2 341.2,308.5 341.3,308.8 341.4,309.1 341.5,309.4 341.6,309.7 341.7,310.0 341.8,310.3 341.9,310.6 342.0,310.9 342.1,311.2 342.2,311.4 342.3,311.7 342.4,312.0 342.5,312.3 342.6,312.6 342.7,312.9 342.8,313.2 342.9,313.5 343.0,313.8 343.1,314.1 343.2,314.4 343.3,314.6 343.4,314.9 343.5,315.2 343.6,315.5 343.7,315.8 343.8,316.1 343.9,316.4 344.0,316.6 344.1,316.9 344.2,317.2 344.3,317.5 344.4,317.8 344.5,318.0 344.6,318.3 344.7,318.6 344.8,318.9 344.9,319.1 345.0,319.4 345.1,319.7 345.2,320.0 345.3,320.2 345.4,320.5 345.5,320.8 345.6,321.1 345.7,321.3 345.8,321.6 345.9,321.9 346.0,322.1 346.1,322.4 346.2,322.7 346.3,323.0 346.4,323.2 346.5,323.5 346.9,324.7 347.4,325.8 347.8,327.0 348.3,328.1 348.7,329.3 349.2,330.4 349.6,331.5 350.1,332.6 350.5,333.7 351.0,334.8 351.4,335.8 351.8,336.9 352.3,338.0 352.7,339.0 353.2,340.1 353.6,341.1 354.1,342.1 354.5,343.1 355.0,344.1 355.4,345.1 355.9,346.1 356.3,347.1 356.7,348.1 357.2,349.1 357.6,350.0 358.1,351.0 358.5,351.9 359.0,352.9 359.4,353.8 359.9,354.8 360.3,355.7 360.7,356.6 361.2,357.5 361.6,358.4 362.1,359.3 362.5,360.2 363.0,361.1 363.4,362.0 363.9,362.9 364.3,363.8 364.8,364.6 365.2,365.5 365.6,366.4 366.1,367.2 366.5,368.1 367.0,368.9 367.4,369.8 367.9,370.6 368.3,371.4 368.8,372.2 369.2,373.1 369.7,373.9 370.1,374.7 370.5,375.5 371.0,376.3 371.4,377.1 371.9,377.9 372.3,378.7 372.8,379.5 373.2,380.3 373.7,381.1 374.1,381.8 374.6,382.6 375.0,383.4 375.4,384.2 375.9,384.9 376.3,385.7 376.8,386.4 377.2,387.2 377.7,387.9 378.1,388.7 378.6,389.4 379.0,390.2 379.4,390.9 379.9,391.6 380.3,392.4 380.8,393.1 381.2,393.8 381.7,394.5 382.1,395.3 382.6,396.0 383.0,396.7 383.5,397.4 383.9,398.1 384.3,398.8 384.8,399.5 385.2,400.2 385.7,400.9 386.1,401.6 386.6,402.3 387.0,403.0 387.5,403.7 387.9,404.3 388.4,405.0 388.8,405.7 389.2,406.4 389.7,407.1 390.1,407.7 390.6,408.4 391.0,409.1 391.5,409.7 391.9,410.4 392.4,411.0 392.8,411.7 393.3,412.3 393.7,413.0 394.1,413.6 394.6,414.3 395.0,414.9 395.5,415.6 395.9,416.2 396.4,416.9 396.8,417.5 397.3,418.1 397.7,418.8 398.1,419.4 398.6,420.0 399.0,420.7 399.5,421.3 399.9,421.9 400.4,422.5 400.8,423.1 401.3,423.8 401.7,424.4 402.2,425.0 402.6,425.6 403.0,426.2 403.5,426.8 403.9,427.4 404.4,428.0 404.8,428.6 405.3,429.2 405.7,429.8 406.2,430.4 406.6,431.0 407.1,431.6 407.5,432.2 407.9,432.8 408.4,433.4 408.8,434.0 409.3,434.6 409.7,435.2 410.2,435.7 410.6,436.3 411.1,436.9 411.5,437.5 412.0,438.1 412.4,438.6 412.8,439.2 413.3,439.8 413.7,440.4 414.2,440.9 414.6,441.5 415.1,442.1 415.5,442.6 416.0,443.2 416.4,443.8 416.8,444.3 417.3,444.9 417.7,445.4 418.2,446.0 418.6,446.6 419.1,447.1 419.5,447.7 420.0,448.2 420.4,448.8 420.9,449.3 421.3,449.9 421.7,450.4 422.2,451.0 422.6,451.5 423.1,452.1 423.5,452.6 424.0,453.1 424.4,453.7 424.9,454.2 425.3,454.8 425.8,455.3 426.2,455.8 426.6,456.4 427.1,456.9 427.5,457.4 428.0,458.0 428.4,458.5 428.9,459.0 429.3,459.6 429.8,460.1 430.2,460.6 430.7,461.1 431.1,461.7 431.5,462.2 432.0,462.7 432.4,463.2 432.9,463.7 433.3,464.3 433.8,464.8 434.2,465.3 434.7,465.8 435.1,466.3 435.5,466.8 436.0,467.4 436.4,467.9 436.9,468.4 437.3,468.9 437.8,469.4 438.2,469.9 438.7,470.4 439.1,470.9 439.6,471.4 440.0,471.9 440.4,472.4 440.9,472.9 441.3,473.4 441.8,473.9 442.2,474.4 442.7,474.9 443.1,475.4 443.6,475.9 444.0,476.4 444.5,476.9 444.9,477.4 445.3,477.9 445.8,478.4 446.2,478.9 446.7,479.4 447.1,479.9 447.6,480.4 448.0,480.9 448.5,481.3 448.9,481.8 449.4,482.3 449.8,482.8 450.2,483.3 450.7,483.8 451.1,484.3 451.6,484.7 452.0,485.2 452.5,485.7 452.9,486.2 453.4,486.7 453.8,487.1 454.2,487.6 454.7,488.1 455.1,488.6 455.6,489.0 456.0,489.5 456.5,490.0 456.9,490.5 457.4,490.9 457.8,491.4 458.3,491.9 458.7,492.4 459.1,492.8 459.6,493.3 460.0,493.8 460.5,494.2 460.9,494.7 461.4,495.2 461.8,495.6 462.3,496.1 462.7,496.6 463.2,497.0 463.6,497.5 464.0,497.9 464.5,498.4 464.9,498.9 465.4,499.3 465.8,499.8 466.3,500.2 466.7,500.7 467.2,501.2 467.6,501.6 468.1,502.1 468.5,502.5 468.9,503.0 469.4,503.4 469.8,503.9 470.3,504.4 470.7,504.8 471.2,505.3 471.6,505.7 472.1,506.2 472.5,506.6 472.9,507.1 473.4,507.5 473.8,508.0 474.3,508.4 474.7,508.9 475.2,509.3 475.6,509.8 476.1,510.2 476.5,510.6 477.0,511.1 477.4,511.5 477.8,512.0 478.3,512.4 478.7,512.9 479.2,513.3 479.6,513.7 480.1,514.2 480.5,514.6 481.0,515.1 481.4,515.5 481.9,515.9 482.3,516.4 482.7,516.8 483.2,517.3 483.6,517.7 484.1,518.1 484.5,518.6 485.0,519.0 485.4,519.4 485.9,519.9 486.3,520.3 486.8,520.7 487.2,521.2 487.6,521.6 488.1,522.0 488.5,522.5 489.0,522.9 489.4,523.3 489.9,523.8 490.3,524.2 490.8,524.6 491.2,525.0 491.6,525.5 492.1,525.9 492.5,526.3 493.0,526.8 493.4,527.2 493.9,527.6 494.3,528.0 494.8,528.5 495.2,528.9 495.7,529.3 496.1,529.7 496.5,530.2 497.0,530.6 497.4,531.0 497.9,531.4 498.3,531.8 498.8,532.3 499.2,532.7 499.7,533.1 500.1,533.5 500.6,533.9 501.0,534.4 501.4,534.8 501.9,535.2 502.3,535.6 502.8,536.0 503.2,536.4 503.7,536.9 504.1,537.3 504.6,537.7 505.0,538.1 505.5,538.5 505.9,538.9 506.3,539.3 506.8,539.8 507.2,540.2 507.7,540.6 508.1,541.0 508.6,541.4 509.0,541.8 509.5,542.2 509.9,542.6 510.3,543.1 510.8,543.5 511.2,543.9 511.7,544.3 512.1,544.7 512.6,545.1 513.0,545.5 513.5,545.9 513.9,546.3 514.4,546.7 514.8,547.1 515.2,547.5 515.7,547.9 516.1,548.3 516.6,548.7 517.0,549.2 517.5,549.6 517.9,550.0 518.4,550.4 518.8,550.8 519.3,551.2 519.7,551.6 520.1,552.0 520.6,552.4 521.0,552.8 521.5,553.2 521.9,553.6 522.4,554.0 522.8,554.4 523.3,554.8 523.7,555.2 524.2,555.6 524.6,556.0 525.0,556.4 525.5,556.8 525.9,557.2 526.4,557.6 526.8,558.0 527.3,558.4 527.7,558.7 528.2,559.1 528.6,559.5 529.0,559.9 529.5,560.3 529.9,560.7 530.4,561.1 530.8,561.5 531.3,561.9 531.7,562.3 532.2,562.7 532.6,563.1 533.1,563.5 533.5,563.9 533.9,564.3 534.4,564.6 534.8,565.0 535.3,565.4 535.7,565.8 536.2,566.2 536.6,566.6 537.1,567.0 537.5,567.4 538.0,567.8 538.4,568.2 538.8,568.5 539.3,568.9 539.7,569.3 540.2,569.7 540.6,570.1 541.1,570.5 541.5,570.9 542.0,571.2 542.4,571.6 542.9,572.0 543.3,572.4 543.7,572.8 544.2,573.2 544.6,573.6 545.1,573.9 545.5,574.3 546.0,574.7 546.4,575.1 546.9,575.5 547.3,575.9 547.7,576.2 548.2,576.6 548.6,577.0 549.1,577.4 549.5,577.8 550.0,578.1 550.4,578.5 550.9,578.9 551.3,579.3 551.8,579.7 552.2,580.0 552.6,580.4 553.1,580.8 553.5,581.2 554.0,581.6 554.4,581.9 554.9,582.3 555.3,582.7 555.8,583.1 556.2,583.4 556.7,583.8 557.1,584.2 557.5,584.6 558.0,585.0 558.4,585.3 558.9,585.7 559.3,586.1 559.8,586.5 560.2,586.8 560.7,587.2 561.1,587.6 561.6,588.0 562.0,588.3 562.4,588.7 562.9,589.1 563.3,589.4 563.8,589.8 564.2,590.2 564.7,590.6 565.1,590.9 565.6,591.3 566.0,591.7 566.4,592.0 566.9,592.4 567.3,592.8 567.8,593.2 568.2,593.5 568.7,593.9 569.1,594.3 569.6,594.6 570.0,595.0 570.5,595.4 570.9,595.7 571.3,596.1 571.8,596.5 572.2,596.9 572.7,597.2 573.1,597.6 573.6,598.0 574.0,598.3 574.5,598.7 574.9,599.1 575.4,599.4 575.8,599.8 576.2,600.2 576.7,600.5 577.1,600.9 577.6,601.3 578.0,601.6 578.5,602.0 578.9,602.3 579.4,602.7 579.8,603.1 580.3,603.4 580.7,603.8 581.1,604.2 581.6,604.5 582.0,604.9 582.5,605.3 582.9,605.6 583.4,606.0 583.8,606.3 584.3,606.7 584.7,607.1 585.1,607.4 585.6,607.8 586.0,608.2 586.5,608.5 586.9,608.9 587.4,609.2 587.8,609.6 588.3,610.0 588.7,610.3 589.2,610.7 589.6,611.0 590.0,611.4 590.5,611.8 590.9,612.1 591.4,612.5 591.8,612.8 592.3,613.2 592.7,613.5 593.2,613.9 593.6,614.3 594.1,614.6 594.5,615.0 594.9,615.3 595.4,615.7 595.8,616.0 596.3,616.4 596.7,616.8 597.2,617.1 597.6,617.5 598.1,617.8 598.5,618.2 599.0,618.5 599.4,618.9 599.8,619.2 600.3,619.6 600.7,620.0 601.2,620.3 601.6,620.7 602.1,621.0 602.5,621.4 603.0,621.7 603.4,622.1 603.8,622.4 604.3,622.8 604.7,623.1 605.2,623.5 605.6,623.8 606.1,624.2 606.5,624.6 607.0,624.9 607.4,625.3 607.9,625.6 608.3,626.0 608.7,626.3 609.2,626.7 609.6,627.0 610.1,627.4 610.5,627.7 611.0,628.1 611.4,628.4 611.9,628.8 612.3,629.1 612.8,629.5 613.2,629.8 613.6,630.2 614.1,630.5 614.5,630.9 615.0,631.2 615.4,631.6 615.9,631.9 616.3,632.3 616.8,632.6 617.2,633.0 617.7,633.3 618.1,633.6 618.5,634.0 619.0,634.3 619.4,634.7 619.9,635.0 620.3,635.4 620.8,635.7 621.2,636.1 621.7,636.4 622.1,636.8 622.5,637.1 623.0,637.5 623.4,637.8 623.9,638.2 624.3,638.5 624.8,638.8 625.2,639.2 625.7,639.5 626.1,639.9 626.6,640.2 627.0,640.6 627.4,640.9 627.9,641.3 628.3,641.6 628.8,641.9 629.2,642.3 629.7,642.6 630.1,643.0 630.6,643.3 631.0,643.7 631.5,644.0 631.9,644.3 632.3,644.7 632.8,645.0 633.2,645.4 633.7,645.7 634.1,646.1 634.6,646.4 635.0,646.7 635.5,647.1 635.9,647.4 636.4,647.8 636.8,648.1 637.2,648.4 637.7,648.8 638.1,649.1 638.6,649.5 639.0,649.8 639.5,650.1 639.9,650.5 640.4,650.8 640.8,651.2 641.2,651.5 641.7,651.8 642.1,652.2 642.6,652.5 643.0,652.9 643.5,653.2 643.9,653.5 644.4,653.9 644.8,654.2 645.3,654.5 645.7,654.9 646.1,655.2 646.6,655.6 647.0,655.9 647.5,656.2 647.9,656.6 648.4,656.9 648.8,657.2 649.3,657.6 649.7,657.9 650.2,658.3 650.6,658.6 651.0,658.9 651.5,659.3 651.9,659.6 652.4,659.9 652.8,660.3 653.3,660.6 653.7,660.9 654.2,661.3 654.6,661.6 655.1,661.9 655.5,662.3 655.9,662.6 656.4,663.0 656.8,663.3 657.3,663.6 657.7,664.0 658.2,664.3 658.6,664.6 659.1,665.0 659.5,665.3 659.9,665.6 660.4,666.0 660.8,666.3 661.3,666.6 661.7,667.0 662.2,667.3 662.6,667.6 663.1,668.0 663.5,668.3 664.0,668.6 664.4,669.0 664.8,669.3 665.3,669.6 665.7,669.9 666.2,670.3 666.6,670.6 667.1,670.9 667.5,671.3 668.0,671.6 668.4,671.9 668.9,672.3 669.3,672.6 669.7,672.9 670.2,673.3 670.6,673.6 671.1,673.9 671.5,674.2 672.0,674.6 672.4,674.9 672.9,675.2 673.3,675.6 673.8,675.9 674.2,676.2 674.6,676.6 675.1,676.9 675.5,677.2 676.0,677.5 676.4,677.9 676.9,678.2 677.3,678.5 677.8,678.9 678.2,679.2 678.6,679.5 679.1,679.8 679.5,680.2 680.0,680.5 680.4,680.8 680.9,681.1 681.3,681.5 681.8,681.8 682.2,682.1 682.7,682.5 683.1,682.8 683.5,683.1 684.0,683.4 684.4,683.8 684.9,684.1 685.3,684.4 685.8,684.7 686.2,685.1 686.7,685.4 687.1,685.7 687.6,686.0 688.0,686.4 688.4,686.7 688.9,687.0 689.3,687.3 689.8,687.7 690.2,688.0 690.7,688.3 691.1,688.6 691.6,689.0 692.0,689.3 692.5,689.6 692.9,689.9 693.3,690.3 693.8,690.6 694.2,690.9 694.7,691.2 695.1,691.6 695.6,691.9 696.0,692.2 696.5,692.5 696.9,692.9 697.3,693.2 697.8,693.5 698.2,693.8 698.7,694.1 699.1,694.5 699.6,694.8 700.0,695.1 700.5,695.4 700.9,695.8 701.4,696.1 701.8,696.4 702.2,696.7 702.7,697.0 703.1,697.4 703.6,697.7 704.0,698.0 704.5,698.3 704.9,698.7 705.4,699.0 705.8,699.3 706.3,699.6 706.7,699.9 707.1,700.3 707.6,700.6 708.0,700.9 708.5,701.2 708.9,701.5 709.4,701.9 709.8,702.2 710.3,702.5 710.7,702.8 711.2,703.1 711.6,703.5 712.0,703.8 712.5,704.1 712.9,704.4 713.4,704.7 713.8,705.1 714.3,705.4 714.7,705.7 715.2,706.0 715.6,706.3 716.0,706.7 716.5,707.0 716.9,707.3 717.4,707.6 717.8,707.9 718.3,708.2 718.7,708.6 719.2,708.9 719.6,709.2 720.1,709.5 720.5,709.8 720.9,710.2 721.4,710.5 721.8,710.8 722.3,711.1 722.7,711.4 723.2,711.7 723.6,712.1 724.1,712.4 724.5,712.7 725.0,713.0 725.4,713.3 725.8,713.6 726.3,714.0 726.7,714.3 727.2,714.6 727.6,714.9 728.1,715.2 728.5,715.5 729.0,715.8 729.4,716.2 729.9,716.5 730.3,716.8 730.7,717.1 731.2,717.4 731.6,717.7 732.1,718.1 732.5,718.4 733.0,718.7 733.4,719.0 733.9,719.3 734.3,719.6 734.7,719.9 735.2,720.3 735.6,720.6 736.1,720.9 736.5,721.2 737.0,721.5 737.4,721.8 737.9,722.1 738.3,722.5 738.8,722.8 739.2,723.1 739.6,723.4 740.1,723.7 740.5,724.0 741.0,724.3 741.4,724.7 741.9,725.0 742.3,725.3 742.8,725.6 743.2,725.9 743.7,726.2 744.1,726.5 744.5,726.8 745.0,727.2 745.4,727.5 745.9,727.8 746.3,728.1 746.8,728.4 747.2,728.7 747.7,729.0 748.1,729.3 748.6,729.6 749.0,730.0 749.4,730.3 749.9,730.6 750.3,730.9 750.8,731.2 751.2,731.5 751.7,731.8 752.1,732.1 752.6,732.4 753.0,732.8 753.4,733.1 753.9,733.4 754.3,733.7 754.8,734.0 755.2,734.3 755.7,734.6 756.1,734.9 756.6,735.2 757.0,735.6 757.5,735.9 757.9,736.2 758.3,736.5 758.8,736.8 759.2,737.1 759.7,737.4 760.1,737.7 760.6,738.0 761.0,738.3 761.5,738.6 761.9,739.0 762.4,739.3 762.8,739.6 763.2,739.9 763.7,740.2 764.1,740.5 764.6,740.8 765.0,741.1 765.5,741.4 765.9,741.7 766.4,742.0 766.8,742.4 767.3,742.7 767.7,743.0 768.1,743.3 768.6,743.6 769.0,743.9 769.5,744.2 769.9,744.5 770.4,744.8 770.8,745.1 771.3,745.4 771.7,745.7 772.1,746.0 772.6,746.3 773.0,746.7 773.5,747.0 773.9,747.3 774.4,747.6 774.8,747.9 775.3,748.2 775.7,748.5 776.2,748.8 776.6,749.1 777.0,749.4 777.5,749.7 777.9,750.0 778.4,750.3 778.8,750.6 779.3,750.9 779.7,751.3 780.2,751.6 780.6,751.9 781.1,752.2 781.5,752.5 781.9,752.8 782.4,753.1 782.8,753.4 783.3,753.7 783.7,754.0 784.2,754.3 784.6,754.6 785.1,754.9 785.5,755.2 786.0,755.5 786.4,755.8 786.8,756.1 787.3,756.4 787.7,756.7 788.2,757.0 788.6,757.4 789.1,757.7 789.5,758.0 790.0,758.3 790.4,758.6 790.8,758.9 791.3,759.2 791.7,759.5 792.2,759.8 792.6,760.1 793.1,760.4 793.5,760.7 794.0,761.0 794.4,761.3 794.9,761.6 795.3,761.9 795.7,762.2 796.2,762.5 796.6,762.8 797.1,763.1 797.5,763.4 798.0,763.7 798.4,764.0 798.9,764.3 799.3,764.6 799.8,764.9 800.2,765.2 800.6,765.5 801.1,765.8 801.5,766.1 802.0,766.4 802.4,766.7 802.9,767.0 803.3,767.3 803.8,767.7 804.2,768.0 804.7,768.3 805.1,768.6 805.5,768.9 806.0,769.2 806.4,769.5 806.9,769.8 807.3,770.1 807.8,770.4 808.2,770.7 808.7,771.0 809.1,771.3 809.5,771.6 810.0,771.9 810.4,772.2 810.9,772.5 811.3,772.8 811.8,773.1 812.2,773.4 812.7,773.7 813.1,774.0 813.6,774.3 814.0,774.6 814.4,774.9 814.9,775.2 815.3,775.5 815.8,775.8 816.2,776.1 816.7,776.4 817.1,776.7 817.6,777.0 818.0,777.3 818.5,777.6 818.9,777.9 819.3,778.2 819.8,778.5 820.2,778.8 820.7,779.1 821.1,779.4 821.6,779.7 822.0,780.0 822.5,780.3 822.9,780.6 823.4,780.9 823.8,781.2 824.2,781.5 824.7,781.8 825.1,782.1 825.6,782.3 826.0,782.6 826.5,782.9 826.9,783.2 827.4,783.5 827.8,783.8 828.2,784.1 828.7,784.4 829.1,784.7 829.6,785.0 830.0,785.3 830.5,785.6 830.9,785.9 831.4,786.2 831.8,786.5 832.3,786.8 832.7,787.1 833.1,787.4 833.6,787.7 834.0,788.0 834.5,788.3 834.9,788.6 835.4,788.9 835.8,789.2 836.3,789.5 836.7,789.8 837.2,790.1 837.6,790.4 838.0,790.7 838.5,791.0 838.9,791.3 839.4,791.6 839.8,791.9 840.3,792.2 840.7,792.5 841.2,792.7 841.6,793.0 842.1,793.3 842.5,793.6 842.9,793.9 843.4,794.2 843.8,794.5 844.3,794.8 844.7,795.1 845.2,795.4 845.6,795.7 846.1,796.0 846.5,796.3 846.9,796.6 847.4,796.9 847.8,797.2 848.3,797.5 848.7,797.8 849.2,798.1 849.6,798.4 850.1,798.7 850.5,798.9 851.0,799.2 851.4,799.5 851.8,799.8 852.3,800.1 852.7,800.4 853.2,800.7 853.6,801.0 854.1,801.3 854.5,801.6 855.0,801.9 855.4,802.2 855.9,802.5 856.3,802.8 856.7,803.1 857.2,803.4 857.6,803.7 858.1,803.9 858.5,804.2 859.0,804.5 859.4,804.8 859.9,805.1 860.3,805.4 860.8,805.7 861.2,806.0 861.6,806.3 862.1,806.6 862.5,806.9 863.0,807.2 863.4,807.5 863.9,807.8 864.3,808.1 864.8,808.3 865.2,808.6 865.6,808.9 866.1,809.2 866.5,809.5 867.0,809.8 867.4,810.1 867.9,810.4 868.3,810.7 868.8,811.0 869.2,811.3 869.7,811.6 870.1,811.9 870.5,812.1 871.0,812.4 871.4,812.7 871.9,813.0 872.3,813.3 872.8,813.6 873.2,813.9 873.7,814.2 874.1,814.5 874.6,814.8 875.0,815.1 875.4,815.4 875.9,815.6 876.3,815.9 876.8,816.2 877.2,816.5 877.7,816.8 878.1,817.1 878.6,817.4 879.0,817.7 879.5,818.0 879.9,818.3 880.3,818.6 880.8,818.8 881.2,819.1 881.7,819.4 882.1,819.7 882.6,820.0 883.0,820.3 883.5,820.6 883.9,820.9 884.3,821.2 884.8,821.5 885.2,821.7 885.7,822.0 886.1,822.3 886.6,822.6 887.0,822.9 887.5,823.2 887.9,823.5 888.4,823.8 888.8,824.1 889.2,824.4 889.7,824.6 890.1,824.9 890.6,825.2 891.0,825.5 891.5,825.8 891.9,826.1 892.4,826.4 892.8,826.7 893.3,827.0 893.7,827.3 894.1,827.5 894.6,827.8 895.0,828.1 895.5,828.4 895.9,828.7 896.4,829.0 896.8,829.3 897.3,829.6 897.7,829.8 898.2,830.1 898.6,830.4 899.0,830.7 899.5,831.0 899.9,831.3 900.4,831.6 900.8,831.9 901.3,832.2 901.7,832.4 902.2,832.7 902.6,833.0 903.0,833.3 903.5,833.6 903.9,833.9 904.4,834.2 904.8,834.5 905.3,834.7 905.7,835.0 906.2,835.3 906.6,835.6 907.1,835.9 907.5,836.2 907.9,836.5 908.4,836.8 908.8,837.0 909.3,837.3 909.7,837.6 910.2,837.9 910.6,838.2 911.1,838.5 911.5,838.8 912.0,839.1 912.4,839.3 912.8,839.6 913.3,839.9 913.7,840.2 914.2,840.5 914.6,840.8 915.1,841.1 915.5,841.3 916.0,841.6 916.4,841.9 916.9,842.2 917.3,842.5 917.7,842.8 918.2,843.1 918.6,843.4 919.1,843.6 919.5,843.9 920.0,844.2 920.4,844.5 920.9,844.8 921.3,845.1 921.7,845.4 922.2,845.6 922.6,845.9 923.1,846.2 923.5,846.5 924.0,846.8 924.4,847.1 924.9,847.4 925.3,847.6 925.8,847.9 926.2,848.2 926.6,848.5 927.1,848.8 927.5,849.1 928.0,849.3 928.4,849.6 928.9,849.9 929.3,850.2 929.8,850.5 930.2,850.8 930.7,851.1 931.1,851.3 931.5,851.6 932.0,851.9 932.4,852.2 932.9,852.5 933.3,852.8 933.8,853.0 934.2,853.3 934.7,853.6 935.1,853.9 935.6,854.2 936.0,854.5 936.4,854.8 936.9,855.0 937.3,855.3 937.8,855.6 938.2,855.9 938.7,856.2 939.1,856.5 939.6,856.7 940.0,857.0 940.4,857.3 940.9,857.6 941.3,857.9 941.8,858.2 942.2,858.4 942.7,858.7 943.1,859.0 943.6,859.3 944.0,859.6 944.5,859.9 944.9,860.1 945.3,860.4 945.8,860.7 946.2,861.0 946.7,861.3 947.1,861.6 947.6,861.8 948.0,862.1 948.5,862.4 948.9,862.7 949.4,863.0 949.8,863.3 950.2,863.5 950.7,863.8 951.1,864.1 951.6,864.4 952.0,864.7 952.5,865.0 952.9,865.2 953.4,865.5 953.8,865.8 954.3,866.1 954.7,866.4 955.1,866.6 955.6,866.9 956.0,867.2 956.5,867.5 956.9,867.8 957.4,868.1 957.8,868.3 958.3,868.6 958.7,868.9 959.1,869.2 959.6,869.5 960.0,869.7 960.5,870.0 960.9,870.3 961.4,870.6 961.8,870.9 962.3,871.2 962.7,871.4 963.2,871.7 963.6,872.0 964.0,872.3 964.5,872.6 964.9,872.8 965.4,873.1 965.8,873.4 966.3,873.7 966.7,874.0 967.2,874.2 967.6,874.5 968.1,874.8 968.5,875.1 968.9,875.4 969.4,875.6 969.8,875.9 970.3,876.2 970.7,876.5 971.2,876.8 971.6,877.0 972.1,877.3 972.5,877.6 973.0,877.9 973.4,878.2 973.8,878.5 974.3,878.7 974.7,879.0 975.2,879.3 975.6,879.6 976.1,879.9 976.5,880.1 977.0,880.4 977.4,880.7 977.8,881.0 978.3,881.3 978.7,881.5 979.2,881.8 979.6,882.1 980.1,882.4 980.5,882.6 981.0,882.9 981.4,883.2 981.9,883.5 982.3,883.8 982.7,884.0 983.2,884.3 983.6,884.6 984.1,884.9 984.5,885.2 985.0,885.4 985.4,885.7 985.9,886.0 986.3,886.3 986.8,886.6 987.2,886.8 987.6,887.1 988.1,887.4 988.5,887.7 989.0,888.0 989.4,888.2 989.9,888.5 990.3,888.8 990.8,889.1 991.2,889.3 991.7,889.6 992.1,889.9 992.5,890.2 993.0,890.5 993.4,890.7 993.9,891.0 994.3,891.3 994.8,891.6 995.2,891.8 995.7,892.1 996.1,892.4 996.5,892.7 997.0,893.0 997.4,893.2 997.9,893.5 998.3,893.8 998.8,894.1 999.2,894.3 999.7,894.6 1000.1,894.9 1000.6,895.2 1001.0,895.5 1001.4,895.7 1001.9,896.0 1002.3,896.3 1002.8,896.6 1003.2,896.8 1003.7,897.1 1004.1,897.4 1004.6,897.7 1005.0,898.0 1005.5,898.2 1005.9,898.5 1006.3,898.8 1006.8,899.1 1007.2,899.3 1007.7,899.6 1008.1,899.9 1008.6,900.2 1009.0,900.4 1009.5,900.7 1009.9,901.0 1010.4,901.3 1010.8,901.5 1011.2,901.8 1011.7,902.1 1012.1,902.4 1012.6,902.6 1013.0,902.9 1013.5,903.2 1013.9,903.5 1014.4,903.8 1014.8,904.0 1015.2,904.3 1015.7,904.6 1016.1,904.9 1016.6,905.1 1017.0,905.4 1017.5,905.7 1017.9,906.0 1018.4,906.2 1018.8,906.5 1019.3,906.8 1019.7,907.0 1020.1,907.3 1020.6,907.6 1021.0,907.9 1021.5,908.1 1021.9,908.4 1022.4,908.7 1022.8,909.0 1023.3,909.2 1023.7,909.5 1024.2,909.8 1024.6,910.1 1025.0,910.3 1025.5,910.6 1025.9,910.9 1026.4,911.2 1026.8,911.4 1027.3,911.7 1027.7,912.0 1028.2,912.3 1028.6,912.5 1029.1,912.8 1029.5,913.1 1029.9,913.3 1030.4,913.6 1030.8,913.9 1031.3,914.2 1031.7,914.4 1032.2,914.7 1032.6,915.0 1033.1,915.3 1033.5,915.5 1033.9,915.8 1034.4,916.1 1034.8,916.3 1035.3,916.6 1035.7,916.9 1036.2,917.2 1036.6,917.4 1037.1,917.7 1037.5,918.0 1038.0,918.2 1038.4,918.5 1038.8,918.8 1039.3,919.1 1039.7,919.3 1040.2,919.6 1040.6,919.9 1041.1,920.1 1041.5,920.4 1042.0,920.7 1042.4,921.0 1042.9,921.2 1043.3,921.5 1043.7,921.8 1044.2,922.0 1044.6,922.3 1045.1,922.6 1045.5,922.9 1046.0,923.1 1046.4,923.4 1046.9,923.7 1047.3,923.9 1047.8,924.2 1048.2,924.5 1048.6,924.7 1049.1,925.0 1049.5,925.3 1050.0,925.6 1050.4,925.8 1050.9,926.1 1051.3,926.4 1051.8,926.6 1052.2,926.9 1052.6,927.2 1053.1,927.5 1053.5,927.7 1054.0,928.0 1054.4,928.3 1054.9,928.5 1055.3,928.8 1055.8,929.1 1056.2,929.3 1056.7,929.6 1057.1,929.9 1057.5,930.1 1058.0,930.4 1058.4,930.7 1058.9,931.0 1059.3,931.2 1059.8,931.5 1060.2,931.8 1060.7,932.0 1061.1,932.3 1061.6,932.6 1062.0,932.8 1062.4,933.1 1062.9,933.4 1063.3,933.6 1063.8,933.9 1064.2,934.2 1064.7,934.4 1065.1,934.7 1065.6,935.0 1066.0,935.3 1066.5,935.5 1066.9,935.8 1067.3,936.1 1067.8,936.3 1068.2,936.6 1068.7,936.9 1069.1,937.1 1069.6,937.4 1070.0,937.7 1070.5,937.9 1070.9,938.2 1071.3,938.5 1071.8,938.7 1072.2,939.0 1072.7,939.3 1073.1,939.5 1073.6,939.8 1074.0,940.1 1074.5,940.3 1074.9,940.6 1075.4,940.9 1075.8,941.1 1076.2,941.4 1076.7,941.7 1077.1,941.9 1077.6,942.2 1078.0,942.5 1078.5,942.7 1078.9,943.0 1079.4,943.3 1079.8,943.5 1080.3,943.8 1080.7,944.1 1081.1,944.3 1081.6,944.6 1082.0,944.9 1082.5,945.1 1082.9,945.4 1083.4,945.7 1083.8,945.9 1084.3,946.2 1084.7,946.5 1085.2,946.7 1085.6,947.0 1086.0,947.3 1086.5,947.5 1086.9,947.8 1087.4,948.1 1087.8,948.3 1088.3,948.6 1088.7,948.9 1089.2,949.1 1089.6,949.4 1090.0,949.7 1090.5,949.9 1090.9,950.2 1091.4,950.5 1091.8,950.7 1092.3,951.0 1092.7,951.3 1093.2,951.5 1093.6,951.8 1094.1,952.1 1094.5,952.3 1094.9,952.6 1095.4,952.9 1095.8,953.1 1096.3,953.4 1096.7,953.7 1097.2,953.9 1097.6,954.2 1098.1,954.5 1098.5,954.7 1099.0,955.0 1099.4,955.3 1099.8,955.5 1100.3,955.8 1100.7,956.0 1101.2,956.3 1101.6,956.6 1102.1,956.8 1102.5,957.1 1103.0,957.4 1103.4,957.6 1103.9,957.9 1104.3,958.2 1104.7,958.4 1105.2,958.7 1105.6,959.0 1106.1,959.2 1106.5,959.5 1107.0,959.8 1107.4,960.0 1107.9,960.3 1108.3,960.6 1108.7,960.8 1109.2,961.1 1109.6,961.3 1110.1,961.6 1110.5,961.9 1111.0,962.1 1111.4,962.4 1111.9,962.7 1112.3,962.9 1112.8,963.2 1113.2,963.5 1113.6,963.7 1114.1,964.0 1114.5,964.3 1115.0,964.5 1115.4,964.8 1115.9,965.0 1116.3,965.3 1116.8,965.6 1117.2,965.8 1117.7,966.1 1118.1,966.4 1118.5,966.6 1119.0,966.9 1119.4,967.2 1119.9,967.4 1120.3,967.7 1120.8,967.9 1121.2,968.2 1121.7,968.5 1122.1,968.7 1122.6,969.0 1123.0,969.3 1123.4,969.5 1123.9,969.8 1124.3,970.1 1124.8,970.3 1125.2,970.6 1125.7,970.8 1126.1,971.1 1126.6,971.4 1127.0,971.6 1127.4,971.9 1127.9,972.2 1128.3,972.4 1128.8,972.7 1129.2,973.0 1129.7,973.2 1130.1,973.5 1130.6,973.7 1131.0,974.0 1131.5,974.3 1131.9,974.5 1132.3,974.8 1132.8,975.1 1133.2,975.3 1133.7,975.6 1134.1,975.9 1134.6,976.1 1135.0,976.4 1135.5,976.6 1135.9,976.9 1136.4,977.2 1136.8,977.4 1137.2,977.7 1137.7,978.0 1138.1,978.2 1138.6,978.5 1139.0,978.7 1139.5,979.0 1139.9,979.3 1140.4,979.5 1140.8,979.8 1141.3,980.1 1141.7,980.3 1142.1,980.6 1142.6,980.8 1143.0,981.1 1143.5,981.4 1143.9,981.6 1144.4,981.9 1144.8,982.2 1145.3,982.4 1145.7,982.7 1146.1,982.9 1146.6,983.2 1147.0,983.5 1147.5,983.7 1147.9,984.0 1148.4,984.3 1148.8,984.5 1149.3,984.8 1149.7,985.0 1150.2,985.3 1150.6,985.6 1151.0,985.8 1151.5,986.1 1151.9,986.4 1152.4,986.6 1152.8,986.9 1153.3,987.1 1153.7,987.4 1154.2,987.7 1154.6,987.9 1155.1,988.2 1155.5,988.5 1155.9,988.7 1156.4,989.0 1156.8,989.2 1157.3,989.5 1157.7,989.8 1158.2,990.0 1158.6,990.3 1159.1,990.6 1159.5,990.8 1160.0,991.1 1160.4,991.3 1160.8,991.6 1161.3,991.9 1161.7,992.1 1162.2,992.4 1162.6,992.7 1163.1,992.9 1163.5,993.2 1164.0,993.4 1164.4,993.7 1164.8,994.0 1165.3,994.2 1165.7,994.5 1166.2,994.8 1166.6,995.0 1167.1,995.3 1167.5,995.5 1168.0,995.8 1168.4,996.1 1168.9,996.3 1169.3,996.6 1169.7,996.9 1170.2,997.1 1170.6,997.4 1171.1,997.6 1171.5,997.9 1172.0,998.2 1172.4,998.4 1172.9,998.7 1173.3,998.9 1173.8,999.2 1174.2,999.5 1174.6,999.7 1175.1,1000.0 1175.5,1000.3 1176.0,1000.5 1176.4,1000.8 1176.9,1001.0 1177.3,1001.3 1177.8,1001.6 1178.2,1001.8 1178.7,1002.1 1179.1,1002.4 1179.5,1002.6 1180.0,1002.9 1180.4,1003.1 1180.9,1003.4 1181.3,1003.7 1181.8,1003.9 1182.2,1004.2 1182.7,1004.4 1183.1,1004.7 1183.5,1005.0 1184.0,1005.2 1184.4,1005.5 1184.9,1005.8 1185.3,1006.0 1185.8,1006.3 1186.2,1006.5 1186.7,1006.8 1187.1,1007.1 1187.6,1007.3 1188.0,1007.6 1188.4,1007.9 1188.9,1008.1 1189.3,1008.4 1189.8,1008.6 1190.2,1008.9 1190.7,1009.2 1191.1,1009.4 1191.6,1009.7 1192.0,1010.0 1192.5,1010.2 1192.9,1010.5 1193.3,1010.7 1193.8,1011.0 1194.2,1011.3 1194.7,1011.5 1195.1,1011.8 1195.6,1012.0 1196.0,1012.3 1196.5,1012.6 1196.9,1012.8 1197.4,1013.1 1197.8,1013.4 1198.2,1013.6 1198.7,1013.9 1199.1,1014.1 1199.6,1014.4 1200.0,1014.7 1200.5,1014.9 1200.9,1015.2 1201.4,1015.5 1201.8,1015.7 1202.2,1016.0 1202.7,1016.2 1203.1,1016.5 1203.6,1016.8 1204.0,1017.0 1204.5,1017.3 1204.9,1017.5 1205.4,1017.8 1205.8,1018.1 1206.3,1018.3 1206.7,1018.6 1207.1,1018.9 1207.6,1019.1 1208.0,1019.4 1208.5,1019.6 1208.9,1019.9 1209.4,1020.2 1209.8,1020.4 1210.3,1020.7 1210.7,1021.0 1211.2,1021.2 1211.6,1021.5 1212.0,1021.7 1212.5,1022.0 1212.9,1022.3 1213.4,1022.5 1213.8,1022.8 1214.3,1023.0 1214.7,1023.3 1215.2,1023.6 1215.6,1023.8 1216.1,1024.1 1216.5,1024.3 1216.9,1024.6 1217.4,1024.9 1217.8,1025.1 1218.3,1025.4 1218.7,1025.7 1219.2,1025.9 1219.6,1026.2 1220.1,1026.4 1220.5,1026.7 1220.9,1027.0 1221.4,1027.2 1221.8,1027.5 1222.3,1027.7 1222.7,1028.0 1223.2,1028.3 1223.6,1028.5 1224.1,1028.8 1224.5,1029.0 1225.0,1029.3 1225.4,1029.6 1225.8,1029.8 1226.3,1030.1 1226.7,1030.3 1227.2,1030.6 1227.6,1030.9 1228.1,1031.1 1228.5,1031.4 1229.0,1031.6 1229.4,1031.9 1229.9,1032.2 1230.3,1032.4 1230.7,1032.7 1231.2,1032.9 1231.6,1033.2 1232.1,1033.5 1232.5,1033.7 1233.0,1034.0 1233.4,1034.2 1233.9,1034.5 1234.3,1034.8 1234.8,1035.0 1235.2,1035.3 1235.6,1035.5 1236.1,1035.8 1236.5,1036.1 1237.0,1036.3 1237.4,1036.6 1237.9,1036.8 1238.3,1037.1 1238.8,1037.4 1239.2,1037.6 1239.6,1037.9 1240.1,1038.1 1240.5,1038.4 1241.0,1038.7 1241.4,1038.9 1241.9,1039.2 1242.3,1039.4 1242.8,1039.7 1243.2,1040.0 1243.7,1040.2 1244.1,1040.5 1244.5,1040.7 1245.0,1041.0 1245.4,1041.3 1245.9,1041.5 1246.3,1041.8 1246.8,1042.0 1247.2,1042.3 1247.7,1042.6 1248.1,1042.8 1248.6,1043.1 1249.0,1043.3 1249.4,1043.6 1249.9,1043.8 1250.3,1044.1 1250.8,1044.4 1251.2,1044.6 1251.7,1044.9 1252.1,1045.1 1252.6,1045.4 1253.0,1045.7 1253.5,1045.9 1253.9,1046.2 1254.3,1046.4 1254.8,1046.7 1255.2,1047.0 1255.7,1047.2 1256.1,1047.5 1256.6,1047.7 1257.0,1048.0 1257.5,1048.2 1257.9,1048.5 1258.3,1048.8 1258.8,1049.0 1259.2,1049.3 1259.7,1049.5 1260.1,1049.8 1260.6,1050.1 1261.0,1050.3 1261.5,1050.6 1261.9,1050.8 1262.4,1051.1 1262.8,1051.3 1263.2,1051.6 1263.7,1051.9 1264.1,1052.1 1264.6,1052.4 1265.0,1052.6 1265.5,1052.9 1265.9,1053.2 1266.4,1053.4 1266.8,1053.7 1267.3,1053.9 1267.7,1054.2 1268.1,1054.4 1268.6,1054.7 1269.0,1055.0 1269.5,1055.2 1269.9,1055.5 1270.4,1055.7 1270.8,1056.0 1271.3,1056.2 1271.7,1056.5 1272.2,1056.8 1272.6,1057.0 1273.0,1057.3 1273.5,1057.5 1273.9,1057.8 1274.4,1058.1 1274.8,1058.3 1275.3,1058.6 1275.7,1058.8 1276.2,1059.1 1276.6,1059.3 1277.0,1059.6 1277.5,1059.9 1277.9,1060.1 1278.4,1060.4 1278.8,1060.6 1279.3,1060.9 1279.7,1061.1 1280.2,1061.4 1280.6,1061.7 1281.1,1061.9 1281.5,1062.2 1281.9,1062.4 1282.4,1062.7 1282.8,1062.9 1283.3,1063.2 1283.7,1063.5 1284.2,1063.7 1284.6,1064.0 1285.1,1064.2 1285.5,1064.5 1286.0,1064.7 1286.4,1065.0 1286.8,1065.3 1287.3,1065.5 1287.7,1065.8 1288.2,1066.0 1288.6,1066.3 1289.1,1066.5 1289.5,1066.8 1290.0,1067.0 1290.4,1067.3 1290.9,1067.6 1291.3,1067.8 1291.7,1068.1 1292.2,1068.3 1292.6,1068.6 1293.1,1068.8 1293.5,1069.1 1294.0,1069.4 1294.4,1069.6 1294.9,1069.9 1295.3,1070.1 1295.7,1070.4 1296.2,1070.6 1296.6,1070.9 1297.1,1071.2 1297.5,1071.4 1298.0,1071.7 1298.4,1071.9 1298.9,1072.2 1299.3,1072.4 1299.8,1072.7 1300.2,1072.9 1300.6,1073.2 1301.1,1073.5 1301.5,1073.7 1302.0,1074.0 1302.4,1074.2 1302.9,1074.5 1303.3,1074.7 1303.8,1075.0 1304.2,1075.2 1304.7,1075.5 1305.1,1075.8 1305.5,1076.0 1306.0,1076.3 1306.4,1076.5 1306.9,1076.8 1307.3,1077.0 1307.8,1077.3 1308.2,1077.5 1308.7,1077.8 1309.1,1078.1 1309.6,1078.3 1310.0,1078.6 1310.4,1078.8 1310.9,1079.1 1311.3,1079.3 1311.8,1079.6 1312.2,1079.8 1312.7,1080.1 1313.1,1080.4 1313.6,1080.6 1314.0,1080.9 1314.4,1081.1 1314.9,1081.4 1315.3,1081.6 1315.8,1081.9 1316.2,1082.1 1316.7,1082.4 1317.1,1082.7 1317.6,1082.9 1318.0,1083.2 1318.5,1083.4 1318.9,1083.7 1319.3,1083.9 1319.8,1084.2 1320.2,1084.4 1320.7,1084.7 1321.1,1084.9 1321.6,1085.2 1322.0,1085.5 1322.5,1085.7 1322.9,1086.0 1323.4,1086.2 1323.8,1086.5 1324.2,1086.7 1324.7,1087.0 1325.1,1087.2 1325.6,1087.5 1326.0,1087.8 1326.5,1088.0 1326.9,1088.3 1327.4,1088.5 1327.8,1088.8 1328.3,1089.0 1328.7,1089.3 1329.1,1089.5 1329.6,1089.8 1330.0,1090.0 1330.5,1090.3 1330.9,1090.5 1331.4,1090.8 1331.8,1091.1 1332.3,1091.3 1332.7,1091.6 1333.1,1091.8 1333.6,1092.1 1334.0,1092.3 1334.5,1092.6 1334.9,1092.8 1335.4,1093.1 1335.8,1093.3 1336.3,1093.6 1336.7,1093.9 1337.2,1094.1 1337.6,1094.4 1338.0,1094.6 1338.5,1094.9 1338.9,1095.1 1339.4,1095.4 1339.8,1095.6 1340.3,1095.9 1340.7,1096.1 1341.2,1096.4 1341.6,1096.6 1342.1,1096.9 1342.5,1097.2 1342.9,1097.4 1343.4,1097.7 1343.8,1097.9 1344.3,1098.2 1344.7,1098.4 1345.2,1098.7 1345.6,1098.9 1346.1,1099.2 1346.5,1099.4 1347.0,1099.7 1347.4,1099.9 1347.8,1100.2 1348.3,1100.4 1348.7,1100.7 1349.2,1101.0 1349.6,1101.2 1350.1,1101.5 1350.5,1101.7 1351.0,1102.0 1351.4,1102.2 1351.8,1102.5 1352.3,1102.7 1352.7,1103.0 1353.2,1103.2 1353.6,1103.5 1354.1,1103.7 1354.5,1104.0 1355.0,1104.2 1355.4,1104.5 1355.9,1104.8 1356.3,1105.0 1356.7,1105.3 1357.2,1105.5 1357.6,1105.8 1358.1,1106.0 1358.5,1106.3 1359.0,1106.5 1359.4,1106.8 1359.9,1107.0 1360.3,1107.3 1360.8,1107.5 1361.2,1107.8 1361.6,1108.0 1362.1,1108.3 1362.5,1108.5 1363.0,1108.8 1363.4,1109.1 1363.9,1109.3 1364.3,1109.6 1364.8,1109.8 1365.2,1110.1 1365.7,1110.3 1366.1,1110.6 1366.5,1110.8 1367.0,1111.1 1367.4,1111.3 1367.9,1111.6 1368.3,1111.8 1368.8,1112.1 1369.2,1112.3 1369.7,1112.6 1370.1,1112.8 1370.5,1113.1 1371.0,1113.3 1371.4,1113.6 1371.9,1113.8 1372.3,1114.1 1372.8,1114.3 1373.2,1114.6 1373.7,1114.9 1374.1,1115.1 1374.6,1115.4 1375.0,1115.6 1375.4,1115.9 1375.9,1116.1 1376.3,1116.4 1376.8,1116.6 1377.2,1116.9 1377.7,1117.1 1378.1,1117.4 1378.6,1117.6 1379.0,1117.9 1379.5,1118.1 1379.9,1118.4 1380.3,1118.6 1380.8,1118.9 1381.2,1119.1 1381.7,1119.4 1382.1,1119.6 1382.6,1119.9 1383.0,1120.1 1383.5,1120.4 1383.9,1120.6 1384.4,1120.9 1384.8,1121.1 1385.2,1121.4 1385.7,1121.7 1386.1,1121.9 1386.6,1122.2 1387.0,1122.4 1387.5,1122.7 1387.9,1122.9 1388.4,1123.2 1388.8,1123.4 1389.2,1123.7 1389.7,1123.9 1390.1,1124.2 1390.6,1124.4 1391.0,1124.7 1391.5,1124.9 1391.9,1125.2 1392.4,1125.4 1392.8,1125.7 1393.3,1125.9 1393.7,1126.2 1394.1,1126.4 1394.6,1126.7 1395.0,1126.9 1395.5,1127.2 1395.9,1127.4 1396.4,1127.7 1396.8,1127.9 1397.3,1128.2 1397.7,1128.4 1398.2,1128.7 1398.6,1128.9 1399.0,1129.2 1399.5,1129.4 1399.9,1129.7 1400.4,1129.9 1400.8,1130.2 1401.3,1130.4 1401.7,1130.7 1402.2,1130.9 1402.6,1131.2 1403.1,1131.4 1403.5,1131.7 1403.9,1131.9 1404.4,1132.2 1404.8,1132.4 1405.3,1132.7 1405.7,1132.9 1406.2,1133.2 1406.6,1133.4 1407.1,1133.7 1407.5,1133.9 1407.9,1134.2 1408.4,1134.4 1408.8,1134.7 1409.3,1134.9 1409.7,1135.2 1410.2,1135.4 1410.6,1135.7 1411.1,1135.9 1411.5,1136.2 1412.0,1136.4 1412.4,1136.7 1412.8,1136.9 1413.3,1137.2 1413.7,1137.4 1414.2,1137.7 1414.6,1137.9 1415.1,1138.2 1415.5,1138.4 1416.0,1138.7 1416.4,1138.9 1416.9,1139.2 1417.3,1139.4 1417.7,1139.7 1418.2,1139.9 1418.6,1140.2 1419.1,1140.4 1419.5,1140.7 1420.0,1140.9 1420.4,1141.2 1420.9,1141.4 1421.3,1141.7 1421.8,1141.9 1422.2,1142.2 1422.6,1142.4 1423.1,1142.7 1423.5,1142.9 1424.0,1143.2 1424.4,1143.4 1424.9,1143.7 1425.3,1143.9 1425.8,1144.2 1426.2,1144.4 1426.6,1144.7 1427.1,1144.9 1427.5,1145.2 1428.0,1145.4 1428.4,1145.7 1428.9,1145.9 1429.3,1146.2 1429.8,1146.4 1430.2,1146.7 1430.7,1146.9 1431.1,1147.2 1431.5,1147.4 1432.0,1147.7 1432.4,1147.9 1432.9,1148.2 1433.3,1148.4 1433.8,1148.7 1434.2,1148.9 1434.7,1149.2 1435.1,1149.4 1435.6,1149.7 1436.0,1149.9 1436.4,1150.2 1436.9,1150.4 1437.3,1150.7 1437.8,1150.9 1438.2,1151.2 1438.7,1151.4 1439.1,1151.7 1439.6,1151.9 1440.0,1152.2 1440.5,1152.4 1440.9,1152.7 1441.3,1152.9 1441.8,1153.1 1442.2,1153.4 1442.7,1153.6 1443.1,1153.9 1443.6,1154.1 1444.0,1154.4 1444.5,1154.6 1444.9,1154.9 1445.3,1155.1 1445.8,1155.4 1446.2,1155.6 1446.7,1155.9 1447.1,1156.1 1447.6,1156.4 1448.0,1156.6 1448.5,1156.9 1448.9,1157.1 1449.4,1157.4 1449.8,1157.6 1450.2,1157.9 1450.7,1158.1 1451.1,1158.4 1451.6,1158.6 1452.0,1158.9 1452.5,1159.1 1452.9,1159.4 1453.4,1159.6 1453.8,1159.9 1454.3,1160.1 1454.7,1160.3 1455.1,1160.6 1455.6,1160.8 1456.0,1161.1 1456.5,1161.3 1456.9,1161.6 1457.4,1161.8 1457.8,1162.1 1458.3,1162.3 1458.7,1162.6 1459.2,1162.8 1459.6,1163.1 1460.0,1163.3 1460.5,1163.6 1460.9,1163.8 1461.4,1164.1 1461.8,1164.3 1462.3,1164.6 1462.7,1164.8 1463.2,1165.1 1463.6,1165.3 1464.0,1165.6 1464.5,1165.8 1464.9,1166.0 1465.4,1166.3 1465.8,1166.5 1466.3,1166.8 1466.7,1167.0 1467.2,1167.3 1467.6,1167.5 1468.1,1167.8 1468.5,1168.0 1468.9,1168.3 1469.4,1168.5 1469.8,1168.8 1470.3,1169.0 1470.7,1169.3 1471.2,1169.5 1471.6,1169.8 1472.1,1170.0 1472.5,1170.3 1473.0,1170.5 1473.4,1170.7 1473.8,1171.0 1474.3,1171.2 1474.7,1171.5 1475.2,1171.7 1475.6,1172.0 1476.1,1172.2 1476.5,1172.5 1477.0,1172.7 1477.4,1173.0 1477.9,1173.2 1478.3,1173.5 1478.7,1173.7 1479.2,1174.0 1479.6,1174.2 1480.1,1174.5 1480.5,1174.7 1481.0,1174.9 1481.4,1175.2 1481.9,1175.4 1482.3,1175.7 1482.7,1175.9 1483.2,1176.2 1483.6,1176.4 1484.1,1176.7 1484.5,1176.9 1485.0,1177.2 1485.4,1177.4 1485.9,1177.7 1486.3,1177.9 1486.8,1178.1 1487.2,1178.4 1487.6,1178.6 1488.1,1178.9 1488.5,1179.1 1489.0,1179.4 1489.4,1179.6 1489.9,1179.9 1490.3,1180.1 1490.8,1180.4 1491.2,1180.6 1491.7,1180.9 1492.1,1181.1 1492.5,1181.4 1493.0,1181.6 1493.4,1181.8 1493.9,1182.1 1494.3,1182.3 1494.8,1182.6 1495.2,1182.8 1495.7,1183.1 1496.1,1183.3 1496.6,1183.6 1497.0,1183.8 1497.4,1184.1 1497.9,1184.3 1498.3,1184.6 1498.8,1184.8 1499.2,1185.0 1499.7,1185.3 1500.1,1185.5 1500.6,1185.8 1501.0,1186.0 1501.4,1186.3 1501.9,1186.5 1502.3,1186.8 1502.8,1187.0 1503.2,1187.3 1503.7,1187.5" fill="none" stroke="#000" stroke-width="10" stroke-linejoin="round"/>
<path d="M312.0,163.0 312.0,169.5 312.0,170.0 312.0,170.5 312.0,171.0 312.0,171.5 312.0,172.0 312.0,172.5 312.0,173.0 312.0,173.5 312.0,174.0 312.0,174.5 312.0,175.0 312.1,175.5 312.1,176.0 312.1,176.5 312.1,177.0 312.1,177.5 312.1,178.0 312.1,178.5 312.1,179.0 312.1,179.5 312.1,180.0 312.1,180.5 312.1,181.0 312.1,181.5 312.1,182.1 312.1,182.6 312.1,183.1 312.1,183.6 312.1,184.1 312.1,184.6 312.2,185.1 312.2,185.6 312.2,186.1 312.2,186.6 312.2,187.1 312.2,187.6 312.2,188.1 312.2,188.6 312.2,189.1 312.2,189.6 312.3,196.1 321.3,195.9 321.2,189.4 321.2,188.9 321.2,188.4 321.2,187.9 321.2,187.4 321.2,186.9 321.2,186.4 321.2,185.9 321.2,185.4 321.1,184.9 321.1,184.4 321.1,183.9 321.1,183.4 321.1,182.9 321.1,182.4 321.1,181.9 321.1,181.4 321.1,181.0 321.1,180.5 321.1,180.0 321.1,179.5 321.1,179.0 321.1,178.5 321.1,178.0 321.1,177.5 321.1,177.0 321.1,176.5 321.1,176.0 321.1,175.5 321.0,175.0 321.0,174.5 321.0,174.0 321.0,173.5 321.0,173.0 321.0,172.5 321.0,172.0 321.0,171.5 321.0,171.0 321.0,170.5 321.0,170.0 321.0,169.5 321.0,163.0ZM313.2,235.3 313.4,242.2 313.5,242.7 313.5,243.2 313.5,243.7 313.5,244.2 313.5,244.7 313.6,245.2 313.6,245.7 313.6,246.2 313.6,246.7 313.6,247.2 313.7,247.7 313.7,248.2 313.7,248.7 313.7,249.2 313.8,249.7 313.8,250.2 313.8,250.7 313.8,251.2 313.8,251.7 313.9,252.2 313.9,252.7 313.9,253.2 313.9,253.7 313.9,254.2 314.0,254.7 314.0,255.2 314.0,255.7 314.0,256.2 314.1,256.7 314.1,257.2 314.1,257.7 314.1,258.2 314.2,258.7 314.2,259.2 314.2,259.7 314.2,260.2 314.3,260.7 314.3,261.2 314.3,261.7 314.7,268.4 323.6,267.7 323.3,261.2 323.3,260.7 323.2,260.2 323.2,259.7 323.2,259.2 323.2,258.7 323.1,258.3 323.1,257.8 323.1,257.3 323.1,256.8 323.1,256.3 323.0,255.8 323.0,255.3 323.0,254.8 323.0,254.3 322.9,253.8 322.9,253.3 322.9,252.8 322.9,252.3 322.9,251.8 322.8,251.3 322.8,250.8 322.8,250.3 322.8,249.8 322.7,249.3 322.7,248.8 322.7,248.3 322.7,247.8 322.7,247.3 322.6,246.8 322.6,246.3 322.6,245.8 322.6,245.3 322.6,244.8 322.5,244.3 322.5,243.8 322.5,243.3 322.5,242.8 322.5,242.3 322.4,241.8 322.2,234.9ZM316.9,307.5 317.4,314.2 317.5,314.7 317.5,315.2 317.5,315.7 317.6,316.2 317.6,316.7 317.7,317.2 317.7,317.7 317.8,318.3 317.8,318.8 317.8,319.3 317.9,319.8 317.9,320.3 318.0,320.8 318.0,321.3 318.1,321.8 318.1,322.3 318.2,322.8 318.2,323.3 318.3,323.8 318.3,324.3 318.4,324.8 318.4,325.3 318.5,325.8 318.6,326.3 318.6,326.8 318.7,327.3 318.7,327.8 318.8,328.3 318.8,328.8 318.9,329.3 319.0,329.9 319.0,330.4 319.1,330.9 319.2,331.4 319.2,331.9 319.3,332.4 319.4,332.9 319.4,333.4 319.5,333.9 320.7,340.9 329.4,338.6 328.4,332.6 328.4,332.1 328.3,331.6 328.2,331.2 328.2,330.7 328.1,330.2 328.0,329.7 328.0,329.2 327.9,328.7 327.8,328.2 327.8,327.8 327.7,327.3 327.7,326.8 327.6,326.3 327.6,325.8 327.5,325.3 327.4,324.8 327.4,324.3 327.3,323.9 327.3,323.4 327.2,322.9 327.2,322.4 327.1,321.9 327.1,321.4 327.0,320.9 327.0,320.4 326.9,319.9 326.9,319.4 326.9,318.9 326.8,318.4 326.8,318.0 326.7,317.5 326.7,317.0 326.6,316.5 326.6,316.0 326.6,315.5 326.5,315.0 326.5,314.5 326.4,314.0 326.4,313.5 325.9,306.7ZM330.4,378.8 332.2,385.0 332.3,385.5 332.5,386.0 332.6,386.5 332.8,387.0 332.9,387.5 333.1,388.0 333.3,388.5 333.4,389.0 333.6,389.4 333.8,389.9 334.0,390.4 334.1,390.9 334.3,391.4 334.5,391.9 334.6,392.3 334.8,392.8 335.0,393.3 335.2,393.8 335.4,394.2 335.5,394.7 335.7,395.2 335.9,395.7 336.1,396.1 336.3,396.6 336.4,397.1 336.6,397.6 336.8,398.0 337.0,398.5 337.2,399.0 337.4,399.4 337.5,399.9 337.7,400.4 337.9,400.8 338.1,401.3 338.3,401.8 338.5,402.2 338.6,402.7 338.8,403.2 341.4,409.8 349.3,405.2 347.2,399.9 347.0,399.4 346.8,398.9 346.6,398.5 346.5,398.0 346.3,397.5 346.1,397.1 345.9,396.6 345.7,396.2 345.6,395.7 345.4,395.2 345.2,394.8 345.0,394.3 344.8,393.8 344.7,393.4 344.5,392.9 344.3,392.5 344.1,392.0 344.0,391.5 343.8,391.1 343.6,390.6 343.4,390.2 343.3,389.7 343.1,389.2 342.9,388.8 342.8,388.3 342.6,387.9 342.4,387.4 342.3,386.9 342.1,386.5 342.0,386.0 341.8,385.6 341.6,385.1 341.5,384.6 341.3,384.2 341.2,383.7 341.0,383.3 340.9,382.8 340.7,382.4 338.8,375.5ZM362.2,441.8 367.8,440.4 368.3,440.3 368.8,440.2 369.3,440.1 369.8,439.9 370.3,439.8 370.7,439.7 371.2,439.6 371.7,439.4 372.2,439.3 372.7,439.2 373.2,439.1 373.7,439.0 374.1,438.8 374.6,438.7 375.1,438.6 375.6,438.5 376.1,438.3 376.6,438.2 377.0,438.1 377.5,438.0 378.0,437.9 378.5,437.7 379.0,437.6 379.5,437.5 384.9,436.1 383.3,427.2 377.3,428.8 376.8,428.9 376.3,429.0 375.8,429.1 375.3,429.2 374.8,429.4 374.4,429.5 373.9,429.6 373.4,429.7 372.9,429.9 372.4,430.0 371.9,430.1 371.5,430.2 371.0,430.3 370.5,430.5 370.0,430.6 369.5,430.7 369.0,430.8 368.5,431.0 368.1,431.1 367.6,431.2 367.1,431.3 366.6,431.4 366.1,431.6 365.6,431.7 360.6,433.0ZM408.1,457.2 411.8,460.8 412.1,461.1 412.5,461.5 412.8,461.8 413.2,462.2 413.6,462.5 413.9,462.9 414.3,463.2 414.6,463.6 415.0,463.9 415.4,464.3 415.7,464.6 416.1,465.0 416.5,465.3 416.8,465.7 417.2,466.0 417.5,466.4 417.9,466.7 418.3,467.1 418.6,467.4 419.0,467.8 419.4,468.1 419.7,468.5 420.1,468.8 420.4,469.2 420.8,469.5 421.2,469.8 421.5,470.2 421.9,470.5 422.3,470.9 422.6,471.2 423.0,471.6 423.3,471.9 423.7,472.3 424.1,472.6 424.4,472.9 429.5,477.8 434.5,470.1 430.6,466.4 430.3,466.1 429.9,465.7 429.5,465.4 429.2,465.0 428.8,464.7 428.5,464.4 428.1,464.0 427.7,463.7 427.4,463.3 427.0,463.0 426.7,462.6 426.3,462.3 425.9,461.9 425.6,461.6 425.2,461.3 424.8,460.9 424.5,460.6 424.1,460.2 423.8,459.9 423.4,459.5 423.1,459.2 422.7,458.8 422.3,458.5 422.0,458.2 421.6,457.8 421.3,457.5 420.9,457.1 420.5,456.8 420.2,456.4 419.8,456.1 419.5,455.7 419.1,455.4 418.8,455.0 418.4,454.7 418.1,454.4 413.0,449.5ZM455.3,501.6 459.1,505.3 459.5,505.6 459.9,506.0 460.2,506.3 460.6,506.7 460.9,507.0 461.3,507.4 461.6,507.7 462.0,508.1 462.4,508.4 462.7,508.8 463.1,509.1 463.4,509.5 463.8,509.8 464.1,510.2 464.5,510.5 464.9,510.9 465.2,511.2 465.6,511.6 465.9,511.9 466.3,512.3 466.7,512.6 467.0,513.0 467.4,513.3 467.7,513.7 468.1,514.0 468.5,514.4 468.8,514.7 469.2,515.1 469.5,515.4 469.9,515.8 470.3,516.1 470.6,516.5 471.0,516.8 471.4,517.2 471.7,517.5 476.8,522.3 481.8,514.6 477.9,511.0 477.6,510.7 477.2,510.3 476.9,510.0 476.5,509.6 476.2,509.3 475.8,508.9 475.4,508.6 475.1,508.2 474.7,507.9 474.4,507.6 474.0,507.2 473.6,506.9 473.3,506.5 472.9,506.2 472.6,505.8 472.2,505.5 471.9,505.1 471.5,504.8 471.1,504.4 470.8,504.1 470.4,503.7 470.1,503.4 469.7,503.0 469.4,502.7 469.0,502.3 468.6,502.0 468.3,501.6 467.9,501.3 467.6,500.9 467.2,500.6 466.9,500.2 466.5,499.9 466.1,499.5 465.8,499.2 465.4,498.8 460.4,494.0ZM503.2,545.5 506.9,548.9 507.3,549.2 507.7,549.5 508.0,549.9 508.4,550.2 508.8,550.5 509.1,550.9 509.5,551.2 509.9,551.5 510.3,551.9 510.6,552.2 511.0,552.5 511.4,552.9 511.8,553.2 512.1,553.5 512.5,553.9 512.9,554.2 513.2,554.6 513.6,554.9 514.0,555.2 514.4,555.6 514.7,555.9 515.1,556.2 515.5,556.6 515.9,556.9 516.2,557.2 516.6,557.6 517.0,557.9 517.4,558.2 517.7,558.6 518.1,558.9 518.5,559.2 518.9,559.6 519.2,559.9 519.6,560.2 520.0,560.6 525.3,565.2 530.0,557.4 526.0,553.8 525.6,553.5 525.2,553.2 524.8,552.8 524.5,552.5 524.1,552.2 523.7,551.8 523.3,551.5 523.0,551.2 522.6,550.8 522.2,550.5 521.9,550.2 521.5,549.8 521.1,549.5 520.7,549.2 520.4,548.8 520.0,548.5 519.6,548.2 519.2,547.8 518.9,547.5 518.5,547.2 518.1,546.8 517.8,546.5 517.4,546.2 517.0,545.8 516.6,545.5 516.3,545.2 515.9,544.8 515.5,544.5 515.2,544.2 514.8,543.8 514.4,543.5 514.0,543.2 513.7,542.8 513.3,542.5 512.9,542.2 508.0,537.7ZM551.8,588.0 555.7,591.3 556.1,591.6 556.5,591.9 556.9,592.3 557.2,592.6 557.6,592.9 558.0,593.2 558.4,593.5 558.8,593.9 559.2,594.2 559.6,594.5 559.9,594.8 560.3,595.2 560.7,595.5 561.1,595.8 561.5,596.1 561.9,596.4 562.3,596.8 562.6,597.1 563.0,597.4 563.4,597.7 563.8,598.0 564.2,598.3 564.6,598.7 565.0,599.0 565.3,599.3 565.7,599.6 566.1,599.9 566.5,600.3 566.9,600.6 567.3,600.9 567.7,601.2 568.1,601.5 568.5,601.8 568.8,602.2 569.2,602.5 574.5,606.8 579.0,598.8 574.9,595.5 574.5,595.2 574.1,594.9 573.8,594.6 573.4,594.3 573.0,593.9 572.6,593.6 572.2,593.3 571.8,593.0 571.5,592.7 571.1,592.4 570.7,592.0 570.3,591.7 569.9,591.4 569.5,591.1 569.1,590.8 568.8,590.5 568.4,590.1 568.0,589.8 567.6,589.5 567.2,589.2 566.8,588.9 566.5,588.5 566.1,588.2 565.7,587.9 565.3,587.6 564.9,587.3 564.5,587.0 564.2,586.6 563.8,586.3 563.4,586.0 563.0,585.7 562.6,585.4 562.2,585.0 561.9,584.7 561.5,584.4 556.4,580.2ZM601.8,628.4 606.1,631.8 606.5,632.1 606.9,632.4 607.3,632.7 607.7,633.0 608.1,633.3 608.5,633.6 608.9,633.9 609.3,634.2 609.7,634.5 610.1,634.8 610.5,635.1 610.9,635.4 611.3,635.7 611.7,636.0 612.1,636.3 612.5,636.7 612.9,637.0 613.3,637.3 613.7,637.6 614.1,637.9 614.5,638.2 614.9,638.5 615.3,638.8 615.7,639.1 616.1,639.4 616.5,639.7 616.9,640.0 617.3,640.3 617.7,640.6 618.1,640.9 618.4,641.2 618.8,641.5 619.2,641.8 619.6,642.1 625.0,646.2 629.3,638.2 625.1,635.0 624.7,634.7 624.3,634.4 623.9,634.1 623.5,633.8 623.1,633.5 622.7,633.2 622.3,632.9 621.9,632.6 621.5,632.3 621.1,632.0 620.8,631.6 620.4,631.3 620.0,631.0 619.6,630.7 619.2,630.4 618.8,630.1 618.4,629.8 618.0,629.5 617.6,629.2 617.2,628.9 616.8,628.6 616.4,628.3 616.0,628.0 615.6,627.7 615.2,627.4 614.8,627.1 614.4,626.8 614.0,626.5 613.6,626.2 613.2,625.9 612.8,625.6 612.4,625.3 612.1,624.9 611.7,624.6 606.1,620.4ZM628.5,648.9 632.7,652.1 633.1,652.4 633.5,652.7 633.9,653.0 634.3,653.3 634.7,653.6 635.1,653.9 635.5,654.2 635.9,654.5 636.3,654.8 636.7,655.1 637.1,655.4 637.5,655.7 637.9,656.0 638.3,656.3 638.7,656.6 639.1,656.9 639.5,657.2 639.9,657.5 640.3,657.8 640.7,658.1 641.1,658.4 641.5,658.7 641.9,659.0 642.3,659.3 642.7,659.6 643.1,659.9 643.5,660.2 643.9,660.5 644.3,660.8 644.7,661.1 645.1,661.4 645.5,661.7 645.9,662.0 646.3,662.3 651.8,666.4 656.0,658.3 651.7,655.1 651.3,654.8 650.9,654.5 650.5,654.2 650.1,653.9 649.7,653.6 649.3,653.3 648.9,653.0 648.5,652.7 648.1,652.4 647.7,652.1 647.3,651.8 646.9,651.5 646.5,651.2 646.1,650.9 645.7,650.6 645.3,650.3 644.9,650.0 644.5,649.7 644.1,649.4 643.7,649.1 643.3,648.8 642.9,648.5 642.5,648.2 642.1,647.9 641.7,647.6 641.3,647.3 640.9,647.0 640.5,646.7 640.1,646.4 639.7,646.1 639.3,645.8 638.9,645.5 638.5,645.2 638.1,644.9 632.7,640.8ZM679.6,686.9 683.7,689.9 684.1,690.2 684.6,690.5 685.0,690.8 685.4,691.1 685.8,691.4 686.2,691.7 686.6,692.0 687.0,692.3 687.4,692.6 687.8,692.9 688.2,693.2 688.6,693.5 689.0,693.7 689.4,694.0 689.8,694.3 690.2,694.6 690.6,694.9 691.0,695.2 691.5,695.5 691.9,695.8 692.3,696.1 692.7,696.4 693.1,696.7 693.5,697.0 693.9,697.3 694.3,697.6 694.7,697.8 695.1,698.1 695.5,698.4 695.9,698.7 696.3,699.0 696.7,699.3 697.1,699.6 697.6,699.9 698.0,700.2 703.2,703.9 707.3,695.8 703.2,692.9 702.8,692.6 702.4,692.3 702.0,692.0 701.6,691.7 701.2,691.4 700.8,691.1 700.4,690.8 700.0,690.5 699.5,690.2 699.1,690.0 698.7,689.7 698.3,689.4 697.9,689.1 697.5,688.8 697.1,688.5 696.7,688.2 696.3,687.9 695.9,687.6 695.5,687.3 695.1,687.0 694.7,686.7 694.3,686.5 693.9,686.2 693.5,685.9 693.1,685.6 692.7,685.3 692.3,685.0 691.9,684.7 691.5,684.4 691.0,684.1 690.6,683.8 690.2,683.5 689.8,683.2 689.4,682.9 689.0,682.6 683.7,678.8ZM731.4,723.8 735.6,726.7 736.0,727.0 736.4,727.3 736.8,727.6 737.3,727.9 737.7,728.1 738.1,728.4 738.5,728.7 738.9,729.0 739.3,729.3 739.7,729.6 740.1,729.9 740.5,730.1 741.0,730.4 741.4,730.7 741.8,731.0 742.2,731.3 742.6,731.6 743.0,731.9 743.4,732.1 743.8,732.4 744.3,732.7 744.7,733.0 745.1,733.3 745.5,733.6 745.9,733.8 746.3,734.1 746.7,734.4 747.1,734.7 747.5,735.0 748.0,735.3 748.4,735.5 748.8,735.8 749.2,736.1 749.6,736.4 755.2,740.3 759.1,732.0 754.7,729.0 754.3,728.7 753.9,728.4 753.5,728.1 753.1,727.9 752.7,727.6 752.2,727.3 751.8,727.0 751.4,726.7 751.0,726.4 750.6,726.2 750.2,725.9 749.8,725.6 749.4,725.3 749.0,725.0 748.5,724.7 748.1,724.4 747.7,724.2 747.3,723.9 746.9,723.6 746.5,723.3 746.1,723.0 745.7,722.7 745.3,722.5 744.8,722.2 744.4,721.9 744.0,721.6 743.6,721.3 743.2,721.0 742.8,720.8 742.4,720.5 742.0,720.2 741.6,719.9 741.2,719.6 740.7,719.3 735.3,715.6ZM783.6,759.5 788.1,762.6 788.5,762.8 788.9,763.1 789.4,763.4 789.8,763.7 790.2,764.0 790.6,764.2 791.0,764.5 791.4,764.8 791.9,765.1 792.3,765.3 792.7,765.6 793.1,765.9 793.5,766.2 793.9,766.5 794.4,766.7 794.8,767.0 795.2,767.3 795.6,767.6 796.0,767.9 796.4,768.1 796.8,768.4 797.3,768.7 797.7,769.0 798.1,769.2 798.5,769.5 798.9,769.8 799.3,770.1 799.7,770.4 800.1,770.6 800.6,770.9 801.0,771.2 801.4,771.5 801.8,771.8 802.2,772.0 807.6,775.7 811.5,767.4 807.3,764.6 806.8,764.3 806.4,764.0 806.0,763.7 805.6,763.5 805.2,763.2 804.8,762.9 804.4,762.6 803.9,762.3 803.5,762.1 803.1,761.8 802.7,761.5 802.3,761.2 801.8,760.9 801.4,760.6 801.0,760.4 800.6,760.1 800.2,759.8 799.8,759.5 799.4,759.3 798.9,759.0 798.5,758.7 798.1,758.4 797.7,758.1 797.3,757.9 796.9,757.6 796.4,757.3 796.0,757.0 795.6,756.8 795.2,756.5 794.8,756.2 794.4,755.9 794.0,755.6 793.5,755.4 793.1,755.1 787.5,751.3ZM836.1,794.7 840.5,797.6 840.9,797.9 841.4,798.1 841.8,798.4 842.2,798.7 842.6,799.0 843.0,799.2 843.5,799.5 843.9,799.8 844.3,800.1 844.7,800.3 845.1,800.6 845.5,800.9 846.0,801.2 846.4,801.4 846.8,801.7 847.2,802.0 847.6,802.3 848.1,802.5 848.5,802.8 848.9,803.1 849.3,803.4 849.7,803.6 850.1,803.9 850.6,804.2 851.0,804.5 851.4,804.7 851.8,805.0 852.2,805.3 852.7,805.6 853.1,805.8 853.5,806.1 853.9,806.4 854.3,806.7 854.8,806.9 860.3,810.5 864.0,802.2 859.7,799.4 859.3,799.1 858.8,798.8 858.4,798.6 858.0,798.3 857.6,798.0 857.2,797.8 856.7,797.5 856.3,797.2 855.9,796.9 855.5,796.7 855.1,796.4 854.7,796.1 854.2,795.8 853.8,795.6 853.4,795.3 853.0,795.0 852.6,794.7 852.2,794.5 851.7,794.2 851.3,793.9 850.9,793.6 850.5,793.4 850.1,793.1 849.6,792.8 849.2,792.5 848.8,792.3 848.4,792.0 848.0,791.7 847.6,791.5 847.1,791.2 846.7,790.9 846.3,790.6 845.9,790.4 845.5,790.1 839.9,786.4ZM889.0,829.1 893.4,831.9 893.8,832.2 894.3,832.5 894.7,832.7 895.1,833.0 895.5,833.3 895.9,833.5 896.4,833.8 896.8,834.1 897.2,834.3 897.6,834.6 898.1,834.9 898.5,835.2 898.9,835.4 899.3,835.7 899.7,836.0 900.2,836.2 900.6,836.5 901.0,836.8 901.4,837.0 901.8,837.3 902.3,837.6 902.7,837.9 903.1,838.1 903.5,838.4 904.0,838.7 904.4,838.9 904.8,839.2 905.2,839.5 905.6,839.7 906.1,840.0 906.5,840.3 906.9,840.5 907.3,840.8 907.8,841.1 913.3,844.6 917.0,836.3 912.6,833.5 912.2,833.2 911.7,833.0 911.3,832.7 910.9,832.4 910.5,832.1 910.1,831.9 909.6,831.6 909.2,831.3 908.8,831.1 908.4,830.8 908.0,830.5 907.5,830.3 907.1,830.0 906.7,829.7 906.3,829.5 905.8,829.2 905.4,828.9 905.0,828.7 904.6,828.4 904.2,828.1 903.7,827.8 903.3,827.6 902.9,827.3 902.5,827.0 902.1,826.8 901.6,826.5 901.2,826.2 900.8,826.0 900.4,825.7 900.0,825.4 899.5,825.2 899.1,824.9 898.7,824.6 898.3,824.3 892.7,820.8ZM941.6,862.5 946.1,865.4 946.6,865.6 947.0,865.9 947.4,866.2 947.8,866.4 948.3,866.7 948.7,867.0 949.1,867.2 949.5,867.5 949.9,867.8 950.4,868.0 950.8,868.3 951.2,868.6 951.6,868.8 952.1,869.1 952.5,869.4 952.9,869.6 953.3,869.9 953.8,870.2 954.2,870.4 954.6,870.7 955.0,871.0 955.5,871.2 955.9,871.5 956.3,871.8 956.7,872.0 957.1,872.3 957.6,872.6 958.0,872.8 958.4,873.1 958.8,873.3 959.3,873.6 959.7,873.9 960.1,874.1 960.5,874.4 966.0,877.8 969.6,869.5 965.3,866.8 964.9,866.5 964.5,866.3 964.0,866.0 963.6,865.7 963.2,865.5 962.8,865.2 962.4,864.9 961.9,864.7 961.5,864.4 961.1,864.1 960.7,863.9 960.2,863.6 959.8,863.3 959.4,863.1 959.0,862.8 958.5,862.5 958.1,862.3 957.7,862.0 957.3,861.7 956.9,861.5 956.4,861.2 956.0,860.9 955.6,860.7 955.2,860.4 954.7,860.1 954.3,859.9 953.9,859.6 953.5,859.3 953.0,859.1 952.6,858.8 952.2,858.5 951.8,858.3 951.4,858.0 950.9,857.7 945.3,854.2ZM994.9,895.9 999.6,898.8 1000.0,899.1 1000.4,899.3 1000.8,899.6 1001.3,899.9 1001.7,900.1 1002.1,900.4 1002.5,900.7 1003.0,900.9 1003.4,901.2 1003.8,901.4 1004.2,901.7 1004.7,902.0 1005.1,902.2 1005.5,902.5 1005.9,902.8 1006.4,903.0 1006.8,903.3 1007.2,903.6 1007.6,903.8 1008.1,904.1 1008.5,904.4 1008.9,904.6 1009.3,904.9 1009.8,905.1 1010.2,905.4 1010.6,905.7 1011.0,905.9 1011.5,906.2 1011.9,906.5 1012.3,906.7 1012.7,907.0 1013.2,907.3 1013.6,907.5 1019.4,911.1 1022.9,902.7 1018.3,899.9 1017.9,899.6 1017.5,899.3 1017.0,899.1 1016.6,898.8 1016.2,898.5 1015.8,898.3 1015.3,898.0 1014.9,897.8 1014.5,897.5 1014.1,897.2 1013.6,897.0 1013.2,896.7 1012.8,896.4 1012.4,896.2 1011.9,895.9 1011.5,895.6 1011.1,895.4 1010.7,895.1 1010.3,894.9 1009.8,894.6 1009.4,894.3 1009.0,894.1 1008.6,893.8 1008.1,893.5 1007.7,893.3 1007.3,893.0 1006.9,892.7 1006.4,892.5 1006.0,892.2 1005.6,892.0 1005.2,891.7 1004.7,891.4 1004.3,891.2 998.5,887.6ZM1048.4,928.9 1052.9,931.5 1053.3,931.8 1053.7,932.1 1054.1,932.3 1054.6,932.6 1055.0,932.8 1055.4,933.1 1055.9,933.4 1056.3,933.6 1056.7,933.9 1057.1,934.1 1057.6,934.4 1058.0,934.6 1058.4,934.9 1058.9,935.2 1059.3,935.4 1059.7,935.7 1060.1,935.9 1060.6,936.2 1061.0,936.5 1061.4,936.7 1061.9,937.0 1062.3,937.2 1062.7,937.5 1063.1,937.8 1063.6,938.0 1064.0,938.3 1064.4,938.5 1064.9,938.8 1065.3,939.0 1065.7,939.3 1066.1,939.6 1066.6,939.8 1067.0,940.1 1067.4,940.3 1073.0,943.7 1076.5,935.3 1072.1,932.6 1071.6,932.4 1071.2,932.1 1070.8,931.9 1070.4,931.6 1069.9,931.3 1069.5,931.1 1069.1,930.8 1068.6,930.6 1068.2,930.3 1067.8,930.0 1067.4,929.8 1066.9,929.5 1066.5,929.3 1066.1,929.0 1065.6,928.8 1065.2,928.5 1064.8,928.2 1064.4,928.0 1063.9,927.7 1063.5,927.5 1063.1,927.2 1062.7,926.9 1062.2,926.7 1061.8,926.4 1061.4,926.2 1060.9,925.9 1060.5,925.7 1060.1,925.4 1059.7,925.1 1059.2,924.9 1058.8,924.6 1058.4,924.4 1058.0,924.1 1057.5,923.8 1052.0,920.5ZM1102.2,961.2 1106.5,963.7 1106.9,964.0 1107.4,964.2 1107.8,964.5 1108.2,964.7 1108.6,965.0 1109.1,965.2 1109.5,965.5 1109.9,965.7 1110.4,966.0 1110.8,966.3 1111.2,966.5 1111.7,966.8 1112.1,967.0 1112.5,967.3 1112.9,967.5 1113.4,967.8 1113.8,968.0 1114.2,968.3 1114.7,968.6 1115.1,968.8 1115.5,969.1 1116.0,969.3 1116.4,969.6 1116.8,969.8 1117.2,970.1 1117.7,970.3 1118.1,970.6 1118.5,970.8 1119.0,971.1 1119.4,971.4 1119.8,971.6 1120.3,971.9 1120.7,972.1 1121.1,972.4 1126.9,975.8 1130.3,967.4 1125.7,964.6 1125.3,964.4 1124.8,964.1 1124.4,963.9 1124.0,963.6 1123.6,963.4 1123.1,963.1 1122.7,962.9 1122.3,962.6 1121.8,962.3 1121.4,962.1 1121.0,961.8 1120.5,961.6 1120.1,961.3 1119.7,961.1 1119.3,960.8 1118.8,960.6 1118.4,960.3 1118.0,960.0 1117.5,959.8 1117.1,959.5 1116.7,959.3 1116.2,959.0 1115.8,958.8 1115.4,958.5 1115.0,958.3 1114.5,958.0 1114.1,957.8 1113.7,957.5 1113.2,957.2 1112.8,957.0 1112.4,956.7 1112.0,956.5 1111.5,956.2 1111.1,956.0 1105.7,952.7ZM1156.1,993.1 1160.7,995.8 1161.2,996.0 1161.6,996.3 1162.0,996.5 1162.5,996.8 1162.9,997.0 1163.3,997.3 1163.8,997.5 1164.2,997.8 1164.6,998.1 1165.1,998.3 1165.5,998.6 1165.9,998.8 1166.3,999.1 1166.8,999.3 1167.2,999.6 1167.6,999.8 1168.1,1000.1 1168.5,1000.3 1168.9,1000.6 1169.4,1000.8 1169.8,1001.1 1170.2,1001.4 1170.7,1001.6 1171.1,1001.9 1171.5,1002.1 1171.9,1002.4 1172.4,1002.6 1172.8,1002.9 1173.2,1003.1 1173.7,1003.4 1174.1,1003.6 1174.5,1003.9 1175.0,1004.1 1175.4,1004.4 1180.8,1007.6 1184.3,999.2 1180.0,996.6 1179.5,996.4 1179.1,996.1 1178.7,995.9 1178.2,995.6 1177.8,995.4 1177.4,995.1 1176.9,994.9 1176.5,994.6 1176.1,994.4 1175.6,994.1 1175.2,993.8 1174.8,993.6 1174.4,993.3 1173.9,993.1 1173.5,992.8 1173.1,992.6 1172.6,992.3 1172.2,992.1 1171.8,991.8 1171.3,991.6 1170.9,991.3 1170.5,991.1 1170.0,990.8 1169.6,990.6 1169.2,990.3 1168.8,990.0 1168.3,989.8 1167.9,989.5 1167.5,989.3 1167.0,989.0 1166.6,988.8 1166.2,988.5 1165.7,988.3 1165.3,988.0 1159.6,984.6ZM1210.1,1024.8 1214.6,1027.5 1215.1,1027.7 1215.5,1028.0 1215.9,1028.2 1216.3,1028.5 1216.8,1028.7 1217.2,1029.0 1217.6,1029.2 1218.1,1029.5 1218.5,1029.7 1218.9,1030.0 1219.4,1030.2 1219.8,1030.5 1220.2,1030.8 1220.7,1031.0 1221.1,1031.3 1221.5,1031.5 1222.0,1031.8 1222.4,1032.0 1222.8,1032.3 1223.3,1032.5 1223.7,1032.8 1224.1,1033.0 1224.5,1033.3 1225.0,1033.5 1225.4,1033.8 1225.8,1034.0 1226.3,1034.3 1226.7,1034.5 1227.1,1034.8 1227.6,1035.0 1228.0,1035.3 1228.4,1035.6 1228.9,1035.8 1229.3,1036.1 1234.8,1039.3 1238.2,1030.9 1233.8,1028.3 1233.4,1028.0 1233.0,1027.8 1232.5,1027.5 1232.1,1027.3 1231.7,1027.0 1231.2,1026.8 1230.8,1026.5 1230.4,1026.3 1230.0,1026.0 1229.5,1025.8 1229.1,1025.5 1228.7,1025.3 1228.2,1025.0 1227.8,1024.8 1227.4,1024.5 1226.9,1024.3 1226.5,1024.0 1226.1,1023.7 1225.6,1023.5 1225.2,1023.2 1224.8,1023.0 1224.3,1022.7 1223.9,1022.5 1223.5,1022.2 1223.1,1022.0 1222.6,1021.7 1222.2,1021.5 1221.8,1021.2 1221.3,1021.0 1220.9,1020.7 1220.5,1020.5 1220.0,1020.2 1219.6,1020.0 1219.2,1019.7 1213.5,1016.4ZM1256.1,1051.7 1260.7,1054.4 1261.2,1054.6 1261.6,1054.9 1262.0,1055.1 1262.5,1055.4 1262.9,1055.6 1263.3,1055.9 1263.8,1056.1 1264.2,1056.4 1264.6,1056.6 1265.1,1056.9 1265.5,1057.1 1265.9,1057.4 1266.4,1057.6 1266.8,1057.9 1267.2,1058.1 1267.7,1058.4 1268.1,1058.6 1268.5,1058.9 1269.0,1059.1 1269.4,1059.4 1269.8,1059.6 1270.3,1059.9 1270.7,1060.1 1271.1,1060.4 1271.6,1060.6 1272.0,1060.9 1272.4,1061.1 1272.8,1061.4 1273.3,1061.6 1273.7,1061.9 1274.1,1062.1 1274.6,1062.4 1275.0,1062.6 1275.4,1062.9 1280.9,1066.0 1284.3,1057.6 1280.0,1055.1 1279.5,1054.8 1279.1,1054.6 1278.7,1054.3 1278.2,1054.1 1277.8,1053.8 1277.4,1053.6 1276.9,1053.3 1276.5,1053.1 1276.1,1052.8 1275.6,1052.6 1275.2,1052.3 1274.8,1052.1 1274.3,1051.8 1273.9,1051.6 1273.5,1051.3 1273.0,1051.1 1272.6,1050.8 1272.2,1050.6 1271.7,1050.3 1271.3,1050.1 1270.9,1049.8 1270.4,1049.6 1270.0,1049.3 1269.6,1049.1 1269.1,1048.8 1268.7,1048.6 1268.3,1048.3 1267.8,1048.1 1267.4,1047.8 1267.0,1047.6 1266.5,1047.3 1266.1,1047.1 1265.7,1046.8 1265.2,1046.6 1259.5,1043.2ZM1310.3,1082.9 1314.9,1085.6 1315.3,1085.8 1315.8,1086.1 1316.2,1086.3 1316.6,1086.6 1317.1,1086.8 1317.5,1087.1 1317.9,1087.3 1318.4,1087.6 1318.8,1087.8 1319.2,1088.1 1319.7,1088.3 1320.1,1088.6 1320.5,1088.8 1321.0,1089.1 1321.4,1089.3 1321.8,1089.6 1322.3,1089.8 1322.7,1090.1 1323.1,1090.3 1323.6,1090.6 1324.0,1090.8 1324.4,1091.1 1324.9,1091.3 1325.3,1091.6 1325.7,1091.8 1326.2,1092.1 1326.6,1092.3 1327.1,1092.5 1327.5,1092.8 1327.9,1093.0 1328.4,1093.3 1328.8,1093.5 1329.2,1093.8 1329.7,1094.0 1335.1,1097.1 1338.5,1088.7 1334.1,1086.2 1333.7,1086.0 1333.3,1085.7 1332.8,1085.5 1332.4,1085.2 1332.0,1085.0 1331.5,1084.7 1331.1,1084.5 1330.6,1084.2 1330.2,1084.0 1329.8,1083.7 1329.3,1083.5 1328.9,1083.2 1328.5,1083.0 1328.0,1082.8 1327.6,1082.5 1327.2,1082.3 1326.7,1082.0 1326.3,1081.8 1325.9,1081.5 1325.4,1081.3 1325.0,1081.0 1324.6,1080.8 1324.1,1080.5 1323.7,1080.3 1323.3,1080.0 1322.8,1079.8 1322.4,1079.5 1322.0,1079.3 1321.5,1079.0 1321.1,1078.8 1320.7,1078.5 1320.2,1078.3 1319.8,1078.0 1319.4,1077.8 1313.6,1074.5ZM1364.6,1113.9 1369.2,1116.5 1369.7,1116.8 1370.1,1117.0 1370.5,1117.3 1371.0,1117.5 1371.4,1117.8 1371.8,1118.0 1372.3,1118.3 1372.7,1118.5 1373.1,1118.8 1373.6,1119.0 1374.0,1119.3 1374.4,1119.5 1374.9,1119.7 1375.3,1120.0 1375.7,1120.2 1376.2,1120.5 1376.6,1120.7 1377.1,1121.0 1377.5,1121.2 1377.9,1121.5 1378.4,1121.7 1378.8,1122.0 1379.2,1122.2 1379.7,1122.5 1380.1,1122.7 1380.5,1122.9 1381.0,1123.2 1381.4,1123.4 1381.8,1123.7 1382.3,1123.9 1382.7,1124.2 1383.2,1124.4 1383.6,1124.7 1389.5,1128.0 1392.8,1119.5 1388.0,1116.8 1387.6,1116.6 1387.1,1116.3 1386.7,1116.1 1386.3,1115.9 1385.8,1115.6 1385.4,1115.4 1385.0,1115.1 1384.5,1114.9 1384.1,1114.6 1383.7,1114.4 1383.2,1114.1 1382.8,1113.9 1382.4,1113.6 1381.9,1113.4 1381.5,1113.1 1381.0,1112.9 1380.6,1112.7 1380.2,1112.4 1379.7,1112.2 1379.3,1111.9 1378.9,1111.7 1378.4,1111.4 1378.0,1111.2 1377.6,1110.9 1377.1,1110.7 1376.7,1110.4 1376.3,1110.2 1375.8,1109.9 1375.4,1109.7 1375.0,1109.5 1374.5,1109.2 1374.1,1109.0 1373.7,1108.7 1367.9,1105.5ZM1419.0,1144.6 1423.7,1147.2 1424.1,1147.5 1424.6,1147.7 1425.0,1148.0 1425.4,1148.2 1425.9,1148.5 1426.3,1148.7 1426.7,1148.9 1427.2,1149.2 1427.6,1149.4 1428.1,1149.7 1428.5,1149.9 1428.9,1150.2 1429.4,1150.4 1429.8,1150.7 1430.2,1150.9 1430.7,1151.1 1431.1,1151.4 1431.5,1151.6 1432.0,1151.9 1432.4,1152.1 1432.9,1152.4 1433.3,1152.6 1433.7,1152.9 1434.2,1153.1 1434.6,1153.3 1435.0,1153.6 1435.5,1153.8 1435.9,1154.1 1436.3,1154.3 1436.8,1154.6 1437.2,1154.8 1437.7,1155.0 1438.1,1155.3 1443.9,1158.5 1447.2,1150.1 1442.5,1147.4 1442.0,1147.2 1441.6,1146.9 1441.2,1146.7 1440.7,1146.5 1440.3,1146.2 1439.9,1146.0 1439.4,1145.7 1439.0,1145.5 1438.6,1145.2 1438.1,1145.0 1437.7,1144.8 1437.2,1144.5 1436.8,1144.3 1436.4,1144.0 1435.9,1143.8 1435.5,1143.5 1435.1,1143.3 1434.6,1143.0 1434.2,1142.8 1433.8,1142.6 1433.3,1142.3 1432.9,1142.1 1432.5,1141.8 1432.0,1141.6 1431.6,1141.3 1431.1,1141.1 1430.7,1140.8 1430.3,1140.6 1429.8,1140.4 1429.4,1140.1 1429.0,1139.9 1428.5,1139.6 1428.1,1139.4 1422.3,1136.1ZM1473.5,1175.0 1477.9,1177.4 1478.3,1177.7 1478.7,1177.9 1479.2,1178.2 1479.6,1178.4 1480.1,1178.6 1480.5,1178.9 1480.9,1179.1 1481.4,1179.4 1481.8,1179.6 1482.2,1179.9 1482.7,1180.1 1483.1,1180.3 1483.6,1180.6 1484.0,1180.8 1484.4,1181.1 1484.9,1181.3 1485.3,1181.5 1485.7,1181.8 1486.2,1182.0 1486.6,1182.3 1487.1,1182.5 1487.5,1182.8 1487.9,1183.0 1488.4,1183.2 1488.8,1183.5 1489.2,1183.7 1489.7,1184.0 1490.1,1184.2 1490.6,1184.5 1491.0,1184.7 1491.4,1184.9 1491.9,1185.2 1492.3,1185.4 1492.7,1185.7 1498.5,1188.8 1501.7,1180.3 1497.1,1177.8 1496.7,1177.5 1496.2,1177.3 1495.8,1177.1 1495.3,1176.8 1494.9,1176.6 1494.5,1176.3 1494.0,1176.1 1493.6,1175.9 1493.2,1175.6 1492.7,1175.4 1492.3,1175.1 1491.8,1174.9 1491.4,1174.6 1491.0,1174.4 1490.5,1174.2 1490.1,1173.9 1489.7,1173.7 1489.2,1173.4 1488.8,1173.2 1488.3,1172.9 1487.9,1172.7 1487.5,1172.5 1487.0,1172.2 1486.6,1172.0 1486.2,1171.7 1485.7,1171.5 1485.3,1171.3 1484.9,1171.0 1484.4,1170.8 1484.0,1170.5 1483.5,1170.3 1483.1,1170.0 1482.7,1169.8 1482.2,1169.6 1476.8,1166.5Z" fill="#f00"/>
<path d="M312.0,163.0 312.0,169.5 312.0,170.0 312.0,170.5 312.0,171.0 312.0,171.5 312.0,172.0 312.0,172.5 312.0,173.0 312.0,173.5 312.0,174.0 312.0,174.5 312.0,175.0 312.1,175.5 312.1,176.0 312.1,176.5 312.1,177.0 312.1,177.5 312.1,178.0 312.1,178.5 312.1,179.0 312.1,179.5 312.1,180.0 312.1,180.5 312.1,181.0 312.1,181.5 312.1,182.1 312.1,182.6 312.1,183.1 312.1,183.6 312.1,184.1 312.1,184.6 312.2,185.1 312.2,185.6 312.2,186.1 312.2,186.6 312.2,187.1 312.2,187.6 312.2,188.1 312.2,188.6 312.2,189.1 312.2,189.6 312.2,190.1 312.2,190.6 312.2,191.1 312.2,191.6 312.2,192.1 312.3,192.6 312.3,193.1 312.3,193.6 312.3,194.1 312.3,194.6 312.4,201.5 321.4,201.2 321.3,194.4 321.3,193.9 321.3,193.4 321.3,192.9 321.3,192.4 321.2,191.9 321.2,191.4 321.2,190.9 321.2,190.4 321.2,189.9 321.2,189.4 321.2,188.9 321.2,188.4 321.2,187.9 321.2,187.4 321.2,186.9 321.2,186.4 321.2,185.9 321.2,185.4 321.1,184.9 321.1,184.4 321.1,183.9 321.1,183.4 321.1,182.9 321.1,182.4 321.1,181.9 321.1,181.4 321.1,181.0 321.1,180.5 321.1,180.0 321.1,179.5 321.1,179.0 321.1,178.5 321.1,178.0 321.1,177.5 321.1,177.0 321.1,176.5 321.1,176.0 321.1,175.5 321.0,175.0 321.0,174.5 321.0,174.0 321.0,173.5 321.0,173.0 321.0,172.5 321.0,172.0 321.0,171.5 321.0,171.0 321.0,170.5 321.0,170.0 321.0,169.5 321.0,163.0ZM312.9,223.6 313.1,231.0 322.0,230.6 321.9,223.3ZM313.9,254.2 314.3,260.7 314.3,261.2 314.3,261.7 314.3,262.2 314.4,262.7 314.4,263.2 314.4,263.7 314.4,264.2 314.5,264.7 314.5,265.2 314.5,265.7 314.5,266.2 314.6,266.7 314.6,267.2 314.6,267.7 314.7,268.2 314.7,268.7 314.7,269.2 314.7,269.7 314.8,270.2 314.8,270.7 314.8,271.2 314.8,271.7 314.9,272.2 314.9,272.7 314.9,273.2 315.0,273.7 315.0,274.2 315.0,274.7 315.0,275.2 315.1,275.7 315.1,276.2 315.1,276.7 315.2,277.2 315.2,277.7 315.2,278.2 315.3,278.7 315.3,279.2 315.3,279.7 315.3,280.2 315.4,280.7 315.4,281.2 315.4,281.7 315.5,282.2 315.5,282.7 315.5,283.2 315.5,283.7 315.6,284.2 315.6,284.7 315.6,285.2 315.7,285.7 316.1,292.6 325.0,291.8 324.7,285.2 324.6,284.7 324.6,284.2 324.6,283.7 324.5,283.2 324.5,282.7 324.5,282.2 324.4,281.7 324.4,281.2 324.4,280.7 324.4,280.2 324.3,279.7 324.3,279.2 324.3,278.7 324.2,278.2 324.2,277.7 324.2,277.2 324.1,276.7 324.1,276.2 324.1,275.7 324.1,275.2 324.0,274.7 324.0,274.2 324.0,273.7 323.9,273.2 323.9,272.7 323.9,272.2 323.9,271.7 323.8,271.2 323.8,270.7 323.8,270.2 323.7,269.7 323.7,269.2 323.7,268.7 323.7,268.2 323.6,267.7 323.6,267.2 323.6,266.7 323.6,266.2 323.5,265.7 323.5,265.2 323.5,264.7 323.4,264.2 323.4,263.7 323.4,263.2 323.4,262.7 323.3,262.2 323.3,261.7 323.3,261.2 323.3,260.7 323.2,260.2 322.9,253.6ZM317.5,314.7 318.1,322.2 327.0,320.9 326.4,313.7ZM322.1,346.2 323.8,351.9 323.9,352.3 324.1,352.8 324.2,353.3 324.3,353.8 324.4,354.2 324.5,354.7 324.7,355.2 324.8,355.7 324.9,356.2 325.0,356.6 325.1,357.1 325.3,357.6 325.4,358.1 325.5,358.6 325.6,359.0 325.7,359.5 325.8,360.0 325.9,360.5 326.1,361.0 326.2,361.5 326.3,361.9 326.4,362.4 326.5,362.9 326.6,363.4 326.7,363.9 326.8,364.4 327.0,364.9 327.1,365.3 327.2,365.8 327.3,366.3 327.4,366.8 327.5,367.3 327.6,367.8 327.8,368.3 327.9,368.8 328.0,369.3 328.1,369.7 328.2,370.2 328.3,370.7 328.4,371.2 328.6,371.7 328.7,372.2 328.8,372.7 328.9,373.2 329.0,373.7 329.2,374.2 329.3,374.7 329.4,375.2 329.5,375.6 331.4,382.6 339.8,379.1 338.3,373.4 338.1,373.0 338.0,372.5 337.9,372.0 337.8,371.5 337.7,371.0 337.5,370.6 337.4,370.1 337.3,369.6 337.2,369.1 337.1,368.6 337.0,368.2 336.9,367.7 336.7,367.2 336.6,366.7 336.5,366.2 336.4,365.7 336.3,365.3 336.2,364.8 336.1,364.3 336.0,363.8 335.8,363.3 335.7,362.8 335.6,362.3 335.5,361.9 335.4,361.4 335.3,360.9 335.2,360.4 335.0,359.9 334.9,359.4 334.8,358.9 334.7,358.4 334.6,357.9 334.5,357.4 334.4,357.0 334.2,356.5 334.1,356.0 334.0,355.5 333.9,355.0 333.8,354.5 333.6,354.0 333.5,353.5 333.4,353.0 333.3,352.5 333.2,352.0 333.0,351.5 332.9,351.1 332.8,350.6 332.6,350.1 332.5,349.6 330.3,342.2ZM338.9,403.4 341.6,410.1 349.4,405.5 346.8,398.9ZM351.7,430.6 354.9,435.8 355.2,436.2 355.5,436.6 355.8,437.0 356.0,437.5 356.3,437.9 356.6,438.3 356.9,438.7 357.1,439.1 357.4,439.5 357.7,439.9 357.9,440.3 358.2,440.7 358.5,441.1 358.7,441.6 359.0,442.0 359.2,442.4 359.5,442.8 359.8,443.2 360.0,443.7 360.3,444.1 360.6,444.5 360.8,444.9 361.1,445.3 361.4,445.8 361.6,446.2 361.9,446.6 362.2,447.0 362.4,447.5 362.7,447.9 363.0,448.3 363.2,448.7 363.5,449.2 363.8,449.6 364.0,450.0 364.3,450.4 364.6,450.9 364.8,451.3 365.1,451.7 365.4,452.2 365.7,452.6 365.9,453.0 366.2,453.4 366.5,453.9 366.8,454.3 367.0,454.7 367.3,455.1 371.6,461.3 378.0,454.8 374.8,450.2 374.6,449.8 374.3,449.4 374.0,449.0 373.8,448.6 373.5,448.1 373.2,447.7 373.0,447.3 372.7,446.9 372.4,446.5 372.2,446.1 371.9,445.6 371.6,445.2 371.4,444.8 371.1,444.4 370.8,444.0 370.6,443.5 370.3,443.1 370.1,442.7 369.8,442.3 369.5,441.8 369.3,441.4 369.0,441.0 368.7,440.6 368.5,440.1 368.2,439.7 367.9,439.3 367.7,438.9 367.4,438.4 367.1,438.0 366.9,437.6 366.6,437.2 366.3,436.7 366.0,436.3 365.8,435.9 365.5,435.5 365.2,435.0 364.9,434.6 364.7,434.2 364.4,433.7 364.1,433.3 363.8,432.9 363.5,432.5 363.3,432.0 363.0,431.6 362.7,431.2 362.4,430.8 358.8,424.8ZM384.3,477.7 388.6,483.0 394.5,476.0 390.3,470.8ZM402.7,499.2 406.3,503.0 406.6,503.4 407.0,503.8 407.3,504.1 407.7,504.5 408.0,504.9 408.4,505.2 408.7,505.6 409.1,505.9 409.4,506.3 409.8,506.7 410.1,507.0 410.5,507.4 410.9,507.8 411.2,508.1 411.6,508.5 411.9,508.8 412.3,509.2 412.6,509.5 413.0,509.9 413.3,510.3 413.7,510.6 414.0,511.0 414.4,511.3 414.7,511.7 415.1,512.0 415.4,512.4 415.8,512.8 416.2,513.1 416.5,513.5 416.9,513.8 417.2,514.2 417.6,514.5 417.9,514.9 418.3,515.2 418.6,515.6 419.0,515.9 419.3,516.3 419.7,516.7 420.0,517.0 420.4,517.4 420.7,517.7 421.1,518.1 421.5,518.4 421.8,518.8 422.2,519.1 427.2,524.2 432.4,516.6 428.5,512.8 428.2,512.4 427.8,512.1 427.5,511.7 427.1,511.4 426.8,511.0 426.4,510.6 426.1,510.3 425.7,509.9 425.4,509.6 425.0,509.2 424.6,508.9 424.3,508.5 423.9,508.2 423.6,507.8 423.2,507.5 422.9,507.1 422.5,506.8 422.2,506.4 421.8,506.0 421.5,505.7 421.1,505.3 420.8,505.0 420.4,504.6 420.1,504.3 419.7,503.9 419.4,503.6 419.0,503.2 418.7,502.9 418.3,502.5 418.0,502.2 417.6,501.8 417.3,501.5 416.9,501.1 416.6,500.7 416.2,500.4 415.9,500.0 415.5,499.7 415.2,499.3 414.9,499.0 414.5,498.6 414.2,498.3 413.8,497.9 413.5,497.5 413.1,497.2 412.8,496.8 408.2,491.9ZM441.6,538.2 446.5,542.7 451.4,535.0 446.6,530.5ZM465.9,551.0 471.2,552.4 471.7,552.5 472.2,552.7 472.7,552.8 473.1,552.9 473.6,553.1 474.1,553.2 474.6,553.3 475.1,553.5 475.6,553.6 476.0,553.7 476.5,553.8 477.0,554.0 477.5,554.1 478.0,554.2 478.5,554.4 478.9,554.5 479.4,554.6 479.9,554.7 480.4,554.9 480.9,555.0 481.4,555.1 481.9,555.3 482.4,555.4 482.9,555.5 483.4,555.6 483.9,555.8 484.4,555.9 484.9,556.0 485.4,556.1 485.8,556.2 486.3,556.4 486.8,556.5 487.3,556.6 487.8,556.7 488.2,556.8 488.7,556.9 489.2,557.1 489.7,557.2 490.1,557.3 490.6,557.4 491.0,557.5 491.5,557.7 496.7,559.4 499.2,550.7 493.9,549.0 493.4,548.8 492.9,548.7 492.4,548.6 491.9,548.4 491.4,548.3 490.9,548.2 490.4,548.1 489.9,548.0 489.4,547.8 488.9,547.7 488.4,547.6 487.9,547.5 487.4,547.4 487.0,547.3 486.5,547.1 486.0,547.0 485.5,546.9 485.1,546.8 484.6,546.7 484.1,546.6 483.7,546.4 483.2,546.3 482.7,546.2 482.2,546.1 481.7,545.9 481.3,545.8 480.8,545.7 480.3,545.5 479.8,545.4 479.3,545.3 478.8,545.1 478.4,545.0 477.9,544.9 477.4,544.8 476.9,544.6 476.4,544.5 475.9,544.4 475.5,544.2 475.0,544.1 474.5,544.0 474.0,543.9 473.5,543.7 467.7,542.1ZM512.3,569.2 517.6,572.9 521.7,564.8 516.3,561.1ZM533.9,585.3 538.2,588.2 538.7,588.5 539.1,588.8 539.5,589.0 539.9,589.3 540.3,589.6 540.8,589.9 541.2,590.1 541.6,590.4 542.0,590.7 542.5,591.0 542.9,591.2 543.3,591.5 543.7,591.8 544.2,592.0 544.6,592.3 545.0,592.6 545.4,592.8 545.9,593.1 546.3,593.4 546.7,593.7 547.1,593.9 547.6,594.2 548.0,594.5 548.4,594.7 548.8,595.0 549.3,595.3 549.7,595.5 550.1,595.8 550.5,596.1 550.9,596.3 551.4,596.6 551.8,596.9 552.2,597.1 552.6,597.4 553.1,597.7 553.5,597.9 553.9,598.2 554.3,598.5 554.7,598.7 555.1,599.0 555.6,599.3 556.0,599.5 556.4,599.8 556.8,600.1 562.1,603.6 566.0,595.3 561.7,592.5 561.3,592.2 560.8,592.0 560.4,591.7 560.0,591.4 559.6,591.1 559.1,590.9 558.7,590.6 558.3,590.3 557.9,590.1 557.4,589.8 557.0,589.5 556.6,589.2 556.2,589.0 555.8,588.7 555.3,588.4 554.9,588.2 554.5,587.9 554.1,587.6 553.6,587.4 553.2,587.1 552.8,586.8 552.4,586.6 551.9,586.3 551.5,586.0 551.1,585.8 550.7,585.5 550.3,585.2 549.8,585.0 549.4,584.7 549.0,584.4 548.6,584.2 548.2,583.9 547.7,583.6 547.3,583.4 546.9,583.1 546.5,582.8 546.1,582.6 545.7,582.3 545.3,582.0 544.8,581.8 544.4,581.5 544.0,581.2 543.6,581.0 543.2,580.7 537.9,577.1ZM577.8,614.8 583.0,618.6 587.2,610.5 581.9,606.6ZM599.4,630.7 603.6,633.8 604.0,634.1 604.4,634.4 604.8,634.7 605.3,635.0 605.7,635.3 606.1,635.6 606.5,635.9 606.9,636.2 607.3,636.5 607.7,636.8 608.1,637.1 608.5,637.4 608.9,637.7 609.3,638.0 609.7,638.3 610.1,638.6 610.5,638.8 610.9,639.1 611.3,639.4 611.7,639.7 612.1,640.0 612.5,640.3 613.0,640.6 613.4,640.9 613.8,641.2 614.2,641.5 614.6,641.8 615.0,642.1 615.4,642.4 615.8,642.7 616.2,643.0 616.6,643.2 617.0,643.5 617.4,643.8 617.8,644.1 618.2,644.4 618.6,644.7 619.0,645.0 619.4,645.3 619.9,645.6 620.3,645.9 620.7,646.2 621.1,646.5 621.5,646.8 626.8,650.6 630.9,642.4 626.7,639.5 626.3,639.2 625.9,638.9 625.5,638.6 625.1,638.3 624.7,638.0 624.3,637.7 623.9,637.4 623.5,637.1 623.1,636.8 622.7,636.5 622.3,636.2 621.9,635.9 621.5,635.7 621.1,635.4 620.7,635.1 620.3,634.8 619.8,634.5 619.4,634.2 619.0,633.9 618.6,633.6 618.2,633.3 617.8,633.0 617.4,632.7 617.0,632.4 616.6,632.1 616.2,631.9 615.8,631.6 615.4,631.3 615.0,631.0 614.6,630.7 614.2,630.4 613.8,630.1 613.4,629.8 613.0,629.5 612.6,629.2 612.2,628.9 611.8,628.6 611.4,628.3 611.0,628.0 610.5,627.7 610.1,627.5 609.7,627.2 609.3,626.9 608.9,626.6 603.6,622.6ZM628.6,651.9 632.9,655.0 633.3,655.2 633.7,655.5 634.2,655.8 634.6,656.1 635.0,656.4 635.4,656.7 635.8,657.0 636.2,657.3 636.6,657.6 637.0,657.9 637.4,658.1 637.8,658.4 638.2,658.7 638.6,659.0 639.1,659.3 639.5,659.6 639.9,659.9 640.3,660.2 640.7,660.5 641.1,660.8 641.5,661.0 641.9,661.3 642.3,661.6 642.7,661.9 643.1,662.2 643.6,662.5 644.0,662.8 644.4,663.1 644.8,663.4 645.2,663.6 645.6,663.9 646.0,664.2 646.4,664.5 646.8,664.8 647.2,665.1 647.7,665.4 648.1,665.7 648.5,665.9 648.9,666.2 649.3,666.5 649.7,666.8 650.1,667.1 650.5,667.4 650.9,667.7 656.5,671.6 660.5,663.4 656.1,660.3 655.7,660.0 655.3,659.7 654.9,659.4 654.5,659.1 654.0,658.9 653.6,658.6 653.2,658.3 652.8,658.0 652.4,657.7 652.0,657.4 651.6,657.1 651.2,656.9 650.8,656.6 650.4,656.3 650.0,656.0 649.6,655.7 649.1,655.4 648.7,655.1 648.3,654.8 647.9,654.6 647.5,654.3 647.1,654.0 646.7,653.7 646.3,653.4 645.9,653.1 645.5,652.8 645.1,652.5 644.7,652.3 644.3,652.0 643.8,651.7 643.4,651.4 643.0,651.1 642.6,650.8 642.2,650.5 641.8,650.2 641.4,649.9 641.0,649.7 640.6,649.4 640.2,649.1 639.8,648.8 639.4,648.5 639.0,648.2 638.6,647.9 638.2,647.6 632.7,643.7ZM672.7,682.7 678.1,686.4 682.0,678.1 676.6,674.4ZM694.9,698.0 699.0,700.9 699.4,701.2 699.9,701.5 700.3,701.8 700.7,702.1 701.1,702.4 701.5,702.7 701.9,702.9 702.3,703.2 702.7,703.5 703.1,703.8 703.5,704.1 703.9,704.4 704.4,704.7 704.8,705.0 705.2,705.3 705.6,705.5 706.0,705.8 706.4,706.1 706.8,706.4 707.2,706.7 707.6,707.0 708.0,707.3 708.5,707.6 708.9,707.8 709.3,708.1 709.7,708.4 710.1,708.7 710.5,709.0 710.9,709.3 711.3,709.6 711.7,709.8 712.1,710.1 712.5,710.4 713.0,710.7 713.4,711.0 713.8,711.3 714.2,711.6 714.6,711.9 715.0,712.1 715.4,712.4 715.8,712.7 716.2,713.0 716.7,713.3 717.1,713.6 717.5,713.9 722.8,717.6 726.7,709.4 722.6,706.5 722.2,706.2 721.8,705.9 721.4,705.6 721.0,705.3 720.6,705.1 720.2,704.8 719.8,704.5 719.3,704.2 718.9,703.9 718.5,703.6 718.1,703.3 717.7,703.0 717.3,702.8 716.9,702.5 716.5,702.2 716.1,701.9 715.7,701.6 715.3,701.3 714.8,701.0 714.4,700.8 714.0,700.5 713.6,700.2 713.2,699.9 712.8,699.6 712.4,699.3 712.0,699.0 711.6,698.7 711.2,698.5 710.8,698.2 710.3,697.9 709.9,697.6 709.5,697.3 709.1,697.0 708.7,696.7 708.3,696.4 707.9,696.2 707.5,695.9 707.1,695.6 706.7,695.3 706.3,695.0 705.9,694.7 705.4,694.4 705.0,694.1 704.6,693.9 704.2,693.6 698.9,689.8ZM738.9,728.7 744.3,732.4 748.2,724.2 742.8,720.5ZM761.2,744.1 765.6,747.1 766.1,747.4 766.5,747.7 766.9,748.0 767.3,748.3 767.7,748.5 768.1,748.8 768.5,749.1 768.9,749.4 769.4,749.7 769.8,750.0 770.2,750.2 770.6,750.5 771.0,750.8 771.4,751.1 771.8,751.4 772.2,751.7 772.7,751.9 773.1,752.2 773.5,752.5 773.9,752.8 774.3,753.1 774.7,753.3 775.1,753.6 775.6,753.9 776.0,754.2 776.4,754.5 776.8,754.8 777.2,755.0 777.6,755.3 778.0,755.6 778.4,755.9 778.9,756.2 779.3,756.4 779.7,756.7 780.1,757.0 780.5,757.3 780.9,757.6 781.3,757.9 781.8,758.1 782.2,758.4 782.6,758.7 783.0,759.0 783.4,759.3 783.8,759.5 789.2,763.2 793.1,755.0 788.9,752.1 788.5,751.8 788.1,751.5 787.6,751.3 787.2,751.0 786.8,750.7 786.4,750.4 786.0,750.1 785.6,749.9 785.2,749.6 784.8,749.3 784.3,749.0 783.9,748.7 783.5,748.4 783.1,748.2 782.7,747.9 782.3,747.6 781.9,747.3 781.5,747.0 781.0,746.8 780.6,746.5 780.2,746.2 779.8,745.9 779.4,745.6 779.0,745.3 778.6,745.1 778.2,744.8 777.7,744.5 777.3,744.2 776.9,743.9 776.5,743.7 776.1,743.4 775.7,743.1 775.3,742.8 774.8,742.5 774.4,742.2 774.0,742.0 773.6,741.7 773.2,741.4 772.8,741.1 772.4,740.8 772.0,740.6 771.5,740.3 771.1,740.0 770.7,739.7 765.1,735.8ZM805.4,774.2 810.9,777.9 814.7,769.6 809.3,766.0ZM827.9,789.2 832.4,792.2 832.8,792.5 833.2,792.8 833.7,793.1 834.1,793.3 834.5,793.6 834.9,793.9 835.3,794.2 835.7,794.4 836.2,794.7 836.6,795.0 837.0,795.3 837.4,795.5 837.8,795.8 838.3,796.1 838.7,796.4 839.1,796.6 839.5,796.9 839.9,797.2 840.3,797.5 840.8,797.7 841.2,798.0 841.6,798.3 842.0,798.6 842.4,798.8 842.8,799.1 843.3,799.4 843.7,799.7 844.1,799.9 844.5,800.2 844.9,800.5 845.4,800.8 845.8,801.0 846.2,801.3 846.6,801.6 847.0,801.9 847.5,802.1 847.9,802.4 848.3,802.7 848.7,803.0 849.1,803.2 849.5,803.5 850.0,803.8 850.4,804.1 850.8,804.3 856.2,807.9 860.0,799.6 855.7,796.8 855.3,796.5 854.9,796.3 854.5,796.0 854.1,795.7 853.6,795.4 853.2,795.2 852.8,794.9 852.4,794.6 852.0,794.3 851.6,794.1 851.1,793.8 850.7,793.5 850.3,793.3 849.9,793.0 849.5,792.7 849.0,792.4 848.6,792.2 848.2,791.9 847.8,791.6 847.4,791.3 847.0,791.1 846.5,790.8 846.1,790.5 845.7,790.2 845.3,790.0 844.9,789.7 844.5,789.4 844.0,789.1 843.6,788.9 843.2,788.6 842.8,788.3 842.4,788.0 842.0,787.8 841.5,787.5 841.1,787.2 840.7,786.9 840.3,786.7 839.9,786.4 839.5,786.1 839.0,785.8 838.6,785.6 838.2,785.3 837.8,785.0 837.4,784.7 831.7,781.0ZM872.6,818.5 878.0,822.0 881.8,813.7 876.3,810.2ZM895.2,833.1 899.6,835.8 900.0,836.1 900.4,836.4 900.8,836.7 901.2,836.9 901.7,837.2 902.1,837.5 902.5,837.7 902.9,838.0 903.4,838.3 903.8,838.5 904.2,838.8 904.6,839.1 905.0,839.3 905.5,839.6 905.9,839.9 906.3,840.2 906.7,840.4 907.1,840.7 907.6,841.0 908.0,841.2 908.4,841.5 908.8,841.8 909.3,842.0 909.7,842.3 910.1,842.6 910.5,842.8 910.9,843.1 911.4,843.4 911.8,843.6 912.2,843.9 912.6,844.2 913.1,844.5 913.5,844.7 913.9,845.0 914.3,845.3 914.7,845.5 915.2,845.8 915.6,846.1 916.0,846.3 916.4,846.6 916.9,846.9 917.3,847.1 917.7,847.4 918.1,847.7 923.8,851.2 927.4,842.9 922.9,840.1 922.5,839.8 922.1,839.5 921.7,839.3 921.3,839.0 920.8,838.7 920.4,838.5 920.0,838.2 919.6,837.9 919.1,837.7 918.7,837.4 918.3,837.1 917.9,836.9 917.5,836.6 917.0,836.3 916.6,836.1 916.2,835.8 915.8,835.5 915.4,835.2 914.9,835.0 914.5,834.7 914.1,834.4 913.7,834.2 913.2,833.9 912.8,833.6 912.4,833.4 912.0,833.1 911.6,832.8 911.1,832.6 910.7,832.3 910.3,832.0 909.9,831.8 909.5,831.5 909.0,831.2 908.6,831.0 908.2,830.7 907.8,830.4 907.3,830.1 906.9,829.9 906.5,829.6 906.1,829.3 905.7,829.1 905.2,828.8 904.8,828.5 904.4,828.3 898.9,824.7ZM940.2,861.6 941.2,862.3 944.9,853.9 943.9,853.3ZM941.7,862.6 946.2,865.4 946.7,865.7 947.1,866.0 947.5,866.2 947.9,866.5 948.4,866.8 948.8,867.0 949.2,867.3 949.6,867.6 950.0,867.8 950.5,868.1 950.9,868.4 951.3,868.6 951.7,868.9 952.2,869.2 952.6,869.4 953.0,869.7 953.4,870.0 953.9,870.2 954.3,870.5 954.7,870.8 955.1,871.0 955.6,871.3 956.0,871.6 956.4,871.8 956.8,872.1 957.2,872.3 957.7,872.6 958.1,872.9 958.5,873.1 958.9,873.4 959.4,873.7 959.8,873.9 960.2,874.2 960.6,874.5 961.1,874.7 961.5,875.0 961.9,875.3 962.3,875.5 962.8,875.8 963.2,876.1 963.6,876.3 964.0,876.6 964.5,876.9 964.9,877.1 970.4,880.6 974.0,872.2 969.7,869.5 969.2,869.2 968.8,869.0 968.4,868.7 968.0,868.4 967.5,868.2 967.1,867.9 966.7,867.6 966.3,867.4 965.8,867.1 965.4,866.9 965.0,866.6 964.6,866.3 964.1,866.1 963.7,865.8 963.3,865.5 962.9,865.3 962.5,865.0 962.0,864.7 961.6,864.5 961.2,864.2 960.8,863.9 960.3,863.7 959.9,863.4 959.5,863.1 959.1,862.9 958.6,862.6 958.2,862.3 957.8,862.1 957.4,861.8 957.0,861.5 956.5,861.3 956.1,861.0 955.7,860.7 955.3,860.5 954.8,860.2 954.4,859.9 954.0,859.7 953.6,859.4 953.1,859.1 952.7,858.9 952.3,858.6 951.9,858.3 951.5,858.1 951.0,857.8 945.4,854.3ZM986.9,890.9 992.4,894.3 996.0,886.0 990.5,882.5ZM1009.6,905.1 1014.1,907.8 1014.5,908.1 1015.0,908.4 1015.4,908.6 1015.8,908.9 1016.2,909.2 1016.7,909.4 1017.1,909.7 1017.5,909.9 1017.9,910.2 1018.4,910.5 1018.8,910.7 1019.2,911.0 1019.7,911.3 1020.1,911.5 1020.5,911.8 1020.9,912.0 1021.4,912.3 1021.8,912.6 1022.2,912.8 1022.6,913.1 1023.1,913.4 1023.5,913.6 1023.9,913.9 1024.3,914.1 1024.8,914.4 1025.2,914.7 1025.6,914.9 1026.0,915.2 1026.5,915.5 1026.9,915.7 1027.3,916.0 1027.8,916.2 1028.2,916.5 1028.6,916.8 1029.0,917.0 1029.5,917.3 1029.9,917.5 1030.3,917.8 1030.7,918.1 1031.2,918.3 1031.6,918.6 1032.0,918.9 1032.4,919.1 1032.9,919.4 1038.4,922.8 1042.0,914.4 1037.6,911.7 1037.1,911.4 1036.7,911.2 1036.3,910.9 1035.9,910.7 1035.4,910.4 1035.0,910.1 1034.6,909.9 1034.2,909.6 1033.7,909.3 1033.3,909.1 1032.9,908.8 1032.5,908.6 1032.0,908.3 1031.6,908.0 1031.2,907.8 1030.8,907.5 1030.3,907.3 1029.9,907.0 1029.5,906.7 1029.1,906.5 1028.6,906.2 1028.2,906.0 1027.8,905.7 1027.3,905.4 1026.9,905.2 1026.5,904.9 1026.1,904.6 1025.6,904.4 1025.2,904.1 1024.8,903.9 1024.4,903.6 1023.9,903.3 1023.5,903.1 1023.1,902.8 1022.7,902.5 1022.2,902.3 1021.8,902.0 1021.4,901.8 1021.0,901.5 1020.5,901.2 1020.1,901.0 1019.7,900.7 1019.3,900.4 1018.8,900.2 1013.2,896.7ZM1055.0,932.8 1060.6,936.2 1064.1,927.8 1058.5,924.5ZM1077.9,946.7 1082.5,949.4 1083.0,949.7 1083.4,949.9 1083.8,950.2 1084.3,950.4 1084.7,950.7 1085.1,951.0 1085.5,951.2 1086.0,951.5 1086.4,951.7 1086.8,952.0 1087.3,952.2 1087.7,952.5 1088.1,952.8 1088.5,953.0 1089.0,953.3 1089.4,953.5 1089.8,953.8 1090.3,954.0 1090.7,954.3 1091.1,954.5 1091.6,954.8 1092.0,955.1 1092.4,955.3 1092.8,955.6 1093.3,955.8 1093.7,956.1 1094.1,956.3 1094.6,956.6 1095.0,956.9 1095.4,957.1 1095.9,957.4 1096.3,957.6 1096.7,957.9 1097.1,958.1 1097.6,958.4 1098.0,958.6 1098.4,958.9 1098.9,959.2 1099.3,959.4 1099.7,959.7 1100.1,959.9 1100.6,960.2 1101.0,960.4 1101.4,960.7 1106.9,963.9 1110.4,955.5 1106.0,953.0 1105.6,952.7 1105.2,952.4 1104.8,952.2 1104.3,951.9 1103.9,951.7 1103.5,951.4 1103.0,951.2 1102.6,950.9 1102.2,950.7 1101.7,950.4 1101.3,950.1 1100.9,949.9 1100.5,949.6 1100.0,949.4 1099.6,949.1 1099.2,948.9 1098.7,948.6 1098.3,948.4 1097.9,948.1 1097.5,947.8 1097.0,947.6 1096.6,947.3 1096.2,947.1 1095.7,946.8 1095.3,946.6 1094.9,946.3 1094.5,946.0 1094.0,945.8 1093.6,945.5 1093.2,945.3 1092.7,945.0 1092.3,944.8 1091.9,944.5 1091.4,944.3 1091.0,944.0 1090.6,943.7 1090.2,943.5 1089.7,943.2 1089.3,943.0 1088.9,942.7 1088.4,942.5 1088.0,942.2 1087.6,941.9 1087.2,941.7 1081.4,938.3ZM1123.6,973.8 1129.1,977.1 1132.6,968.7 1127.0,965.4ZM1146.6,987.4 1150.9,990.0 1151.4,990.2 1151.8,990.5 1152.2,990.8 1152.7,991.0 1153.1,991.3 1153.5,991.5 1154.0,991.8 1154.4,992.0 1154.8,992.3 1155.2,992.5 1155.7,992.8 1156.1,993.0 1156.5,993.3 1157.0,993.5 1157.4,993.8 1157.8,994.1 1158.3,994.3 1158.7,994.6 1159.1,994.8 1159.6,995.1 1160.0,995.3 1160.4,995.6 1160.8,995.8 1161.3,996.1 1161.7,996.3 1162.1,996.6 1162.6,996.8 1163.0,997.1 1163.4,997.4 1163.9,997.6 1164.3,997.9 1164.7,998.1 1165.2,998.4 1165.6,998.6 1166.0,998.9 1166.4,999.1 1166.9,999.4 1167.3,999.6 1167.7,999.9 1168.2,1000.1 1168.6,1000.4 1169.0,1000.7 1169.5,1000.9 1169.9,1001.2 1175.6,1004.5 1179.0,996.1 1174.5,993.4 1174.0,993.1 1173.6,992.9 1173.2,992.6 1172.7,992.4 1172.3,992.1 1171.9,991.9 1171.4,991.6 1171.0,991.4 1170.6,991.1 1170.2,990.9 1169.7,990.6 1169.3,990.4 1168.9,990.1 1168.4,989.9 1168.0,989.6 1167.6,989.3 1167.1,989.1 1166.7,988.8 1166.3,988.6 1165.8,988.3 1165.4,988.1 1165.0,987.8 1164.6,987.6 1164.1,987.3 1163.7,987.1 1163.3,986.8 1162.8,986.6 1162.4,986.3 1162.0,986.0 1161.5,985.8 1161.1,985.5 1160.7,985.3 1160.2,985.0 1159.8,984.8 1159.4,984.5 1159.0,984.3 1158.5,984.0 1158.1,983.8 1157.7,983.5 1157.2,983.3 1156.8,983.0 1156.4,982.7 1155.9,982.5 1155.5,982.2 1150.0,979.0ZM1192.3,1014.3 1197.8,1017.6 1201.3,1009.2 1195.7,1005.9ZM1215.3,1027.9 1219.9,1030.6 1220.3,1030.8 1220.8,1031.1 1221.2,1031.3 1221.6,1031.6 1222.1,1031.8 1222.5,1032.1 1222.9,1032.3 1223.4,1032.6 1223.8,1032.8 1224.2,1033.1 1224.6,1033.3 1225.1,1033.6 1225.5,1033.8 1225.9,1034.1 1226.4,1034.4 1226.8,1034.6 1227.2,1034.9 1227.7,1035.1 1228.1,1035.4 1228.5,1035.6 1229.0,1035.9 1229.4,1036.1 1229.8,1036.4 1230.3,1036.6 1230.7,1036.9 1231.1,1037.1 1231.6,1037.4 1232.0,1037.6 1232.4,1037.9 1232.9,1038.1 1233.3,1038.4 1233.7,1038.6 1234.1,1038.9 1234.6,1039.1 1235.0,1039.4 1235.4,1039.6 1235.9,1039.9 1236.3,1040.2 1236.7,1040.4 1237.2,1040.7 1237.6,1040.9 1238.0,1041.2 1238.5,1041.4 1238.9,1041.7 1244.4,1044.8 1247.8,1036.4 1243.4,1033.9 1243.0,1033.6 1242.6,1033.4 1242.1,1033.1 1241.7,1032.9 1241.3,1032.6 1240.8,1032.4 1240.4,1032.1 1240.0,1031.9 1239.6,1031.6 1239.1,1031.4 1238.7,1031.1 1238.3,1030.9 1237.8,1030.6 1237.4,1030.4 1237.0,1030.1 1236.5,1029.9 1236.1,1029.6 1235.7,1029.4 1235.2,1029.1 1234.8,1028.9 1234.4,1028.6 1233.9,1028.3 1233.5,1028.1 1233.1,1027.8 1232.6,1027.6 1232.2,1027.3 1231.8,1027.1 1231.4,1026.8 1230.9,1026.6 1230.5,1026.3 1230.1,1026.1 1229.6,1025.8 1229.2,1025.6 1228.8,1025.3 1228.3,1025.1 1227.9,1024.8 1227.5,1024.6 1227.0,1024.3 1226.6,1024.1 1226.2,1023.8 1225.7,1023.6 1225.3,1023.3 1224.9,1023.0 1224.4,1022.8 1218.7,1019.5ZM1255.7,1051.4 1260.3,1054.1 1260.8,1054.4 1261.2,1054.6 1261.6,1054.9 1262.1,1055.1 1262.5,1055.4 1262.9,1055.6 1263.4,1055.9 1263.8,1056.1 1264.2,1056.4 1264.7,1056.6 1265.1,1056.9 1265.5,1057.1 1266.0,1057.4 1266.4,1057.6 1266.8,1057.9 1267.3,1058.1 1267.7,1058.4 1268.1,1058.6 1268.6,1058.9 1269.0,1059.1 1269.4,1059.4 1269.9,1059.6 1270.3,1059.9 1270.7,1060.1 1271.2,1060.4 1271.6,1060.6 1272.0,1060.9 1272.4,1061.2 1272.9,1061.4 1273.3,1061.7 1273.7,1061.9 1274.2,1062.2 1274.6,1062.4 1275.0,1062.7 1275.5,1062.9 1275.9,1063.2 1276.3,1063.4 1276.8,1063.7 1277.2,1063.9 1277.6,1064.2 1278.1,1064.4 1278.5,1064.7 1278.9,1064.9 1284.8,1068.3 1288.2,1059.8 1283.4,1057.1 1283.0,1056.9 1282.6,1056.6 1282.1,1056.4 1281.7,1056.1 1281.3,1055.9 1280.9,1055.6 1280.4,1055.4 1280.0,1055.1 1279.6,1054.9 1279.1,1054.6 1278.7,1054.4 1278.3,1054.1 1277.8,1053.9 1277.4,1053.6 1277.0,1053.4 1276.5,1053.1 1276.1,1052.9 1275.7,1052.6 1275.2,1052.4 1274.8,1052.1 1274.4,1051.9 1273.9,1051.6 1273.5,1051.4 1273.1,1051.1 1272.6,1050.9 1272.2,1050.6 1271.8,1050.4 1271.3,1050.1 1270.9,1049.9 1270.5,1049.6 1270.0,1049.4 1269.6,1049.1 1269.2,1048.9 1268.7,1048.6 1268.3,1048.4 1267.9,1048.1 1267.4,1047.8 1267.0,1047.6 1266.6,1047.3 1266.1,1047.1 1265.7,1046.8 1265.3,1046.6 1264.8,1046.3 1259.1,1043.0ZM1301.6,1077.9 1307.2,1081.2 1310.5,1072.7 1304.9,1069.5ZM1324.7,1091.2 1329.3,1093.8 1329.7,1094.1 1330.1,1094.3 1330.6,1094.6 1331.0,1094.8 1331.4,1095.0 1331.9,1095.3 1332.3,1095.5 1332.7,1095.8 1333.2,1096.0 1333.6,1096.3 1334.0,1096.5 1334.5,1096.8 1334.9,1097.0 1335.3,1097.3 1335.8,1097.5 1336.2,1097.8 1336.6,1098.0 1337.1,1098.3 1337.5,1098.5 1337.9,1098.8 1338.4,1099.0 1338.8,1099.3 1339.2,1099.5 1339.7,1099.8 1340.1,1100.0 1340.6,1100.3 1341.0,1100.5 1341.4,1100.7 1341.9,1101.0 1342.3,1101.2 1342.7,1101.5 1343.2,1101.7 1343.6,1102.0 1344.0,1102.2 1344.5,1102.5 1344.9,1102.7 1345.3,1103.0 1345.8,1103.2 1346.2,1103.5 1346.6,1103.7 1347.1,1104.0 1347.5,1104.2 1347.9,1104.5 1348.4,1104.7 1353.9,1107.9 1357.2,1099.4 1352.8,1096.9 1352.4,1096.6 1352.0,1096.4 1351.5,1096.1 1351.1,1095.9 1350.7,1095.7 1350.2,1095.4 1349.8,1095.2 1349.3,1094.9 1348.9,1094.7 1348.5,1094.4 1348.0,1094.2 1347.6,1093.9 1347.2,1093.7 1346.7,1093.4 1346.3,1093.2 1345.9,1092.9 1345.4,1092.7 1345.0,1092.4 1344.6,1092.2 1344.1,1091.9 1343.7,1091.7 1343.3,1091.4 1342.8,1091.2 1342.4,1090.9 1342.0,1090.7 1341.5,1090.5 1341.1,1090.2 1340.7,1090.0 1340.2,1089.7 1339.8,1089.5 1339.4,1089.2 1338.9,1089.0 1338.5,1088.7 1338.1,1088.5 1337.6,1088.2 1337.2,1088.0 1336.8,1087.7 1336.3,1087.5 1335.9,1087.2 1335.5,1087.0 1335.0,1086.7 1334.6,1086.5 1334.2,1086.2 1333.7,1086.0 1328.1,1082.8ZM1370.7,1117.4 1376.3,1120.6 1379.7,1112.1 1374.1,1108.9ZM1393.9,1130.5 1398.4,1133.0 1398.9,1133.3 1399.3,1133.5 1399.7,1133.8 1400.2,1134.0 1400.6,1134.3 1401.0,1134.5 1401.5,1134.8 1401.9,1135.0 1402.4,1135.3 1402.8,1135.5 1403.2,1135.7 1403.7,1136.0 1404.1,1136.2 1404.5,1136.5 1405.0,1136.7 1405.4,1137.0 1405.8,1137.2 1406.3,1137.5 1406.7,1137.7 1407.1,1137.9 1407.6,1138.2 1408.0,1138.4 1408.5,1138.7 1408.9,1138.9 1409.3,1139.2 1409.8,1139.4 1410.2,1139.7 1410.6,1139.9 1411.1,1140.2 1411.5,1140.4 1411.9,1140.6 1412.4,1140.9 1412.8,1141.1 1413.3,1141.4 1413.7,1141.6 1414.1,1141.9 1414.6,1142.1 1415.0,1142.4 1415.4,1142.6 1415.9,1142.8 1416.3,1143.1 1416.7,1143.3 1417.2,1143.6 1417.6,1143.8 1423.2,1147.0 1426.5,1138.5 1422.0,1136.0 1421.6,1135.7 1421.1,1135.5 1420.7,1135.2 1420.3,1135.0 1419.8,1134.8 1419.4,1134.5 1419.0,1134.3 1418.5,1134.0 1418.1,1133.8 1417.7,1133.5 1417.2,1133.3 1416.8,1133.0 1416.4,1132.8 1415.9,1132.6 1415.5,1132.3 1415.0,1132.1 1414.6,1131.8 1414.2,1131.6 1413.7,1131.3 1413.3,1131.1 1412.9,1130.8 1412.4,1130.6 1412.0,1130.3 1411.6,1130.1 1411.1,1129.9 1410.7,1129.6 1410.3,1129.4 1409.8,1129.1 1409.4,1128.9 1408.9,1128.6 1408.5,1128.4 1408.1,1128.1 1407.6,1127.9 1407.2,1127.7 1406.8,1127.4 1406.3,1127.2 1405.9,1126.9 1405.5,1126.7 1405.0,1126.4 1404.6,1126.2 1404.2,1125.9 1403.7,1125.7 1403.3,1125.4 1402.8,1125.2 1397.3,1122.1ZM1440.1,1156.4 1445.7,1159.5 1449.0,1151.1 1443.4,1147.9ZM1463.3,1169.4 1467.8,1171.9 1468.3,1172.1 1468.7,1172.3 1469.2,1172.6 1469.6,1172.8 1470.0,1173.1 1470.5,1173.3 1470.9,1173.6 1471.3,1173.8 1471.8,1174.0 1472.2,1174.3 1472.6,1174.5 1473.1,1174.8 1473.5,1175.0 1474.0,1175.3 1474.4,1175.5 1474.8,1175.7 1475.3,1176.0 1475.7,1176.2 1476.1,1176.5 1476.6,1176.7 1477.0,1177.0 1477.5,1177.2 1477.9,1177.4 1478.3,1177.7 1478.8,1177.9 1479.2,1178.2 1479.6,1178.4 1480.1,1178.7 1480.5,1178.9 1481.0,1179.1 1481.4,1179.4 1481.8,1179.6 1482.3,1179.9 1482.7,1180.1 1483.1,1180.4 1483.6,1180.6 1484.0,1180.8 1484.5,1181.1 1484.9,1181.3 1485.3,1181.6 1485.8,1181.8 1486.2,1182.0 1486.6,1182.3 1487.1,1182.5 1492.7,1185.6 1495.9,1177.1 1491.4,1174.7 1491.0,1174.4 1490.6,1174.2 1490.1,1173.9 1489.7,1173.7 1489.3,1173.4 1488.8,1173.2 1488.4,1173.0 1487.9,1172.7 1487.5,1172.5 1487.1,1172.2 1486.6,1172.0 1486.2,1171.8 1485.8,1171.5 1485.3,1171.3 1484.9,1171.0 1484.4,1170.8 1484.0,1170.5 1483.6,1170.3 1483.1,1170.1 1482.7,1169.8 1482.3,1169.6 1481.8,1169.3 1481.4,1169.1 1481.0,1168.8 1480.5,1168.6 1480.1,1168.4 1479.6,1168.1 1479.2,1167.9 1478.8,1167.6 1478.3,1167.4 1477.9,1167.1 1477.5,1166.9 1477.0,1166.7 1476.6,1166.4 1476.1,1166.2 1475.7,1165.9 1475.3,1165.7 1474.8,1165.5 1474.4,1165.2 1474.0,1165.0 1473.5,1164.7 1473.1,1164.5 1472.6,1164.2 1472.2,1164.0 1466.6,1160.9Z" fill="#00f"/>
</g>
<g fill="#000" shape-rendering="crispEdges">
<rect x="325.7" y="250" width="9" height="6"/>
<rect x="348.8" y="250" width="9" height="6"/>
<rect x="371.8" y="250" width="9" height="6"/>
<rect x="394.9" y="250" width="9" height="6"/>
<rect x="417.9" y="250" width="9" height="6"/>
<rect x="441.0" y="250" width="9" height="6"/>
<rect x="464.1" y="250" width="9" height="6"/>
<rect x="487.1" y="250" width="9" height="6"/>
<rect x="510.2" y="250" width="9" height="6"/>
<rect x="533.2" y="250" width="9" height="6"/>
<rect x="556.3" y="250" width="9" height="6"/>
<rect x="579.4" y="250" width="9" height="6"/>
<rect x="602.4" y="250" width="9" height="6"/>
<rect x="625.5" y="250" width="9" height="6"/>
<rect x="648.5" y="250" width="9" height="6"/>
<rect x="671.6" y="250" width="9" height="6"/>
<rect x="694.7" y="250" width="9" height="6"/>
<rect x="717.7" y="250" width="9" height="6"/>
<rect x="740.8" y="250" width="9" height="6"/>
<rect x="763.8" y="250" width="9" height="6"/>
<rect x="786.9" y="250" width="9" height="6"/>
<rect x="810.0" y="250" width="9" height="6"/>
<rect x="833.0" y="250" width="9" height="6"/>
<rect x="856.1" y="250" width="9" height="6"/>
<rect x="879.1" y="250" width="9" height="6"/>
<rect x="887" y="257.0" width="6" height="9.0"/>
<rect x="887" y="280.5" width="6" height="9.0"/>
<rect x="887" y="304.0" width="6" height="9.0"/>
<rect x="887" y="327.5" width="6" height="9.0"/>
<rect x="887" y="351.0" width="6" height="9.0"/>
<rect x="887" y="374.5" width="6" height="9.0"/>
<rect x="887" y="398.0" width="6" height="9.0"/>
<rect x="887" y="421.5" width="6" height="9.0"/>
<rect x="887" y="445.0" width="6" height="9.0"/>
<rect x="887" y="468.5" width="6" height="9.0"/>
<rect x="887" y="492.0" width="6" height="9.0"/>
<rect x="887" y="515.5" width="6" height="9.0"/>
<rect x="887" y="539.0" width="6" height="9.0"/>
<rect x="887" y="562.5" width="6" height="9.0"/>
<rect x="887" y="586.0" width="6" height="9.0"/>
<rect x="887" y="609.5" width="6" height="9.0"/>
<rect x="887" y="633.0" width="6" height="9.0"/>
<rect x="887" y="656.5" width="6" height="9.0"/>
<rect x="887" y="680.0" width="6" height="9.0"/>
<rect x="887" y="703.5" width="6" height="9.0"/>
<rect x="887" y="727.0" width="6" height="9.0"/>
<rect x="887" y="750.5" width="6" height="9.0"/>
<rect x="887" y="774.0" width="6" height="9.0"/>
<rect x="887" y="797.5" width="6" height="9.0"/>
<rect x="887" y="821.0" width="6" height="9.0"/>
<rect x="887" y="844.5" width="6" height="9.0"/>
<rect x="887" y="868.0" width="6" height="9.0"/>
<rect x="887" y="891.5" width="6" height="9.0"/>
<rect x="887" y="915.0" width="6" height="9.0"/>
<rect x="887" y="938.5" width="6" height="9.0"/>
<rect x="887" y="962.0" width="6" height="9.0"/>
<rect x="887" y="985.5" width="6" height="9.0"/>
<rect x="887" y="1009.0" width="6" height="9.0"/>
<rect x="887" y="1032.5" width="6" height="9.0"/>
<rect x="887" y="1056.0" width="6" height="9.0"/>
<rect x="887" y="1079.5" width="6" height="9.0"/>
<rect x="887" y="1103.0" width="6" height="9.0"/>
<rect x="887" y="1126.5" width="6" height="9.0"/>
<rect x="887" y="1150.0" width="6" height="9.0"/>
<rect x="887" y="1173.5" width="6" height="9.0"/>
</g>
<g fill="none" stroke="#000" stroke-width="9.5" shape-rendering="crispEdges">
<ellipse cx="413.9" cy="480.4" rx="58.4" ry="32.2" transform="rotate(-63.4 413.9 480.4)"/>
<path d="M431.4,426.2 H520"/>
<ellipse cx="486" cy="687.5" rx="41.35" ry="23.8" transform="rotate(46.1 486 687.5)"/>
<path d="M469.2,653.5 H372"/>
</g>
<g fill="#000" stroke="#000" stroke-width="9" stroke-linejoin="round" shape-rendering="crispEdges">
<path d="M519.7,416.7 L557.5,426.2 L519.7,435.7 Z"/>
<path d="M370.5,643.5 L331.5,653.5 L370.5,663.5 Z"/>
</g>
<g fill="#000" shape-rendering="crispEdges">
<rect x="312" y="70" width="9" height="1118"/>
<rect x="1659" y="70" width="9" height="1118"/>
<rect x="316" y="67" width="1348" height="8"/>
<rect x="316" y="1183" width="1348" height="9"/>
<rect x="321" y="1059" width="6" height="8"/>
<rect x="321" y="935" width="17" height="9"/>
<rect x="321" y="811" width="6" height="8"/>
<rect x="321" y="687" width="17" height="9"/>
<rect x="321" y="563" width="6" height="8"/>
<rect x="321" y="439" width="17" height="9"/>
<rect x="321" y="315" width="6" height="8"/>
<rect x="321" y="191" width="17" height="9"/>
<rect x="321" y="67" width="6" height="8"/>
<rect x="1652" y="1072" width="7" height="8"/>
<rect x="1642" y="960" width="17" height="9"/>
<rect x="1652" y="849" width="7" height="8"/>
<rect x="1642" y="736" width="17" height="9"/>
<rect x="1652" y="625" width="7" height="8"/>
<rect x="1642" y="513" width="17" height="9"/>
<rect x="1652" y="402" width="7" height="8"/>
<rect x="1642" y="290" width="17" height="9"/>
<rect x="1652" y="179" width="7" height="8"/>
<rect x="425" y="1177" width="8" height="6"/>
<rect x="537" y="1166" width="8" height="17"/>
<rect x="649" y="1177" width="8" height="6"/>
<rect x="762" y="1166" width="8" height="17"/>
<rect x="874" y="1177" width="8" height="6"/>
<rect x="986" y="1166" width="8" height="17"/>
<rect x="1098" y="1177" width="8" height="6"/>
<rect x="1210" y="1166" width="8" height="17"/>
<rect x="1323" y="1177" width="8" height="6"/>
<rect x="1435" y="1166" width="8" height="17"/>
<rect x="1547" y="1177" width="8" height="6"/>
</g>
<g filter="url(#bw)">
<text transform="translate(293.80,1205.60) scale(1.0000,1.0690)" font-size="65.00" text-anchor="end">0</text>
<text transform="translate(293.80,957.49) scale(1.0000,1.0690)" font-size="65.00" text-anchor="end">100</text>
<text transform="translate(293.80,709.38) scale(1.0000,1.0690)" font-size="65.00" text-anchor="end">200</text>
<text transform="translate(293.80,461.27) scale(1.0000,1.0690)" font-size="65.00" text-anchor="end">300</text>
<text transform="translate(293.80,213.16) scale(1.0000,1.0690)" font-size="65.00" text-anchor="end">400</text>
<text transform="translate(316.50,1263.30) scale(1.0000,1.0690)" font-size="65.00" text-anchor="middle">0</text>
<text transform="translate(541.00,1263.30) scale(1.0000,1.0690)" font-size="65.00" text-anchor="middle">500</text>
<text transform="translate(765.50,1263.30) scale(1.0000,1.0690)" font-size="65.00" text-anchor="middle">1000</text>
<text transform="translate(990.00,1263.30) scale(1.0000,1.0690)" font-size="65.00" text-anchor="middle">1500</text>
<text transform="translate(1214.50,1263.30) scale(1.0000,1.0690)" font-size="65.00" text-anchor="middle">2000</text>
<text transform="translate(1439.00,1263.30) scale(1.0000,1.0690)" font-size="65.00" text-anchor="middle">2500</text>
<text transform="translate(1663.50,1263.30) scale(1.0000,1.0690)" font-size="65.00" text-anchor="middle">3000</text>
<text transform="translate(1686.40,1205.60) scale(1.0000,1.0690)" font-size="65.00">0.0</text>
<text transform="translate(1686.40,982.30) scale(1.0000,1.0690)" font-size="65.00">0.2</text>
<text transform="translate(1686.40,759.00) scale(1.0000,1.0690)" font-size="65.00">0.4</text>
<text transform="translate(1686.40,535.70) scale(1.0000,1.0690)" font-size="65.00">0.6</text>
<text transform="translate(1686.40,312.40) scale(1.0000,1.0690)" font-size="65.00">0.8</text>
<text transform="translate(1686.40,89.10) scale(1.0000,1.0690)" font-size="65.00">1.0</text>
<text transform="translate(823.93,1404.90) scale(1.1121,0.9868)" font-size="92.30" class="i">j</text>
<text transform="translate(874.75,1404.20) scale(0.8599,0.9763)" font-size="92.30">(</text>
<text transform="translate(902.66,1404.80) scale(1.0190,1.0378)" font-size="92.30">A</text>
<text transform="translate(995.99,1404.80) scale(0.9707,0.9817)" font-size="92.30">m</text>
<text transform="translate(1076.85,1360.37) scale(0.9953,1.0454)" font-size="55.40">-</text>
<text transform="translate(1094.08,1360.00) scale(0.9486,1.0418)" font-size="55.40">2</text>
<text transform="translate(1127.72,1404.20) scale(0.8561,0.9763)" font-size="92.30">)</text>
<text transform="translate(123.00,894.65) rotate(-90) scale(1.0170,1.0236)" font-size="92.30" class="i">P</text>
<text transform="translate(74.01,829.84) rotate(-90) scale(0.8762,0.8975)" font-size="55.40">*</text>
<text transform="translate(122.58,798.80) rotate(-90) scale(0.8484,0.9670)" font-size="92.30">(</text>
<text transform="translate(123.00,768.29) rotate(-90) scale(1.0065,1.0252)" font-size="92.30">W</text>
<text transform="translate(122.90,656.04) rotate(-90) scale(1.0091,0.9636)" font-size="92.30">m</text>
<text transform="translate(81.17,572.25) rotate(-90) scale(0.9953,1.0908)" font-size="55.40">-</text>
<text transform="translate(79.00,554.77) rotate(-90) scale(0.9711,1.0108)" font-size="55.40">2</text>
<text transform="translate(122.40,519.08) rotate(-90) scale(0.8484,0.9659)" font-size="92.30">)</text>
<text transform="translate(352.73,214.90) scale(0.9952,1.0392)" font-size="67.00" class="i">P</text>
<text transform="translate(396.89,179.70) scale(0.9215,0.9340)" font-size="40.00">*</text>
<text transform="translate(394.24,237.82) scale(0.9687,0.9674)" font-size="40.00" class="i">max</text>
<text transform="translate(917.89,1157.12) scale(1.1240,0.9912)" font-size="67.00" class="i">j</text>
<text transform="translate(938.19,1180.00) scale(1.0063,1.0538)" font-size="40.00" class="i">P</text>
<text transform="translate(1244.09,163.76) scale(1.0110,1.0089)" font-size="55.00" class="i">c</text>
<text transform="translate(1276.36,183.00) scale(0.8350,1.1056)" font-size="33.00" class="i">1</text>
<text transform="translate(1306.65,161.04) scale(0.9862,0.9141)" font-size="55.00">=</text>
<text transform="translate(1355.21,163.76) scale(1.0003,1.0089)" font-size="55.00" class="i">c</text>
<text transform="translate(1386.38,183.00) scale(0.9282,1.0893)" font-size="33.00" class="i">2</text>
<text transform="translate(1417.54,161.04) scale(0.9898,0.9141)" font-size="55.00">=</text>
<text transform="translate(1464.61,164.33) scale(1.0055,1.0529)" font-size="55.00">0</text>
<text transform="translate(1244.09,250.76) scale(1.0110,1.0089)" font-size="55.00" class="i">c</text>
<text transform="translate(1276.36,270.00) scale(0.8350,1.1056)" font-size="33.00" class="i">1</text>
<text transform="translate(1306.65,248.04) scale(0.9862,0.9141)" font-size="55.00">=</text>
<text transform="translate(1355.21,250.76) scale(1.0003,1.0089)" font-size="55.00" class="i">c</text>
<text transform="translate(1386.38,270.00) scale(0.9282,1.0893)" font-size="33.00" class="i">2</text>
<text transform="translate(1417.54,248.04) scale(0.9898,0.9141)" font-size="55.00">=</text>
<text transform="translate(1464.63,251.33) scale(0.9996,1.0529)" font-size="55.00">0.05</text>
<text transform="translate(1244.09,337.76) scale(1.0110,1.0089)" font-size="55.00" class="i">c</text>
<text transform="translate(1276.36,357.00) scale(0.8350,1.1056)" font-size="33.00" class="i">1</text>
<text transform="translate(1306.65,335.04) scale(0.9862,0.9141)" font-size="55.00">=</text>
<text transform="translate(1355.21,337.76) scale(1.0003,1.0089)" font-size="55.00" class="i">c</text>
<text transform="translate(1386.38,357.00) scale(0.9282,1.0893)" font-size="33.00" class="i">2</text>
<text transform="translate(1417.54,335.04) scale(0.9898,0.9141)" font-size="55.00">=</text>
<text transform="translate(1464.61,338.33) scale(1.0058,1.0529)" font-size="55.00">0.2</text>
<text transform="translate(1838.50,636.00) rotate(90) skewX(-16) scale(0.99,0.945)" font-size="95.3" stroke="#000" stroke-width="2.8" stroke-linejoin="miter" style="font-family:'Liberation Serif',serif;font-weight:normal">η</text>
</g>
<g shape-rendering="crispEdges">
<rect x="1154" y="147" width="79" height="9" fill="#000"/>
<rect x="1154" y="234" width="32" height="9" fill="#f00"/><rect x="1227" y="234" width="6" height="9" fill="#f00"/>
<rect x="1154" y="321" width="39" height="9" fill="#00f"/><rect x="1216" y="321" width="6" height="9" fill="#00f"/>
</g>
</svg></body></html>
